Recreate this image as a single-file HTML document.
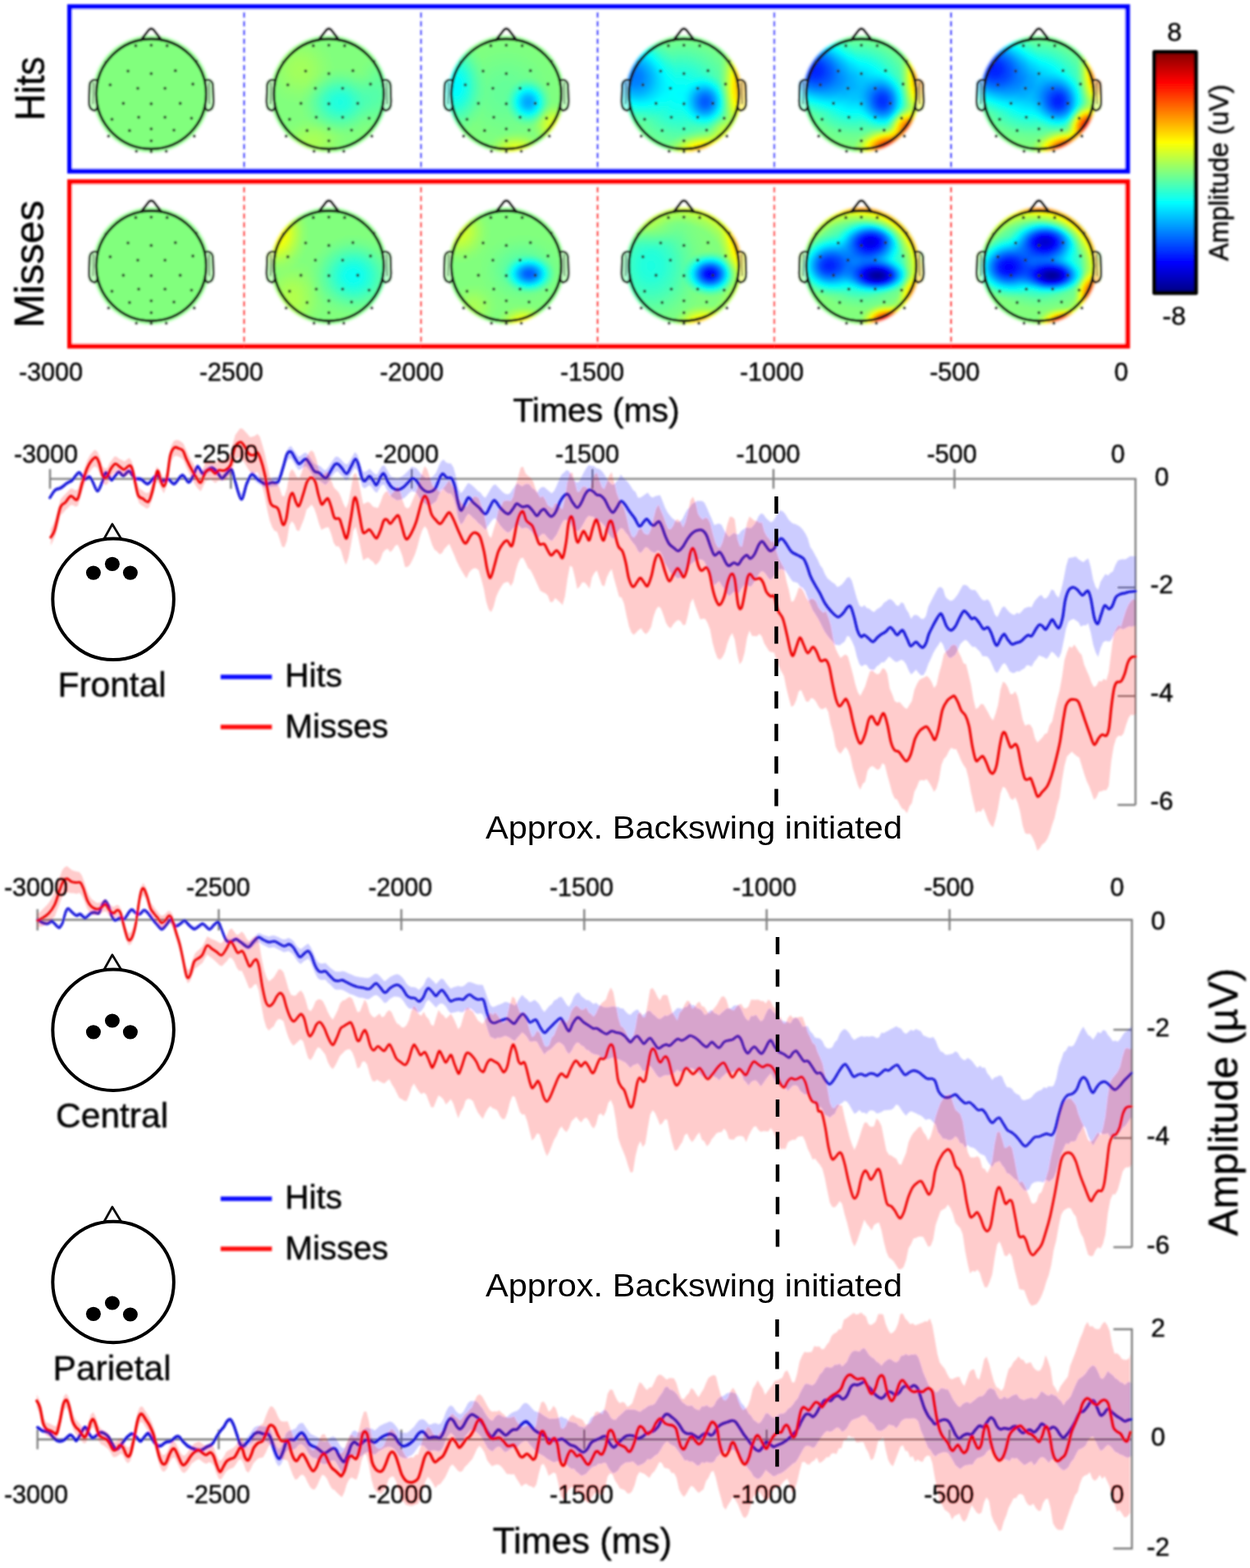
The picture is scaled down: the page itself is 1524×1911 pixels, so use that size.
<!DOCTYPE html>
<html lang="en"><head><meta charset="utf-8"><title>ERP figure</title>
<style>
html,body{margin:0;padding:0;background:#fff;}
body{width:1524px;height:1911px;overflow:hidden;}
svg{display:block;font-family:"Liberation Sans", sans-serif;}
text{fill:#000;}
.bl text{stroke:#111;stroke-width:0.45px;}
</style></head><body>
<svg width="1524" height="1911" viewBox="0 0 1524 1911">
<defs>
<filter id="jet" x="-10%" y="-10%" width="120%" height="120%" color-interpolation-filters="sRGB">
<feComponentTransfer>
<feFuncR type="table" tableValues="0 0 0 0 0.5 1 1 1 0.5"/>
<feFuncG type="table" tableValues="0 0 0.5 1 1 1 0.5 0 0"/>
<feFuncB type="table" tableValues="0.5 1 1 1 0.5 0 0 0 0"/>
</feComponentTransfer>
<feGaussianBlur stdDeviation="1.6"/>
</filter>
<filter id="soft2" x="-5%" y="-5%" width="110%" height="110%"><feGaussianBlur stdDeviation="0.55"/></filter>
<filter id="soft" filterUnits="userSpaceOnUse" x="0" y="0" width="1524" height="1911"><feGaussianBlur stdDeviation="1.0"/></filter>
<radialGradient id="gk"><stop offset="0" stop-color="#000" stop-opacity="1"/><stop offset="0.2" stop-color="#000" stop-opacity="0.9"/><stop offset="0.4" stop-color="#000" stop-opacity="0.66"/><stop offset="0.6" stop-color="#000" stop-opacity="0.36"/><stop offset="0.8" stop-color="#000" stop-opacity="0.12"/><stop offset="1" stop-color="#000" stop-opacity="0"/></radialGradient>
<radialGradient id="gw"><stop offset="0" stop-color="#fff" stop-opacity="1"/><stop offset="0.2" stop-color="#fff" stop-opacity="0.9"/><stop offset="0.4" stop-color="#fff" stop-opacity="0.66"/><stop offset="0.6" stop-color="#fff" stop-opacity="0.36"/><stop offset="0.8" stop-color="#fff" stop-opacity="0.12"/><stop offset="1" stop-color="#fff" stop-opacity="0"/></radialGradient>
<radialGradient id="gr"><stop offset="0" stop-color="#fff" stop-opacity="0"/><stop offset="0.72" stop-color="#fff" stop-opacity="0"/><stop offset="0.86" stop-color="#fff" stop-opacity="0.35"/><stop offset="1" stop-color="#fff" stop-opacity="1"/></radialGradient>
<linearGradient id="cbar" x1="0" y1="1" x2="0" y2="0">
<stop offset="0" stop-color="#000080"/><stop offset="0.125" stop-color="#0000ff"/><stop offset="0.375" stop-color="#00ffff"/><stop offset="0.5" stop-color="#80ff80"/><stop offset="0.625" stop-color="#ffff00"/><stop offset="0.875" stop-color="#ff0000"/><stop offset="1" stop-color="#800000"/>
</linearGradient>
<clipPath id="hc"><circle cx="0" cy="0" r="71"/><rect x="-75.5" y="-17" width="12" height="37" rx="5"/><rect x="63.5" y="-17" width="12" height="37" rx="5"/></clipPath>
<g id="head" fill="none" stroke="#161616" stroke-width="3.3" stroke-linejoin="round" stroke-linecap="round">
<path d="M-12.5,-65.8 L-3,-78 Q0,-81 3,-78 L12.5,-65.8"/>
<path d="M-66.3,-17 Q-74,-18.5 -75.2,-11 L-76,9 Q-76,19.5 -69,20.3 Q-66,19 -65.5,14" stroke-width="2.7" fill="#fff" fill-opacity="0.5"/>
<path d="M66.3,-17 Q74,-18.5 75.2,-11 L76,9 Q76,19.5 69,20.3 Q66,19 65.5,14" stroke-width="2.7" fill="#fff" fill-opacity="0.5"/>
<path d="M-70.5,-14 L-71,12 M70.5,-14 L71,12" stroke-width="1.2" opacity="0.7"/>
<circle cx="0" cy="0" r="67"/>
<g fill="#263026" stroke="none" opacity="0.95">
<circle cx="-18.9" cy="-58.8" r="1.9"/><circle cx="0.0" cy="-59.4" r="1.9"/><circle cx="19.3" cy="-58.8" r="1.9"/><circle cx="-55.2" cy="-38.8" r="1.9"/><circle cx="55.0" cy="-39.9" r="1.9"/><circle cx="-28.3" cy="-27.9" r="1.9"/><circle cx="0.0" cy="-24.8" r="1.9"/><circle cx="29.4" cy="-28.3" r="1.9"/><circle cx="-50.0" cy="-11.1" r="1.9"/><circle cx="50.8" cy="-12.0" r="1.9"/><circle cx="-16.4" cy="-6.9" r="1.9"/><circle cx="16.8" cy="-6.9" r="1.9"/><circle cx="-34.0" cy="11.5" r="1.9"/><circle cx="0.0" cy="12.0" r="1.9"/><circle cx="35.3" cy="11.5" r="1.9"/><circle cx="-47.9" cy="30.9" r="1.9"/><circle cx="49.1" cy="29.6" r="1.9"/><circle cx="-15.3" cy="28.3" r="1.9"/><circle cx="16.8" cy="28.3" r="1.9"/><circle cx="-26.5" cy="44.7" r="1.9"/><circle cx="0.0" cy="42.6" r="1.9"/><circle cx="27.7" cy="44.1" r="1.9"/><circle cx="0.0" cy="57.1" r="1.9"/><circle cx="-52.1" cy="51.4" r="1.9"/><circle cx="52.5" cy="51.4" r="1.9"/><circle cx="-18.1" cy="69.9" r="1.9"/><circle cx="0.0" cy="70.3" r="1.9"/><circle cx="18.3" cy="69.9" r="1.9"/></g></g>
</defs>
<rect width="1524" height="1911" fill="#fff"/>
<g class="bl" filter="url(#soft)">
<rect x="85" y="8.2" width="1289.7" height="200.3" fill="#fff" stroke="#0000ff" stroke-width="6"/>
<rect x="85" y="221.5" width="1289.7" height="200.3" fill="#fff" stroke="#ff0000" stroke-width="6"/>
<line x1="297.7" y1="15" x2="297.7" y2="206" stroke="#1010ff" stroke-width="2.3" stroke-dasharray="6.5 4.2"/>
<line x1="297.7" y1="228" x2="297.7" y2="424" stroke="#ff1010" stroke-width="2.3" stroke-dasharray="6.5 4.2"/>
<line x1="513.2" y1="15" x2="513.2" y2="206" stroke="#1010ff" stroke-width="2.3" stroke-dasharray="6.5 4.2"/>
<line x1="513.2" y1="228" x2="513.2" y2="424" stroke="#ff1010" stroke-width="2.3" stroke-dasharray="6.5 4.2"/>
<line x1="728.6" y1="15" x2="728.6" y2="206" stroke="#1010ff" stroke-width="2.3" stroke-dasharray="6.5 4.2"/>
<line x1="728.6" y1="228" x2="728.6" y2="424" stroke="#ff1010" stroke-width="2.3" stroke-dasharray="6.5 4.2"/>
<line x1="944.0" y1="15" x2="944.0" y2="206" stroke="#1010ff" stroke-width="2.3" stroke-dasharray="6.5 4.2"/>
<line x1="944.0" y1="228" x2="944.0" y2="424" stroke="#ff1010" stroke-width="2.3" stroke-dasharray="6.5 4.2"/>
<line x1="1159.6" y1="15" x2="1159.6" y2="206" stroke="#1010ff" stroke-width="2.3" stroke-dasharray="6.5 4.2"/>
<line x1="1159.6" y1="228" x2="1159.6" y2="424" stroke="#ff1010" stroke-width="2.3" stroke-dasharray="6.5 4.2"/>
<g transform="translate(184.4,114.5)"><g filter="url(#jet)"><g clip-path="url(#hc)"><rect x="-80" y="-80" width="160" height="160" fill="#808080"/></g></g><use href="#head"/></g>
<g transform="translate(400.9,114.5)"><g filter="url(#jet)"><g clip-path="url(#hc)"><rect x="-80" y="-80" width="160" height="160" fill="#808080"/><ellipse cx="14" cy="10" rx="50" ry="42" fill="url(#gk)" opacity="0.2"/><ellipse cx="60" cy="0" rx="30" ry="50" fill="url(#gk)" opacity="0.08"/><ellipse cx="-35" cy="-30" rx="45" ry="45" fill="url(#gw)" opacity="0.07"/><ellipse cx="-20" cy="58" rx="45" ry="30" fill="url(#gw)" opacity="0.08"/></g></g><use href="#head"/></g>
<g transform="translate(617.3,114.5)"><g filter="url(#jet)"><g clip-path="url(#hc)"><rect x="-80" y="-80" width="160" height="160" fill="#808080"/><ellipse cx="27" cy="10" rx="28" ry="30" fill="url(#gk)" opacity="0.42"/><ellipse cx="-62" cy="-10" rx="38" ry="62" fill="url(#gk)" opacity="0.27"/><ellipse cx="0" cy="0" rx="70" ry="70" fill="url(#gk)" opacity="0.06"/><ellipse cx="58" cy="38" rx="28" ry="28" fill="url(#gw)" opacity="0.2"/><ellipse cx="12" cy="70" rx="38" ry="25" fill="url(#gw)" opacity="0.22"/></g></g><use href="#head"/></g>
<g transform="translate(833.8,114.5)"><g filter="url(#jet)"><g clip-path="url(#hc)"><rect x="-80" y="-80" width="160" height="160" fill="#808080"/><ellipse cx="27" cy="10" rx="30" ry="34" fill="url(#gk)" opacity="0.5"/><ellipse cx="-62" cy="-22" rx="52" ry="60" fill="url(#gk)" opacity="0.5"/><ellipse cx="-5" cy="0" rx="85" ry="80" fill="url(#gk)" opacity="0.26"/><ellipse cx="70" cy="-10" rx="28" ry="70" fill="url(#gw)" opacity="0.42"/><ellipse cx="25" cy="72" rx="50" ry="28" fill="url(#gw)" opacity="0.45"/><ellipse cx="52" cy="50" rx="26" ry="26" fill="url(#gw)" opacity="0.2"/></g></g><use href="#head"/></g>
<g transform="translate(1050.2,114.5)"><g filter="url(#jet)"><g clip-path="url(#hc)"><rect x="-80" y="-80" width="160" height="160" fill="#808080"/><ellipse cx="27" cy="10" rx="32" ry="38" fill="url(#gk)" opacity="0.58"/><ellipse cx="-60" cy="-30" rx="58" ry="55" fill="url(#gk)" opacity="0.66"/><ellipse cx="-8" cy="-8" rx="85" ry="72" fill="url(#gk)" opacity="0.4"/><ellipse cx="72" cy="-20" rx="26" ry="60" fill="url(#gw)" opacity="0.5"/><ellipse cx="36" cy="66" rx="46" ry="26" fill="url(#gw)" opacity="0.75"/><ellipse cx="58" cy="42" rx="28" ry="28" fill="url(#gw)" opacity="0.6"/></g></g><use href="#head"/></g>
<g transform="translate(1266.6,114.5)"><g filter="url(#jet)"><g clip-path="url(#hc)"><rect x="-80" y="-80" width="160" height="160" fill="#808080"/><ellipse cx="25" cy="10" rx="34" ry="38" fill="url(#gk)" opacity="0.6"/><ellipse cx="-58" cy="-32" rx="60" ry="55" fill="url(#gk)" opacity="0.66"/><ellipse cx="-8" cy="-8" rx="88" ry="72" fill="url(#gk)" opacity="0.42"/><ellipse cx="74" cy="-25" rx="28" ry="55" fill="url(#gw)" opacity="0.6"/><ellipse cx="36" cy="68" rx="46" ry="26" fill="url(#gw)" opacity="0.75"/><ellipse cx="60" cy="40" rx="28" ry="30" fill="url(#gw)" opacity="0.75"/></g></g><use href="#head"/></g>
<g transform="translate(184.4,324.0)"><g filter="url(#jet)"><g clip-path="url(#hc)"><rect x="-80" y="-80" width="160" height="160" fill="#808080"/></g></g><use href="#head"/></g>
<g transform="translate(400.9,324.0)"><g filter="url(#jet)"><g clip-path="url(#hc)"><rect x="-80" y="-80" width="160" height="160" fill="#808080"/><ellipse cx="30" cy="12" rx="55" ry="50" fill="url(#gk)" opacity="0.24"/><ellipse cx="-64" cy="-40" rx="40" ry="50" fill="url(#gw)" opacity="0.28"/><ellipse cx="-45" cy="40" rx="40" ry="50" fill="url(#gw)" opacity="0.1"/></g></g><use href="#head"/></g>
<g transform="translate(617.3,324.0)"><g filter="url(#jet)"><g clip-path="url(#hc)"><rect x="-80" y="-80" width="160" height="160" fill="#808080"/><ellipse cx="28" cy="10" rx="32" ry="24" fill="url(#gk)" opacity="0.55"/><ellipse cx="20" cy="5" rx="55" ry="45" fill="url(#gk)" opacity="0.1"/><ellipse cx="-58" cy="-42" rx="40" ry="40" fill="url(#gw)" opacity="0.17"/><ellipse cx="22" cy="70" rx="35" ry="22" fill="url(#gw)" opacity="0.28"/><ellipse cx="-40" cy="50" rx="30" ry="30" fill="url(#gw)" opacity="0.08"/></g></g><use href="#head"/></g>
<g transform="translate(833.8,324.0)"><g filter="url(#jet)"><g clip-path="url(#hc)"><rect x="-80" y="-80" width="160" height="160" fill="#808080"/><ellipse cx="32" cy="10" rx="34" ry="28" fill="url(#gk)" opacity="0.78"/><ellipse cx="-40" cy="0" rx="70" ry="80" fill="url(#gk)" opacity="0.2"/><ellipse cx="72" cy="-30" rx="30" ry="50" fill="url(#gw)" opacity="0.3"/><ellipse cx="25" cy="72" rx="40" ry="25" fill="url(#gw)" opacity="0.38"/><ellipse cx="-40" cy="-48" rx="40" ry="30" fill="url(#gw)" opacity="0.1"/><circle cx="-8" cy="8" r="82" fill="url(#gr)" opacity="0.22"/></g></g><use href="#head"/></g>
<g transform="translate(1050.2,324.0)"><g filter="url(#jet)"><g clip-path="url(#hc)"><rect x="-80" y="-80" width="160" height="160" fill="#808080"/><ellipse cx="20" cy="12" rx="42" ry="22" fill="url(#gk)" opacity="0.95"/><ellipse cx="12" cy="-30" rx="42" ry="28" fill="url(#gk)" opacity="0.75"/><ellipse cx="-42" cy="0" rx="40" ry="38" fill="url(#gk)" opacity="0.62"/><ellipse cx="0" cy="-5" rx="72" ry="58" fill="url(#gk)" opacity="0.5"/><ellipse cx="32" cy="68" rx="34" ry="22" fill="url(#gw)" opacity="0.85"/><ellipse cx="66" cy="36" rx="22" ry="28" fill="url(#gw)" opacity="0.35"/><ellipse cx="0" cy="-74" rx="50" ry="14" fill="url(#gw)" opacity="0.25"/><circle cx="-8" cy="8" r="82" fill="url(#gr)" opacity="0.4"/></g></g><use href="#head"/></g>
<g transform="translate(1266.6,324.0)"><g filter="url(#jet)"><g clip-path="url(#hc)"><rect x="-80" y="-80" width="160" height="160" fill="#808080"/><ellipse cx="16" cy="12" rx="42" ry="22" fill="url(#gk)" opacity="0.95"/><ellipse cx="8" cy="-30" rx="44" ry="28" fill="url(#gk)" opacity="0.8"/><ellipse cx="-40" cy="2" rx="44" ry="38" fill="url(#gk)" opacity="0.7"/><ellipse cx="0" cy="-5" rx="74" ry="58" fill="url(#gk)" opacity="0.5"/><ellipse cx="32" cy="70" rx="36" ry="20" fill="url(#gw)" opacity="0.8"/><ellipse cx="64" cy="32" rx="22" ry="28" fill="url(#gw)" opacity="0.5"/><ellipse cx="0" cy="-74" rx="55" ry="14" fill="url(#gw)" opacity="0.3"/><circle cx="-8" cy="8" r="82" fill="url(#gr)" opacity="0.42"/></g></g><use href="#head"/></g>
<text transform="translate(53.5,108) rotate(-90)" font-size="50" text-anchor="middle" textLength="78" lengthAdjust="spacingAndGlyphs">Hits</text>
<text transform="translate(53,322) rotate(-90)" font-size="50" text-anchor="middle">Misses</text>
<text x="62" y="463.5" font-size="30.6" text-anchor="middle" fill="#1a1a1a">-3000</text>
<text x="282" y="463.5" font-size="30.6" text-anchor="middle" fill="#1a1a1a">-2500</text>
<text x="502" y="463.5" font-size="30.6" text-anchor="middle" fill="#1a1a1a">-2000</text>
<text x="722" y="463.5" font-size="30.6" text-anchor="middle" fill="#1a1a1a">-1500</text>
<text x="941" y="463.5" font-size="30.6" text-anchor="middle" fill="#1a1a1a">-1000</text>
<text x="1164" y="463.5" font-size="30.6" text-anchor="middle" fill="#1a1a1a">-500</text>
<text x="1367" y="463.5" font-size="30.6" text-anchor="middle" fill="#1a1a1a">0</text>
<text x="727" y="514" font-size="41" text-anchor="middle">Times (ms)</text>
<rect x="1407.5" y="63.5" width="50.5" height="293.5" fill="url(#cbar)" stroke="#000" stroke-width="5" stroke-linejoin="round"/>
<text x="1432" y="50.3" font-size="32" text-anchor="middle">8</text>
<text x="1431.5" y="396" font-size="32" text-anchor="middle">-8</text>
<text transform="translate(1497.3,210.5) rotate(-90)" font-size="32.5" text-anchor="middle" fill="#1a1a1a">Amplitude (uV)</text>
<g stroke="#7f7f7f" stroke-width="2.4" fill="none"><path d="M61,583.6 H1384.4 V981"/><path d="M61,571.6 V595.6"/><path d="M281.5,571.6 V595.6"/><path d="M502,571.6 V595.6"/><path d="M722.3,571.6 V595.6"/><path d="M943,571.6 V595.6"/><path d="M1163.7,571.6 V595.6"/><path d="M1362.5,716 H1384.4"/><path d="M1362.5,848.3 H1384.4"/><path d="M1362.5,981 H1384.4"/><path d="M45.7,1121 H1380 V1520"/><path d="M45.7,1108 V1134"/><path d="M266.7,1108 V1134"/><path d="M489.3,1108 V1134"/><path d="M712.3,1108 V1134"/><path d="M934.7,1108 V1134"/><path d="M1157.7,1108 V1134"/><path d="M1357.5,1255 H1380"/><path d="M1357.5,1387 H1380"/><path d="M1357.5,1520 H1380"/><path d="M45.7,1754.3 H1380"/><path d="M1357.5,1620 H1380 V1887.3 H1357.5"/><path d="M45.7,1742.3 V1766.3"/><path d="M266.7,1742.3 V1766.3"/><path d="M489.3,1742.3 V1766.3"/><path d="M712.3,1742.3 V1766.3"/><path d="M934.7,1742.3 V1766.3"/><path d="M1157.7,1742.3 V1766.3"/></g>
<path d="M60.8,603.7 L63.8,599.2 L66.8,594.8 L69.8,593.1 L72.8,592.0 L75.8,590.4 L78.8,588.1 L81.8,585.8 L84.8,584.1 L87.8,582.3 L90.8,579.1 L93.8,575.6 L96.8,573.5 L99.8,577.0 L102.8,580.6 L105.8,579.6 L108.8,578.0 L111.8,582.3 L114.8,587.5 L117.8,593.7 L120.8,591.9 L123.8,585.8 L126.8,578.4 L129.8,574.5 L132.8,578.3 L135.8,581.1 L138.8,579.1 L141.8,575.5 L144.8,572.4 L147.8,575.0 L150.8,576.7 L153.8,574.2 L156.8,571.6 L159.8,574.5 L162.8,578.3 L165.8,580.1 L168.8,580.6 L171.8,580.9 L174.8,583.1 L177.8,585.4 L180.8,585.9 L183.8,583.1 L186.8,580.0 L189.8,577.5 L192.8,577.3 L195.8,580.9 L198.8,582.7 L201.8,581.9 L204.8,581.1 L207.8,582.7 L210.8,585.5 L213.8,585.1 L216.8,581.7 L219.8,578.3 L222.8,576.3 L225.8,579.6 L228.8,582.9 L231.8,581.7 L234.8,577.4 L237.8,571.5 L240.8,564.8 L243.8,568.9 L246.8,573.4 L249.8,571.4 L252.8,569.3 L255.8,567.7 L258.8,566.5 L261.8,569.0 L264.8,571.5 L267.8,575.3 L270.8,578.5 L273.8,575.5 L276.8,572.7 L279.8,569.9 L282.8,569.6 L285.8,579.5 L288.8,588.3 L291.8,597.5 L294.8,601.9 L297.8,593.3 L300.8,584.9 L303.8,579.1 L306.8,573.6 L309.8,575.8 L312.8,578.4 L315.8,580.3 L318.8,582.0 L321.8,584.0 L324.8,584.5 L327.8,583.9 L330.8,582.9 L333.8,582.1 L336.8,581.4 L339.8,579.6 L342.8,570.3 L345.8,560.6 L348.8,550.4 L351.8,545.4 L354.8,543.5 L357.8,547.9 L360.8,551.9 L363.8,556.4 L366.8,555.6 L369.8,552.8 L372.8,551.4 L375.8,554.3 L378.8,558.5 L381.8,563.2 L384.8,566.3 L387.8,567.0 L390.8,568.6 L393.8,571.6 L396.8,573.6 L399.8,570.0 L402.8,565.3 L405.8,561.0 L408.8,556.8 L411.8,556.4 L414.8,558.9 L417.8,562.2 L420.8,565.5 L423.8,565.7 L426.8,561.0 L429.8,556.0 L432.8,551.0 L435.8,554.3 L438.8,563.5 L441.8,573.8 L444.8,575.6 L447.8,573.4 L450.8,571.1 L453.8,574.5 L456.8,577.5 L459.8,578.4 L462.8,572.6 L465.8,567.7 L468.8,567.3 L471.8,572.6 L474.8,578.0 L477.8,581.6 L480.8,582.3 L483.8,583.2 L486.8,582.6 L489.8,580.7 L492.8,578.5 L495.8,575.4 L498.8,572.4 L501.8,568.7 L504.8,569.5 L507.8,570.8 L510.8,574.6 L513.8,578.2 L516.8,580.5 L519.8,583.1 L522.8,582.1 L525.8,582.0 L528.8,579.8 L531.8,575.7 L534.8,568.3 L537.8,562.2 L540.8,560.0 L543.8,563.6 L546.8,564.8 L549.8,564.8 L552.8,569.5 L555.8,580.0 L558.8,594.7 L561.8,601.2 L564.8,598.0 L567.8,593.0 L570.8,588.5 L573.8,590.2 L576.8,592.6 L579.8,595.4 L582.8,598.6 L585.8,600.2 L588.8,604.4 L591.8,606.8 L594.8,601.8 L597.8,596.5 L600.8,591.9 L603.8,590.3 L606.8,593.2 L609.8,596.5 L612.8,599.4 L615.8,601.8 L618.8,602.4 L621.8,601.2 L624.8,596.7 L627.8,592.5 L630.8,588.9 L633.8,591.3 L636.8,592.7 L639.8,590.4 L642.8,589.8 L645.8,590.7 L648.8,594.9 L651.8,596.7 L654.8,600.5 L657.8,595.8 L660.8,593.4 L663.8,593.7 L666.8,596.4 L669.8,599.0 L672.8,601.2 L675.8,597.9 L678.8,591.8 L681.8,584.1 L684.8,578.2 L687.8,575.8 L690.8,572.7 L693.8,574.2 L696.8,579.7 L699.8,584.5 L702.8,588.0 L705.8,587.0 L708.8,581.6 L711.8,575.6 L714.8,570.6 L717.8,566.7 L720.8,567.7 L723.8,567.8 L726.8,570.4 L729.8,571.3 L732.8,573.1 L735.8,576.5 L738.8,581.5 L741.8,586.3 L744.8,589.7 L747.8,591.1 L750.8,588.0 L753.8,584.0 L756.8,578.3 L759.8,581.9 L762.8,584.7 L765.8,588.1 L768.8,592.2 L771.8,597.2 L774.8,599.6 L777.8,606.4 L780.8,606.5 L783.8,604.6 L786.8,602.3 L789.8,600.2 L792.8,604.8 L795.8,606.4 L798.8,604.7 L801.8,603.9 L804.8,603.4 L807.8,610.4 L810.8,618.6 L813.8,624.3 L816.8,628.2 L819.8,631.8 L822.8,633.8 L825.8,636.7 L828.8,635.5 L831.8,633.0 L834.8,626.8 L837.8,621.2 L840.8,618.5 L843.8,614.1 L846.8,612.6 L849.8,610.5 L852.8,610.6 L855.8,610.6 L858.8,612.4 L861.8,618.8 L864.8,626.1 L867.8,632.4 L870.8,640.0 L873.8,638.8 L876.8,638.1 L879.8,639.7 L882.8,646.1 L885.8,650.4 L888.8,654.5 L891.8,651.8 L894.8,649.5 L897.8,650.9 L900.8,651.2 L903.8,646.8 L906.8,644.9 L909.8,642.7 L912.8,643.5 L915.8,643.6 L918.8,640.4 L921.8,636.3 L924.8,629.3 L927.8,625.8 L930.8,626.8 L933.8,631.3 L936.8,633.9 L939.8,636.6 L942.8,635.1 L945.8,629.9 L948.8,624.3 L951.8,622.1 L954.8,623.4 L957.8,627.1 L960.8,632.3 L963.8,635.7 L966.8,638.1 L969.8,638.8 L972.8,640.3 L975.8,642.2 L978.8,645.4 L981.8,649.9 L984.8,655.9 L987.8,666.5 L990.8,670.8 L993.8,676.6 L996.8,681.7 L999.8,688.8 L1002.8,692.5 L1005.8,699.8 L1008.8,704.7 L1011.8,707.3 L1014.8,709.7 L1017.8,711.6 L1020.8,715.4 L1023.8,714.3 L1026.8,712.0 L1029.8,708.2 L1032.8,704.0 L1035.8,703.3 L1038.8,708.3 L1041.8,719.3 L1044.8,729.4 L1047.8,737.9 L1050.8,740.1 L1053.8,737.4 L1056.8,741.1 L1059.8,741.8 L1062.8,744.4 L1065.8,746.0 L1068.8,742.7 L1071.8,741.1 L1074.8,738.7 L1077.8,734.6 L1080.8,732.8 L1083.8,730.3 L1086.8,730.8 L1089.8,733.5 L1092.8,737.8 L1095.8,738.4 L1098.8,733.9 L1101.8,735.5 L1104.8,742.5 L1107.8,747.0 L1110.8,754.2 L1113.8,749.9 L1116.8,749.3 L1119.8,750.8 L1122.8,754.1 L1125.8,754.6 L1128.8,750.9 L1131.8,739.3 L1134.8,733.2 L1137.8,727.6 L1140.8,721.7 L1143.8,716.5 L1146.8,715.3 L1149.8,717.7 L1152.8,727.4 L1155.8,730.4 L1158.8,732.3 L1161.8,731.5 L1164.8,728.2 L1167.8,724.2 L1170.8,718.8 L1173.8,713.2 L1176.8,712.8 L1179.8,714.3 L1182.8,718.1 L1185.8,719.2 L1188.8,718.9 L1191.8,722.8 L1194.8,727.6 L1197.8,731.2 L1200.8,732.0 L1203.8,730.2 L1206.8,733.6 L1209.8,740.4 L1212.8,748.7 L1215.8,752.3 L1218.8,746.5 L1221.8,740.2 L1224.8,739.0 L1227.8,743.1 L1230.8,746.2 L1233.8,748.5 L1236.8,749.6 L1239.8,746.8 L1242.8,747.9 L1245.8,745.0 L1248.8,741.6 L1251.8,740.3 L1254.8,739.4 L1257.8,739.9 L1260.8,733.5 L1263.8,729.8 L1266.8,726.4 L1269.8,725.0 L1272.8,729.6 L1275.8,729.1 L1278.8,725.2 L1281.8,718.4 L1284.8,719.5 L1287.8,725.6 L1290.8,728.6 L1293.8,718.7 L1296.8,705.8 L1299.8,690.0 L1302.8,680.1 L1305.8,679.8 L1308.8,679.0 L1311.8,678.3 L1314.8,681.5 L1317.8,683.4 L1320.8,685.3 L1323.8,682.4 L1326.8,680.5 L1329.8,690.9 L1332.8,706.7 L1335.8,715.4 L1338.8,719.1 L1341.8,708.9 L1344.8,703.9 L1347.8,699.4 L1350.8,701.6 L1353.8,698.2 L1356.8,696.4 L1359.8,688.7 L1362.8,683.3 L1365.8,682.0 L1368.8,681.6 L1371.8,681.7 L1374.8,680.1 L1377.8,677.8 L1380.8,678.1 L1383.8,677.7 L1384.5,678.0 L1384.5,763.2 L1383.8,762.2 L1380.8,763.7 L1377.8,763.3 L1374.8,764.1 L1371.8,765.7 L1368.8,767.0 L1365.8,765.2 L1362.8,767.7 L1359.8,770.3 L1356.8,776.8 L1353.8,781.6 L1350.8,781.8 L1347.8,781.1 L1344.8,783.0 L1341.8,790.1 L1338.8,800.7 L1335.8,795.0 L1332.8,785.7 L1329.8,770.4 L1326.8,759.4 L1323.8,762.2 L1320.8,762.0 L1317.8,763.8 L1314.8,758.3 L1311.8,756.2 L1308.8,754.2 L1305.8,755.5 L1302.8,757.4 L1299.8,766.0 L1296.8,781.6 L1293.8,795.4 L1290.8,802.2 L1287.8,799.3 L1284.8,795.8 L1281.8,794.3 L1278.8,799.8 L1275.8,803.2 L1272.8,801.0 L1269.8,800.0 L1266.8,798.8 L1263.8,803.3 L1260.8,806.7 L1257.8,812.4 L1254.8,811.0 L1251.8,810.7 L1248.8,814.7 L1245.8,816.3 L1242.8,818.5 L1239.8,817.9 L1236.8,820.2 L1233.8,820.0 L1230.8,818.1 L1227.8,812.1 L1224.8,808.0 L1221.8,810.2 L1218.8,815.5 L1215.8,820.4 L1212.8,817.6 L1209.8,810.4 L1206.8,803.9 L1203.8,800.2 L1200.8,799.7 L1197.8,799.8 L1194.8,794.2 L1191.8,791.4 L1188.8,788.2 L1185.8,788.6 L1182.8,785.4 L1179.8,781.6 L1176.8,779.7 L1173.8,781.9 L1170.8,785.1 L1167.8,791.5 L1164.8,797.7 L1161.8,800.1 L1158.8,801.9 L1155.8,800.3 L1152.8,794.3 L1149.8,785.7 L1146.8,781.4 L1143.8,786.4 L1140.8,790.7 L1137.8,796.1 L1134.8,803.0 L1131.8,809.2 L1128.8,817.8 L1125.8,823.1 L1122.8,823.0 L1119.8,819.9 L1116.8,815.9 L1113.8,819.5 L1110.8,821.9 L1107.8,816.9 L1104.8,809.7 L1101.8,805.6 L1098.8,804.0 L1095.8,805.7 L1092.8,807.0 L1089.8,805.2 L1086.8,802.2 L1083.8,799.9 L1080.8,803.9 L1077.8,807.3 L1074.8,807.3 L1071.8,810.2 L1068.8,812.2 L1065.8,816.5 L1062.8,816.5 L1059.8,815.2 L1056.8,810.6 L1053.8,810.0 L1050.8,812.2 L1047.8,809.4 L1044.8,800.7 L1041.8,788.5 L1038.8,781.7 L1035.8,776.0 L1032.8,775.1 L1029.8,782.0 L1026.8,783.9 L1023.8,786.5 L1020.8,786.0 L1017.8,785.7 L1014.8,781.3 L1011.8,778.2 L1008.8,774.6 L1005.8,770.3 L1002.8,764.6 L999.8,758.3 L996.8,752.8 L993.8,747.9 L990.8,743.2 L987.8,736.0 L984.8,729.0 L981.8,720.8 L978.8,716.5 L975.8,715.2 L972.8,710.7 L969.8,709.4 L966.8,709.1 L963.8,705.3 L960.8,700.5 L957.8,696.0 L954.8,693.9 L951.8,693.2 L948.8,694.9 L945.8,699.4 L942.8,702.9 L939.8,706.7 L936.8,704.3 L933.8,699.7 L930.8,696.4 L927.8,696.3 L924.8,700.1 L921.8,705.5 L918.8,710.6 L915.8,714.7 L912.8,714.5 L909.8,711.6 L906.8,713.8 L903.8,717.6 L900.8,722.9 L897.8,721.8 L894.8,721.1 L891.8,723.9 L888.8,726.4 L885.8,722.6 L882.8,717.3 L879.8,713.3 L876.8,707.9 L873.8,710.7 L870.8,713.3 L867.8,706.1 L864.8,698.6 L861.8,690.9 L858.8,684.2 L855.8,682.0 L852.8,681.7 L849.8,682.2 L846.8,684.0 L843.8,686.5 L840.8,688.7 L837.8,693.8 L834.8,697.8 L831.8,701.6 L828.8,704.3 L825.8,705.0 L822.8,701.8 L819.8,699.7 L816.8,697.2 L813.8,691.6 L810.8,686.5 L807.8,677.6 L804.8,672.2 L801.8,670.8 L798.8,673.8 L795.8,673.0 L792.8,671.1 L789.8,667.6 L786.8,666.8 L783.8,670.7 L780.8,674.0 L777.8,671.3 L774.8,665.0 L771.8,661.4 L768.8,657.6 L765.8,652.2 L762.8,649.0 L759.8,644.6 L756.8,643.4 L753.8,647.1 L750.8,652.4 L747.8,656.8 L744.8,654.6 L741.8,650.6 L738.8,643.1 L735.8,639.3 L732.8,636.3 L729.8,635.5 L726.8,634.0 L723.8,629.7 L720.8,629.5 L717.8,628.5 L714.8,631.7 L711.8,637.2 L708.8,642.5 L705.8,646.7 L702.8,646.7 L699.8,644.7 L696.8,640.3 L693.8,634.0 L690.8,633.8 L687.8,633.4 L684.8,637.9 L681.8,644.4 L678.8,651.3 L675.8,655.2 L672.8,659.2 L669.8,657.5 L666.8,654.3 L663.8,650.5 L660.8,650.8 L657.8,653.6 L654.8,657.6 L651.8,652.7 L648.8,648.6 L645.8,645.5 L642.8,643.2 L639.8,643.1 L636.8,644.2 L633.8,642.1 L630.8,638.6 L627.8,641.3 L624.8,644.5 L621.8,648.1 L618.8,649.0 L615.8,646.8 L612.8,643.8 L609.8,640.2 L606.8,635.6 L603.8,631.3 L600.8,633.0 L597.8,637.1 L594.8,641.2 L591.8,645.8 L588.8,642.5 L585.8,639.6 L582.8,637.2 L579.8,633.5 L576.8,631.3 L573.8,628.0 L570.8,626.0 L567.8,630.4 L564.8,636.6 L561.8,639.2 L558.8,632.3 L555.8,617.1 L552.8,606.5 L549.8,601.5 L546.8,601.4 L543.8,599.5 L540.8,595.7 L537.8,597.5 L534.8,603.5 L531.8,610.7 L528.8,613.0 L525.8,615.1 L522.8,615.8 L519.8,615.1 L516.8,612.6 L513.8,610.2 L510.8,605.8 L507.8,600.6 L504.8,599.2 L501.8,598.4 L498.8,600.9 L495.8,604.3 L492.8,607.0 L489.8,608.4 L486.8,609.2 L483.8,609.7 L480.8,607.6 L477.8,606.1 L474.8,601.9 L471.8,597.3 L468.8,591.1 L465.8,590.8 L462.8,595.0 L459.8,600.5 L456.8,599.0 L453.8,594.5 L450.8,591.2 L447.8,592.9 L444.8,595.3 L441.8,593.3 L438.8,582.5 L435.8,573.7 L432.8,569.9 L429.8,574.8 L426.8,579.7 L423.8,584.8 L420.8,584.7 L417.8,580.8 L414.8,577.9 L411.8,574.3 L408.8,575.4 L405.8,578.9 L402.8,583.8 L399.8,588.0 L396.8,591.1 L393.8,588.9 L390.8,586.5 L387.8,584.8 L384.8,583.5 L381.8,580.6 L378.8,575.5 L375.8,571.3 L372.8,568.0 L369.8,569.8 L366.8,571.7 L363.8,572.7 L360.8,568.2 L357.8,563.2 L354.8,558.4 L351.8,559.6 L348.8,564.1 L345.8,573.8 L342.8,582.9 L339.8,591.5 L336.8,593.0 L333.8,593.1 L330.8,593.2 L327.8,593.8 L324.8,594.4 L321.8,593.9 L318.8,591.7 L315.8,589.9 L312.8,588.1 L309.8,585.3 L306.8,583.0 L303.8,588.5 L300.8,593.8 L297.8,602.6 L294.8,611.0 L291.8,606.2 L288.8,597.2 L285.8,588.0 L282.8,578.1 L279.8,578.4 L276.8,581.1 L273.8,583.8 L270.8,586.6 L267.8,583.6 L264.8,579.3 L261.8,576.7 L258.8,574.2 L255.8,575.5 L252.8,577.0 L249.8,578.8 L246.8,580.8 L243.8,576.1 L240.8,572.1 L237.8,578.6 L234.8,584.5 L231.8,588.9 L228.8,590.0 L225.8,586.4 L222.8,583.0 L219.8,584.9 L216.8,588.2 L213.8,591.5 L210.8,591.6 L207.8,589.0 L204.8,587.3 L201.8,588.0 L198.8,588.7 L195.8,586.7 L192.8,583.3 L189.8,583.5 L186.8,586.0 L183.8,589.0 L180.8,591.9 L177.8,591.2 L174.8,589.1 L171.8,587.1 L168.8,586.5 L165.8,586.1 L162.8,584.3 L159.8,580.4 L156.8,577.5 L153.8,580.0 L150.8,582.7 L147.8,581.0 L144.8,578.4 L141.8,581.4 L138.8,585.2 L135.8,587.3 L132.8,584.2 L129.8,580.5 L126.8,584.5 L123.8,591.8 L120.8,597.9 L117.8,599.7 L114.8,593.6 L111.8,588.1 L108.8,584.2 L105.8,585.7 L102.8,586.6 L99.8,583.0 L96.8,579.4 L93.8,581.7 L90.8,585.0 L87.8,588.4 L84.8,589.9 L81.8,591.6 L78.8,594.1 L75.8,596.4 L72.8,598.0 L69.8,599.1 L66.8,600.6 L63.8,605.2 L60.8,609.7Z" fill="#0000ff" fill-opacity="0.2"/>
<path d="M60.8,606.6C61.8,605.1 65.1,599.6 66.7,597.8C68.4,596.0 69.4,596.3 70.7,595.8C72.0,595.2 72.8,595.6 74.6,594.4C76.4,593.3 79.2,590.5 81.5,588.9C83.8,587.3 85.9,587.2 88.4,585.0C90.8,582.8 93.8,575.9 96.3,575.7C98.7,575.5 101.0,583.1 103.1,584.0C105.3,584.9 107.4,580.5 109.1,581.0C110.7,581.5 111.4,584.0 113.0,586.9C114.6,589.9 116.9,598.7 118.9,598.7C120.9,598.7 123.2,590.7 124.8,586.9C126.4,583.2 127.4,577.1 128.7,576.1C130.1,575.1 131.4,579.5 132.7,581.0C134.0,582.5 134.6,585.9 136.6,585.0C138.6,584.0 142.2,575.9 144.5,575.1C146.8,574.3 148.3,580.2 150.4,580.0C152.5,579.9 155.0,573.6 157.3,574.1C159.6,574.6 161.7,581.4 164.2,583.0C166.6,584.6 169.4,582.8 172.0,584.0C174.7,585.1 177.3,590.2 179.9,589.9C182.5,589.6 185.8,583.8 187.8,582.0C189.8,580.2 190.1,578.4 191.7,579.1C193.4,579.7 195.3,585.1 197.6,585.9C199.9,586.8 203.1,583.3 205.5,584.0C208.0,584.6 209.6,590.7 212.4,589.9C215.2,589.1 219.3,579.4 222.2,579.1C225.2,578.7 227.8,587.9 230.1,587.9C232.4,587.9 234.2,582.3 236.0,579.1C237.8,575.8 239.1,568.6 240.9,568.2C242.7,567.9 244.9,576.3 246.9,577.1C248.8,577.9 250.8,574.3 252.8,573.1C254.7,572.0 256.7,569.9 258.7,570.2C260.6,570.5 262.6,573.0 264.6,575.1C266.5,577.3 268.5,582.7 270.5,583.0C272.4,583.3 274.4,578.9 276.4,577.1C278.3,575.3 280.6,570.9 282.3,572.2C283.9,573.5 284.3,578.9 286.2,585.0C288.2,591.0 291.6,607.9 294.1,608.6C296.6,609.2 298.9,594.0 301.0,588.9C303.1,583.8 304.8,578.9 306.9,578.1C309.0,577.3 311.0,582.0 313.8,584.0C316.6,585.9 320.7,589.2 323.6,589.9C326.6,590.5 328.9,588.4 331.5,587.9C334.1,587.4 337.1,590.0 339.4,586.9C341.7,583.8 343.5,574.8 345.3,569.2C347.0,563.7 348.3,556.7 349.8,553.6C351.4,550.5 353.1,549.8 354.8,550.7C356.4,551.5 358.0,556.1 359.7,558.5C361.3,561.0 363.0,564.9 364.6,565.4C366.2,565.9 368.1,562.5 369.5,561.5C371.0,560.5 372.0,558.7 373.5,559.5C374.9,560.3 376.7,564.0 378.4,566.4C380.0,568.9 381.5,572.7 383.3,574.3C385.1,575.9 386.9,574.8 389.2,576.3C391.5,577.7 394.8,583.1 397.1,582.8C399.4,582.4 401.2,577.0 403.0,574.3C404.8,571.6 406.4,567.9 407.9,566.4C409.4,564.9 410.4,564.8 411.9,565.4C413.3,566.1 415.0,568.4 416.8,570.4C418.6,572.3 420.7,577.7 422.7,577.2C424.6,576.8 426.8,570.4 428.6,567.4C430.4,564.4 432.0,559.5 433.5,559.5C435.0,559.5 436.1,563.5 437.4,567.4C438.8,571.3 440.1,580.0 441.4,583.1C442.7,586.3 443.8,586.6 445.3,586.1C446.8,585.6 448.6,580.2 450.2,580.2C451.9,580.2 453.7,584.3 455.2,586.1C456.6,587.9 457.6,591.8 459.1,591.0C460.6,590.2 462.5,583.5 464.0,581.2C465.5,578.9 466.5,576.3 468.0,577.2C469.4,578.2 471.2,584.3 472.9,587.1C474.5,589.9 475.8,592.3 477.8,594.0C479.8,595.6 482.4,596.9 484.7,596.9C487.0,596.9 489.4,595.5 491.6,594.0C493.7,592.5 495.7,589.9 497.5,588.1C499.3,586.3 500.8,583.6 502.4,583.1C504.0,582.7 505.5,583.3 507.3,585.1C509.1,586.9 511.3,591.7 513.2,594.0C515.2,596.3 517.0,598.1 519.1,598.9C521.3,599.7 524.1,599.6 526.0,598.9C528.0,598.2 529.3,597.6 530.9,595.0C532.6,592.3 534.4,586.1 535.9,583.1C537.3,580.2 538.3,577.4 539.8,577.2C541.3,577.1 542.9,581.2 544.7,582.2C546.5,583.1 549.0,581.3 550.6,583.1C552.3,585.0 553.3,588.1 554.6,593.0C555.9,597.9 557.2,607.8 558.5,612.7C559.8,617.5 561.0,622.1 562.4,622.1C563.9,622.1 565.9,615.3 567.4,612.7C568.8,610.1 569.7,606.4 571.3,606.4C572.9,606.4 575.1,610.6 577.2,612.7C579.3,614.7 581.6,616.3 584.1,618.6C586.6,620.9 589.7,626.8 592.0,626.5C594.3,626.1 596.1,619.4 597.9,616.6C599.7,613.8 600.8,609.4 602.8,609.7C604.8,610.1 607.6,616.1 609.7,618.6C611.8,621.0 613.8,623.2 615.6,624.5C617.4,625.7 618.7,627.0 620.5,626.1C622.3,625.1 624.8,620.6 626.4,618.6C628.0,616.5 628.3,614.0 630.0,613.8C631.7,613.7 634.6,617.3 636.9,617.8C639.2,618.2 641.6,616.0 643.8,616.8C645.9,617.6 647.9,620.7 649.7,622.7C651.5,624.6 653.0,628.6 654.6,628.6C656.2,628.6 658.1,624.0 659.5,622.7C661.0,621.4 662.0,620.1 663.5,620.7C664.9,621.4 666.9,625.1 668.4,626.6C669.9,628.1 670.8,629.9 672.3,629.6C673.8,629.2 675.4,627.8 677.2,624.6C679.0,621.5 681.2,614.5 683.1,610.9C685.1,607.3 687.4,604.3 689.1,603.0C690.7,601.7 691.5,601.5 693.0,603.0C694.5,604.5 696.1,609.2 697.9,611.9C699.7,614.5 702.0,618.6 703.8,618.7C705.6,618.9 707.1,615.6 708.7,612.8C710.4,610.0 712.0,604.6 713.7,602.0C715.3,599.4 716.9,597.6 718.6,597.1C720.2,596.6 722.0,598.1 723.5,599.1C725.0,600.0 726.0,602.2 727.4,603.0C728.9,603.8 730.7,603.0 732.4,604.0C734.0,605.0 735.6,606.4 737.3,608.9C738.9,611.4 740.6,616.1 742.2,618.7C743.8,621.4 745.5,624.6 747.1,624.6C748.8,624.6 750.4,621.0 752.0,618.7C753.7,616.4 755.3,611.5 757.0,610.9C758.6,610.2 760.1,612.7 761.9,614.8C763.7,616.9 765.8,620.9 767.8,623.7C769.8,626.5 771.7,628.6 773.7,631.5C775.7,634.5 777.8,640.6 779.6,641.4C781.4,642.2 783.1,637.9 784.5,636.5C786.0,635.0 787.0,632.2 788.5,632.5C789.9,632.8 791.9,637.1 793.4,638.4C794.9,639.7 795.7,640.9 797.3,640.4C799.0,639.9 801.6,635.1 803.2,635.5C804.9,635.8 805.9,639.4 807.2,642.4C808.5,645.3 809.6,649.7 811.1,653.2C812.6,656.6 814.2,660.6 816.0,663.0C817.8,665.5 820.1,666.5 821.9,668.0C823.7,669.4 825.0,671.8 826.9,671.5C828.7,671.2 830.8,668.5 832.8,666.0C834.7,663.4 836.7,658.9 838.7,656.1C840.6,653.4 842.6,650.9 844.6,649.3C846.5,647.6 848.5,646.8 850.5,646.3C852.4,645.8 854.6,645.3 856.4,646.3C858.2,647.3 859.7,648.9 861.3,652.2C862.9,655.5 864.6,661.9 866.2,666.0C867.9,670.1 869.3,675.7 871.1,676.8C872.9,678.0 875.4,672.7 877.0,672.9C878.7,673.0 879.7,675.7 881.0,677.8C882.3,679.9 883.6,683.7 884.9,685.7C886.2,687.6 887.2,689.6 888.9,689.6C890.5,689.6 892.9,685.9 894.8,685.7C896.6,685.4 898.3,688.9 900.0,688.0C901.7,687.2 903.5,682.6 905.2,680.7C907.0,678.8 908.9,676.5 910.5,676.5C912.0,676.5 913.1,680.9 914.7,680.7C916.2,680.5 918.1,678.3 919.9,675.5C921.6,672.7 923.6,666.6 925.1,664.0C926.7,661.3 927.9,659.6 929.3,659.8C930.7,660.0 931.9,663.1 933.5,665.0C935.1,666.9 937.0,670.8 938.7,671.3C940.5,671.8 942.2,670.2 944.0,668.2C945.7,666.1 947.6,660.6 949.2,658.7C950.8,656.8 951.8,655.9 953.4,656.6C955.0,657.3 956.7,660.3 958.6,662.9C960.5,665.5 962.6,670.1 964.9,672.3C967.2,674.6 969.8,675.1 972.2,676.5C974.7,677.9 977.6,678.6 979.6,680.7C981.5,682.8 982.3,685.6 983.7,689.1C985.1,692.6 986.4,697.8 987.9,701.6C989.5,705.5 991.2,708.6 993.2,712.1C995.1,715.6 997.3,718.7 999.4,722.6C1001.5,726.4 1003.5,731.5 1005.7,735.1C1008.0,738.8 1010.4,741.8 1013.0,744.6C1015.7,747.4 1019.0,751.4 1021.4,751.9C1023.9,752.4 1025.8,749.6 1027.7,747.7C1029.6,745.8 1031.4,741.8 1032.9,740.4C1034.5,739.0 1035.7,737.4 1037.1,739.3C1038.5,741.2 1039.9,747.0 1041.3,751.9C1042.7,756.8 1044.1,764.6 1045.5,768.6C1046.9,772.7 1048.3,775.1 1049.7,776.0C1051.1,776.8 1052.3,773.5 1053.9,773.9C1055.4,774.2 1057.4,776.7 1059.1,778.1C1060.9,779.5 1062.6,782.4 1064.3,782.2C1066.1,782.1 1067.8,778.6 1069.6,777.0C1071.3,775.4 1073.1,774.0 1074.8,772.8C1076.6,771.6 1078.3,771.1 1080.0,769.7C1081.8,768.3 1083.7,764.6 1085.3,764.5C1086.8,764.3 1088.1,767.1 1089.5,768.6C1090.9,770.2 1092.3,773.7 1093.6,773.9C1095.0,774.0 1096.6,770.6 1097.8,769.7C1099.1,768.8 1099.6,767.1 1101.0,768.6C1102.4,770.2 1104.6,776.0 1106.2,779.1C1107.8,782.2 1108.7,787.0 1110.4,787.5C1112.1,788.0 1114.9,782.4 1116.7,782.2C1118.4,782.1 1119.5,785.3 1120.9,786.4C1122.3,787.6 1123.7,789.7 1125.1,789.2C1126.4,788.6 1128.0,786.0 1129.2,783.3C1130.5,780.6 1131.0,776.3 1132.4,772.8C1133.8,769.3 1135.9,765.7 1137.6,762.4C1139.4,759.0 1141.3,755.4 1142.8,752.9C1144.4,750.5 1145.8,747.7 1147.0,747.7C1148.2,747.7 1148.8,750.4 1150.0,753.0C1151.2,755.7 1152.6,761.0 1154.2,763.5C1155.8,766.0 1157.7,768.1 1159.4,768.1C1161.2,768.1 1162.9,766.0 1164.7,763.5C1166.4,761.0 1168.1,756.2 1169.9,753.0C1171.6,749.9 1173.4,745.4 1175.1,744.7C1176.9,744.0 1178.8,747.3 1180.4,748.9C1181.9,750.4 1183.1,753.4 1184.5,754.1C1185.9,754.8 1187.2,752.2 1188.7,753.0C1190.3,753.9 1192.2,757.1 1194.0,759.3C1195.7,761.6 1197.5,765.8 1199.2,766.7C1200.9,767.5 1202.9,763.7 1204.4,764.6C1206.0,765.4 1207.2,768.8 1208.6,771.9C1210.0,775.0 1211.6,781.0 1212.8,783.4C1214.0,785.8 1214.7,787.4 1215.9,786.5C1217.2,785.7 1218.7,780.4 1220.1,778.2C1221.5,775.9 1222.9,772.8 1224.3,772.9C1225.7,773.1 1226.9,777.2 1228.5,779.2C1230.1,781.2 1232.0,784.4 1233.7,785.1C1235.5,785.8 1237.2,783.9 1239.0,783.4C1240.7,782.9 1242.5,783.0 1244.2,781.9C1246.0,780.9 1247.9,778.5 1249.4,777.1C1251.0,775.8 1252.2,774.3 1253.6,774.0C1255.0,773.6 1256.2,776.3 1257.8,775.0C1259.4,773.8 1261.5,768.9 1263.0,766.7C1264.6,764.4 1265.8,761.9 1267.2,761.4C1268.6,760.9 1270.2,762.5 1271.4,763.5C1272.6,764.5 1273.3,767.6 1274.6,767.3C1275.8,766.9 1277.4,763.4 1278.8,761.4C1280.1,759.4 1281.5,755.1 1282.9,755.1C1284.3,755.1 1285.7,759.7 1287.1,761.4C1288.5,763.1 1289.9,766.6 1291.3,765.2C1292.7,763.8 1294.3,758.6 1295.5,753.0C1296.7,747.5 1297.4,737.7 1298.6,732.1C1299.9,726.5 1301.3,722.3 1302.8,719.6C1304.4,716.8 1306.3,716.0 1308.1,715.8C1309.8,715.6 1311.4,716.9 1313.3,718.5C1315.2,720.1 1317.8,724.9 1319.6,725.4C1321.3,725.9 1322.5,722.4 1323.8,721.6C1325.0,720.8 1325.9,719.2 1326.9,720.6C1327.9,722.0 1328.8,724.6 1330.0,730.0C1331.3,735.4 1332.8,748.0 1334.2,753.0C1335.6,758.1 1337.0,761.1 1338.4,760.4C1339.8,759.7 1341.2,752.6 1342.6,748.9C1344.0,745.1 1345.2,739.1 1346.8,738.0C1348.4,736.9 1350.5,742.1 1352.0,742.2C1353.6,742.2 1354.8,740.8 1356.2,738.4C1357.6,736.0 1358.8,730.3 1360.4,727.9C1362.0,725.6 1363.7,725.0 1365.6,724.2C1367.6,723.3 1370.0,723.2 1371.9,722.7C1373.8,722.2 1375.1,721.6 1377.1,721.2C1379.2,720.9 1383.3,720.7 1384.5,720.6" fill="none" stroke="#0a0ad8" stroke-width="3.1" stroke-linejoin="round" stroke-linecap="round"/>
<path d="M61.8,645.1 L64.8,639.2 L67.8,631.7 L70.8,619.5 L73.8,608.6 L76.8,605.0 L79.8,602.0 L82.8,598.8 L85.8,595.6 L88.8,595.5 L91.8,597.7 L94.8,596.5 L97.8,587.1 L100.8,577.4 L103.8,568.1 L106.8,560.1 L109.8,554.7 L112.8,551.0 L115.8,548.1 L118.8,550.6 L121.8,557.1 L124.8,568.1 L127.8,570.9 L130.8,570.6 L133.8,564.0 L136.8,560.0 L139.8,556.1 L142.8,557.1 L145.8,559.5 L148.8,560.8 L151.8,562.5 L154.8,560.0 L157.8,558.1 L160.8,562.8 L163.8,573.1 L166.8,587.2 L169.8,595.1 L172.8,596.9 L175.8,599.4 L178.8,601.1 L181.8,599.8 L184.8,591.9 L187.8,581.3 L190.8,568.8 L193.8,570.9 L196.8,577.9 L199.8,583.1 L202.8,575.4 L205.8,557.6 L208.8,543.3 L211.8,537.5 L214.8,536.2 L217.8,536.6 L220.8,538.2 L223.8,540.8 L226.8,548.1 L229.8,554.6 L232.8,560.3 L235.8,565.0 L238.8,569.9 L241.8,574.0 L244.8,576.4 L247.8,570.6 L250.8,563.3 L253.8,562.3 L256.8,560.6 L259.8,563.1 L262.8,565.1 L265.8,561.4 L268.8,560.9 L271.8,561.0 L274.8,560.1 L277.8,557.3 L280.8,553.5 L283.8,541.3 L286.8,530.2 L289.8,526.0 L292.8,522.0 L295.8,522.6 L298.8,525.8 L301.8,529.0 L304.8,532.8 L307.8,532.2 L310.8,531.2 L313.8,528.7 L316.8,532.2 L319.8,542.0 L322.8,552.4 L325.8,567.1 L328.8,580.6 L331.8,586.0 L334.8,587.2 L337.8,589.3 L340.8,594.2 L343.8,604.2 L346.8,604.9 L349.8,595.4 L352.8,576.8 L355.8,571.6 L358.8,574.9 L361.8,581.3 L364.8,582.7 L367.8,576.0 L370.8,565.0 L373.8,557.0 L376.8,551.6 L379.8,548.8 L382.8,551.8 L385.8,560.4 L388.8,572.4 L391.8,581.7 L394.8,577.9 L397.8,575.6 L400.8,575.8 L403.8,585.3 L406.8,593.5 L409.8,597.1 L412.8,599.7 L415.8,605.9 L418.8,614.2 L421.8,619.4 L424.8,612.4 L427.8,596.5 L430.8,579.0 L433.8,575.9 L436.8,585.2 L439.8,600.1 L442.8,614.5 L445.8,613.0 L448.8,611.4 L451.8,613.8 L454.8,617.6 L457.8,618.6 L460.8,619.0 L463.8,612.6 L466.8,604.1 L469.8,599.4 L472.8,598.5 L475.8,604.0 L478.8,600.8 L481.8,597.7 L484.8,592.6 L487.8,599.3 L490.8,609.7 L493.8,617.7 L496.8,619.7 L499.8,617.6 L502.8,609.9 L505.8,603.6 L508.8,595.8 L511.8,584.6 L514.8,576.0 L517.8,568.1 L520.8,571.9 L523.8,580.7 L526.8,591.3 L529.8,595.1 L532.8,596.1 L535.8,599.9 L538.8,597.1 L541.8,593.7 L544.8,589.6 L547.8,585.1 L550.8,591.0 L553.8,595.6 L556.8,601.6 L559.8,609.1 L562.8,613.1 L565.8,616.8 L568.8,618.1 L571.8,612.5 L574.8,610.2 L577.8,605.2 L580.8,605.5 L583.8,607.5 L586.8,616.6 L589.8,625.2 L592.8,640.9 L595.8,652.4 L598.8,655.8 L601.8,645.2 L604.8,635.9 L607.8,621.8 L610.8,617.7 L613.8,610.9 L616.8,610.2 L619.8,610.2 L622.8,610.9 L625.8,605.6 L628.8,591.5 L631.8,580.7 L634.8,569.8 L637.8,568.7 L640.8,576.9 L643.8,579.9 L646.8,581.9 L649.8,586.0 L652.8,595.4 L655.8,602.1 L658.8,606.8 L661.8,604.5 L664.8,609.6 L667.8,616.0 L670.8,617.8 L673.8,619.8 L676.8,613.3 L679.8,614.3 L682.8,618.8 L685.8,620.8 L688.8,608.3 L691.8,588.0 L694.8,576.6 L697.8,576.1 L700.8,588.0 L703.8,599.8 L706.8,599.1 L709.8,593.8 L712.8,593.1 L715.8,594.7 L718.8,600.0 L721.8,586.2 L724.8,578.2 L727.8,576.5 L730.8,585.7 L733.8,593.9 L736.8,596.2 L739.8,588.6 L742.8,579.5 L745.8,575.3 L748.8,587.7 L751.8,601.0 L754.8,609.0 L757.8,613.7 L760.8,619.5 L763.8,630.5 L766.8,644.4 L769.8,653.0 L772.8,655.5 L775.8,652.0 L778.8,645.6 L781.8,643.9 L784.8,649.8 L787.8,651.5 L790.8,651.4 L793.8,644.9 L796.8,632.3 L799.8,620.5 L802.8,615.3 L805.8,622.7 L808.8,629.5 L811.8,638.6 L814.8,645.0 L817.8,645.1 L820.8,640.9 L823.8,633.7 L826.8,632.9 L829.8,637.1 L832.8,643.3 L835.8,636.5 L838.8,625.0 L841.8,609.7 L844.8,605.3 L847.8,612.2 L850.8,626.3 L853.8,630.8 L856.8,633.4 L859.8,631.1 L862.8,632.1 L865.8,638.0 L868.8,650.3 L871.8,661.1 L874.8,666.7 L877.8,668.0 L880.8,661.6 L883.8,651.2 L886.8,638.7 L889.8,629.7 L892.8,630.0 L895.8,633.0 L898.8,656.7 L901.8,665.5 L904.8,666.6 L907.8,652.3 L910.8,637.3 L913.8,629.4 L916.8,631.9 L919.8,634.7 L922.8,634.7 L925.8,637.2 L928.8,637.1 L931.8,647.9 L934.8,653.7 L937.8,657.1 L940.8,661.3 L943.8,658.8 L946.8,673.0 L949.8,681.7 L952.8,687.3 L955.8,692.3 L958.8,708.0 L961.8,718.9 L964.8,733.5 L967.8,732.3 L970.8,725.3 L973.8,716.3 L976.8,716.5 L979.8,721.1 L982.8,727.8 L985.8,732.4 L988.8,729.7 L991.8,730.2 L994.8,733.3 L997.8,740.4 L1000.8,744.2 L1003.8,746.9 L1006.8,744.9 L1009.8,752.6 L1012.8,762.4 L1015.8,779.1 L1018.8,790.6 L1021.8,796.9 L1024.8,801.9 L1027.8,799.6 L1030.8,797.4 L1033.8,799.9 L1036.8,810.6 L1039.8,821.4 L1042.8,833.9 L1045.8,843.6 L1048.8,848.2 L1051.8,842.6 L1054.8,836.6 L1057.8,826.6 L1060.8,818.1 L1063.8,817.0 L1066.8,820.3 L1069.8,821.9 L1072.8,820.2 L1075.8,814.6 L1078.8,815.3 L1081.8,821.3 L1084.8,839.2 L1087.8,845.9 L1090.8,854.5 L1093.8,856.2 L1096.8,855.4 L1099.8,859.0 L1102.8,862.5 L1105.8,863.9 L1108.8,859.0 L1111.8,854.2 L1114.8,840.7 L1117.8,833.7 L1120.8,828.7 L1123.8,827.0 L1126.8,825.7 L1129.8,823.8 L1132.8,826.2 L1135.8,830.9 L1138.8,838.5 L1141.8,834.7 L1144.8,821.0 L1147.8,810.6 L1150.8,797.2 L1153.8,793.8 L1156.8,791.5 L1159.8,787.0 L1162.8,785.8 L1165.8,786.9 L1168.8,794.7 L1171.8,800.7 L1174.8,808.4 L1177.8,809.4 L1180.8,821.4 L1183.8,834.2 L1186.8,852.2 L1189.8,864.3 L1192.8,862.3 L1195.8,858.0 L1198.8,858.3 L1201.8,863.2 L1204.8,868.5 L1207.8,874.5 L1210.8,878.0 L1213.8,869.7 L1216.8,859.2 L1219.8,840.5 L1222.8,830.7 L1225.8,832.6 L1228.8,837.7 L1231.8,846.1 L1234.8,846.0 L1237.8,842.6 L1240.8,849.1 L1243.8,862.3 L1246.8,876.7 L1249.8,884.5 L1252.8,882.9 L1255.8,882.9 L1258.8,887.6 L1261.8,899.7 L1264.8,904.9 L1267.8,902.0 L1270.8,899.0 L1273.8,894.5 L1276.8,893.6 L1279.8,883.4 L1282.8,879.2 L1285.8,865.7 L1288.8,852.4 L1291.8,841.7 L1294.8,825.2 L1297.8,804.6 L1300.8,795.1 L1303.8,787.8 L1306.8,789.8 L1309.8,785.5 L1312.8,790.1 L1315.8,795.0 L1318.8,798.2 L1321.8,810.0 L1324.8,817.0 L1327.8,823.7 L1330.8,832.2 L1333.8,837.6 L1336.8,835.7 L1339.8,829.7 L1342.8,830.8 L1345.8,827.2 L1348.8,829.2 L1351.8,819.1 L1354.8,794.9 L1357.8,772.5 L1360.8,766.8 L1363.8,762.0 L1366.8,764.1 L1369.8,753.8 L1372.8,744.3 L1375.8,737.3 L1378.8,732.9 L1381.8,730.0 L1384.5,731.7 L1384.5,869.9 L1381.8,872.1 L1378.8,870.8 L1375.8,875.2 L1372.8,884.0 L1369.8,893.9 L1366.8,897.3 L1363.8,896.4 L1360.8,899.8 L1357.8,909.7 L1354.8,928.1 L1351.8,957.7 L1348.8,963.2 L1345.8,963.1 L1342.8,964.6 L1339.8,964.8 L1336.8,972.1 L1333.8,974.8 L1330.8,966.3 L1327.8,958.0 L1324.8,951.8 L1321.8,943.0 L1318.8,932.9 L1315.8,923.3 L1312.8,921.5 L1309.8,919.0 L1306.8,916.0 L1303.8,919.0 L1300.8,921.9 L1297.8,933.6 L1294.8,950.7 L1291.8,972.3 L1288.8,982.6 L1285.8,996.7 L1282.8,1005.3 L1279.8,1015.6 L1276.8,1022.4 L1273.8,1027.0 L1270.8,1029.0 L1267.8,1033.8 L1264.8,1037.1 L1261.8,1027.2 L1258.8,1020.6 L1255.8,1015.9 L1252.8,1016.6 L1249.8,1015.5 L1246.8,1005.9 L1243.8,989.4 L1240.8,978.3 L1237.8,971.5 L1234.8,975.0 L1231.8,972.9 L1228.8,966.1 L1225.8,960.4 L1222.8,958.8 L1219.8,967.0 L1216.8,985.1 L1213.8,998.6 L1210.8,1008.4 L1207.8,1005.4 L1204.8,1000.3 L1201.8,991.7 L1198.8,984.7 L1195.8,989.6 L1192.8,988.3 L1189.8,990.9 L1186.8,978.3 L1183.8,964.9 L1180.8,948.3 L1177.8,936.8 L1174.8,932.4 L1171.8,927.0 L1168.8,919.5 L1165.8,913.1 L1162.8,912.9 L1159.8,911.2 L1156.8,915.6 L1153.8,921.7 L1150.8,924.7 L1147.8,932.2 L1144.8,950.3 L1141.8,960.7 L1138.8,965.2 L1135.8,958.7 L1132.8,953.8 L1129.8,949.4 L1126.8,951.2 L1123.8,950.8 L1120.8,951.4 L1117.8,959.3 L1114.8,965.0 L1111.8,978.7 L1108.8,982.8 L1105.8,991.2 L1102.8,986.9 L1099.8,985.6 L1096.8,980.5 L1093.8,974.4 L1090.8,973.3 L1087.8,966.4 L1084.8,955.2 L1081.8,944.5 L1078.8,932.3 L1075.8,930.1 L1072.8,936.8 L1069.8,938.3 L1066.8,935.9 L1063.8,933.6 L1060.8,935.0 L1057.8,939.1 L1054.8,952.7 L1051.8,955.3 L1048.8,962.6 L1045.8,956.5 L1042.8,946.1 L1039.8,936.3 L1036.8,922.0 L1033.8,913.9 L1030.8,910.2 L1027.8,914.3 L1024.8,918.8 L1021.8,916.1 L1018.8,910.0 L1015.8,893.1 L1012.8,882.7 L1009.8,867.4 L1006.8,861.9 L1003.8,863.9 L1000.8,864.2 L997.8,860.7 L994.8,855.0 L991.8,851.5 L988.8,850.7 L985.8,855.2 L982.8,855.1 L979.8,848.0 L976.8,841.0 L973.8,842.5 L970.8,853.3 L967.8,859.7 L964.8,861.6 L961.8,850.9 L958.8,838.9 L955.8,823.9 L952.8,818.5 L949.8,812.6 L946.8,805.2 L943.8,795.3 L940.8,794.8 L937.8,793.7 L934.8,789.1 L931.8,784.3 L928.8,775.6 L925.8,772.5 L922.8,775.6 L919.8,775.2 L916.8,774.9 L913.8,768.4 L910.8,777.3 L907.8,795.4 L904.8,805.8 L901.8,809.7 L898.8,797.7 L895.8,779.6 L892.8,771.4 L889.8,776.0 L886.8,784.0 L883.8,795.1 L880.8,801.0 L877.8,804.1 L874.8,802.2 L871.8,794.3 L868.8,783.6 L865.8,767.5 L862.8,759.4 L859.8,754.2 L856.8,754.0 L853.8,755.1 L850.8,747.1 L847.8,739.0 L844.8,729.5 L841.8,734.7 L838.8,749.2 L835.8,761.3 L832.8,762.0 L829.8,757.0 L826.8,755.4 L823.8,757.5 L820.8,760.9 L817.8,765.8 L814.8,763.7 L811.8,758.7 L808.8,749.5 L805.8,741.4 L802.8,739.0 L799.8,742.9 L796.8,751.6 L793.8,764.2 L790.8,769.5 L787.8,772.7 L784.8,770.8 L781.8,765.7 L778.8,767.6 L775.8,770.7 L772.8,773.8 L769.8,771.0 L766.8,763.3 L763.8,750.1 L760.8,735.4 L757.8,728.2 L754.8,727.2 L751.8,716.3 L748.8,705.7 L745.8,693.5 L742.8,697.4 L739.8,703.8 L736.8,714.7 L733.8,712.9 L730.8,704.6 L727.8,695.3 L724.8,698.1 L721.8,703.6 L718.8,717.6 L715.8,713.3 L712.8,709.7 L709.8,709.7 L706.8,714.8 L703.8,717.8 L700.8,703.2 L697.8,690.9 L694.8,689.6 L691.8,705.9 L688.8,727.0 L685.8,737.4 L682.8,734.0 L679.8,731.4 L676.8,728.7 L673.8,733.7 L670.8,733.7 L667.8,725.8 L664.8,722.9 L661.8,721.7 L658.8,719.9 L655.8,713.8 L652.8,707.1 L649.8,700.5 L646.8,694.7 L643.8,692.3 L640.8,685.6 L637.8,679.7 L634.8,680.2 L631.8,685.9 L628.8,695.7 L625.8,709.0 L622.8,714.6 L619.8,709.2 L616.8,709.5 L613.8,711.0 L610.8,715.4 L607.8,720.7 L604.8,727.8 L601.8,739.5 L598.8,746.0 L595.8,742.8 L592.8,733.2 L589.8,717.2 L586.8,706.0 L583.8,695.3 L580.8,692.8 L577.8,692.4 L574.8,694.6 L571.8,698.0 L568.8,704.9 L565.8,700.6 L562.8,695.4 L559.8,690.0 L556.8,684.0 L553.8,676.4 L550.8,669.8 L547.8,662.8 L544.8,665.7 L541.8,668.9 L538.8,674.3 L535.8,675.5 L532.8,671.9 L529.8,670.0 L526.8,663.9 L523.8,654.6 L520.8,645.0 L517.8,641.2 L514.8,645.9 L511.8,654.9 L508.8,666.7 L505.8,676.0 L502.8,682.5 L499.8,688.2 L496.8,690.9 L493.8,691.0 L490.8,678.5 L487.8,670.0 L484.8,663.7 L481.8,665.2 L478.8,670.1 L475.8,673.1 L472.8,668.8 L469.8,670.0 L466.8,673.6 L463.8,681.9 L460.8,686.2 L457.8,688.8 L454.8,684.6 L451.8,682.6 L448.8,679.4 L445.8,681.0 L442.8,683.1 L439.8,669.4 L436.8,654.6 L433.8,642.1 L430.8,646.2 L427.8,664.6 L424.8,679.8 L421.8,688.5 L418.8,681.3 L415.8,670.7 L412.8,665.8 L409.8,666.1 L406.8,661.4 L403.8,650.8 L400.8,642.7 L397.8,642.8 L394.8,644.3 L391.8,645.7 L388.8,638.1 L385.8,627.3 L382.8,618.9 L379.8,614.9 L376.8,618.2 L373.8,620.9 L370.8,632.0 L367.8,639.6 L364.8,647.1 L361.8,646.4 L358.8,638.8 L355.8,635.3 L352.8,640.0 L349.8,659.1 L346.8,666.9 L343.8,666.3 L340.8,656.6 L337.8,647.9 L334.8,647.0 L331.8,642.5 L328.8,634.3 L325.8,621.2 L322.8,605.0 L319.8,592.9 L316.8,582.8 L313.8,574.9 L310.8,576.8 L307.8,576.3 L304.8,575.1 L301.8,570.4 L298.8,565.3 L295.8,560.0 L292.8,556.8 L289.8,558.7 L286.8,559.8 L283.8,570.4 L280.8,579.7 L277.8,583.1 L274.8,585.2 L271.8,585.6 L268.8,585.6 L265.8,586.1 L262.8,588.8 L259.8,586.8 L256.8,583.7 L253.8,585.4 L250.8,586.4 L247.8,592.5 L244.8,598.7 L241.8,596.2 L238.8,592.3 L235.8,587.1 L232.8,581.4 L229.8,574.9 L226.8,568.8 L223.8,561.3 L220.8,558.0 L217.8,556.4 L214.8,555.5 L211.8,556.6 L208.8,562.2 L205.8,576.4 L202.8,594.1 L199.8,601.6 L196.8,595.9 L193.8,589.0 L190.8,587.1 L187.8,600.0 L184.8,610.4 L181.8,618.4 L178.8,620.0 L175.8,617.7 L172.8,616.0 L169.8,613.6 L166.8,605.7 L163.8,592.0 L160.8,582.0 L157.8,577.1 L154.8,579.4 L151.8,581.5 L148.8,580.2 L145.8,578.3 L142.8,576.6 L139.8,576.2 L136.8,579.5 L133.8,584.0 L130.8,590.6 L127.8,591.1 L124.8,587.5 L121.8,577.8 L118.8,570.4 L115.8,568.4 L112.8,570.5 L109.8,574.5 L106.8,579.7 L103.8,588.1 L100.8,596.8 L97.8,606.8 L94.8,616.8 L91.8,617.4 L88.8,615.5 L85.8,615.7 L82.8,618.9 L79.8,621.8 L76.8,625.2 L73.8,627.9 L70.8,639.9 L67.8,651.6 L64.8,659.2 L61.8,665.1Z" fill="#ff0000" fill-opacity="0.2"/>
<path d="M61.8,654.8C62.6,653.4 64.8,652.1 66.7,646.0C68.7,639.9 71.5,624.0 73.6,618.4C75.8,612.8 77.4,614.8 79.5,612.5C81.7,610.2 84.0,605.3 86.4,604.6C88.9,604.0 92.0,611.2 94.3,608.6C96.6,606.0 98.2,595.1 100.2,588.9C102.2,582.7 104.3,575.6 106.1,571.2C107.9,566.8 109.2,564.6 111.0,562.3C112.8,560.0 115.3,557.1 116.9,557.4C118.6,557.7 119.4,560.4 120.9,564.3C122.3,568.2 124.1,578.2 125.8,581.0C127.4,583.8 129.2,582.5 130.7,581.0C132.2,579.5 133.0,574.8 134.6,572.2C136.3,569.5 138.6,565.8 140.6,565.3C142.5,564.8 144.7,568.1 146.5,569.2C148.3,570.4 149.4,572.5 151.4,572.2C153.3,571.8 156.5,566.8 158.3,567.2C160.1,567.7 160.6,569.2 162.2,575.1C163.8,581.0 166.1,597.3 168.1,602.7C170.1,608.1 171.9,606.1 174.0,607.6C176.1,609.1 178.9,613.0 180.9,611.5C182.9,610.1 184.0,605.0 185.8,598.7C187.6,592.5 190.1,576.4 191.7,574.1C193.4,571.8 194.4,581.8 195.7,585.0C197.0,588.1 198.3,593.2 199.6,592.8C200.9,592.5 202.2,589.2 203.5,583.0C204.9,576.8 206.0,561.7 207.5,555.4C209.0,549.2 210.6,547.1 212.4,545.6C214.2,544.1 216.5,545.9 218.3,546.6C220.1,547.2 221.8,547.4 223.2,549.5C224.7,551.7 225.4,555.4 227.2,559.4C229.0,563.3 231.9,569.2 234.1,573.1C236.2,577.1 238.2,580.5 240.0,583.0C241.8,585.5 243.1,589.2 244.9,587.9C246.7,586.6 248.8,577.7 250.8,575.1C252.8,572.5 254.7,571.8 256.7,572.2C258.7,572.5 261.0,576.9 262.6,577.1C264.2,577.3 264.6,573.8 266.5,573.1C268.5,572.5 271.9,574.3 274.4,573.1C276.9,572.0 279.3,570.9 281.3,566.3C283.3,561.7 284.3,550.2 286.2,545.6C288.2,541.0 291.1,539.0 293.1,538.7C295.1,538.4 296.2,541.2 298.0,543.6C299.8,546.1 302.0,551.7 303.9,553.5C305.9,555.3 308.2,554.8 309.8,554.4C311.5,554.1 312.5,550.7 313.8,551.5C315.1,552.3 316.2,555.1 317.7,559.4C319.2,563.6 321.2,570.5 322.6,577.1C324.1,583.6 325.3,592.5 326.6,598.7C327.9,605.0 328.7,611.2 330.5,614.5C332.3,617.8 335.8,617.1 337.4,618.4C339.0,619.8 338.7,619.0 340.0,622.5C341.3,626.0 343.4,637.6 344.9,639.3C346.4,640.9 347.5,637.4 348.9,632.4C350.2,627.3 351.5,614.0 352.8,608.7C354.1,603.5 355.4,600.4 356.7,600.9C358.0,601.4 359.4,609.1 360.7,611.7C362.0,614.3 363.1,618.1 364.6,616.6C366.1,615.1 367.9,607.8 369.5,602.8C371.2,597.9 372.8,590.5 374.4,587.1C376.1,583.6 377.7,582.2 379.4,582.2C381.0,582.2 382.8,583.6 384.3,587.1C385.8,590.5 386.9,598.2 388.2,602.8C389.5,607.4 390.9,613.3 392.2,614.6C393.5,616.0 394.8,611.9 396.1,610.7C397.4,609.6 398.7,606.4 400.0,607.8C401.4,609.1 402.7,614.6 404.0,618.6C405.3,622.5 406.3,629.1 407.9,631.4C409.6,633.7 412.2,630.2 413.8,632.4C415.5,634.5 416.3,640.2 417.8,644.2C419.2,648.1 421.0,658.0 422.7,656.0C424.3,654.0 426.1,640.2 427.6,632.4C429.1,624.5 430.4,612.7 431.5,608.7C432.7,604.8 433.3,605.5 434.5,608.7C435.6,612.0 437.1,621.9 438.4,628.4C439.7,635.0 441.0,644.8 442.4,648.1C443.7,651.4 445.0,648.6 446.3,648.1C447.6,647.6 448.9,644.8 450.2,645.2C451.5,645.5 452.7,648.3 454.2,650.1C455.6,651.9 457.5,656.6 459.1,656.0C460.7,655.3 462.5,649.8 464.0,646.1C465.5,642.5 466.6,636.5 468.0,634.3C469.3,632.2 470.6,632.7 471.9,633.3C473.2,634.0 474.4,638.4 475.8,638.3C477.3,638.1 479.1,634.0 480.7,632.4C482.4,630.7 484.2,627.1 485.7,628.4C487.1,629.7 488.3,636.0 489.6,640.2C490.9,644.5 492.4,651.2 493.5,654.0C494.7,656.8 495.2,657.6 496.5,657.0C497.8,656.3 499.6,653.5 501.4,650.1C503.2,646.6 505.4,642.2 507.3,636.3C509.3,630.4 511.6,619.9 513.2,614.6C514.9,609.4 515.9,605.8 517.2,604.8C518.5,603.8 519.6,605.1 521.1,608.7C522.6,612.3 524.4,622.4 526.0,626.5C527.7,630.6 529.1,631.4 530.9,633.3C532.7,635.3 534.9,638.8 536.9,638.3C538.8,637.8 541.0,632.7 542.8,630.4C544.6,628.1 546.0,624.2 547.7,624.5C549.3,624.8 550.8,628.8 552.6,632.4C554.4,636.0 556.5,641.7 558.5,646.1C560.5,650.6 562.8,656.3 564.4,658.9C566.0,661.6 566.7,663.0 568.3,661.9C570.0,660.7 572.4,654.2 574.3,652.0C576.1,649.9 577.4,648.8 579.2,649.1C581.0,649.4 583.3,650.2 585.1,654.0C586.9,657.8 588.5,665.2 590.0,671.7C591.5,678.3 592.6,688.0 593.9,693.4C595.2,698.8 596.4,704.9 597.9,704.2C599.4,703.6 601.2,694.9 602.8,689.4C604.4,684.0 605.9,676.3 607.7,671.7C609.5,667.1 611.8,664.0 613.6,661.9C615.4,659.8 616.7,658.4 618.5,658.9C620.3,659.4 622.5,668.3 624.4,664.8C626.4,661.4 628.4,644.8 630.0,638.4C631.6,632.1 632.6,629.1 633.9,626.6C635.2,624.2 636.6,622.3 637.9,623.7C639.2,625.0 640.0,631.7 641.8,634.5C643.6,637.3 646.9,637.8 648.7,640.4C650.5,643.0 651.2,646.5 652.6,650.2C654.1,654.0 655.8,660.9 657.6,663.0C659.4,665.2 661.7,661.6 663.5,663.0C665.3,664.5 666.9,669.6 668.4,671.9C669.9,674.2 670.7,677.0 672.3,676.8C674.0,676.6 676.6,671.2 678.2,670.9C679.9,670.6 680.9,673.4 682.2,674.8C683.5,676.3 684.8,681.9 686.1,679.8C687.4,677.6 688.9,668.9 690.0,662.0C691.2,655.2 692.0,643.8 693.0,638.4C694.0,633.0 695.0,630.2 695.9,629.6C696.9,628.9 697.9,630.4 698.9,634.5C699.9,638.6 700.9,649.7 701.9,654.2C702.8,658.6 703.7,661.4 704.8,661.1C706.0,660.7 707.6,654.5 708.7,652.2C709.9,649.9 710.5,647.0 711.7,647.3C712.8,647.6 714.5,652.4 715.6,654.2C716.8,656.0 717.4,659.8 718.6,658.1C719.7,656.5 721.2,648.4 722.5,644.3C723.8,640.2 725.3,634.5 726.5,633.5C727.6,632.5 728.3,635.0 729.4,638.4C730.6,641.9 732.2,650.9 733.3,654.2C734.5,657.5 735.2,659.8 736.3,658.1C737.4,656.5 739.1,648.1 740.2,644.3C741.4,640.6 742.2,636.8 743.2,635.5C744.2,634.2 745.0,633.7 746.1,636.5C747.3,639.2 748.8,647.3 750.1,652.2C751.4,657.1 752.5,662.7 754.0,666.0C755.5,669.3 757.5,668.6 758.9,671.9C760.4,675.2 761.6,680.1 762.9,685.7C764.2,691.2 765.3,700.4 766.8,705.4C768.3,710.3 770.1,714.5 771.7,715.2C773.4,715.9 775.2,711.1 776.7,709.3C778.1,707.5 779.1,704.2 780.6,704.4C782.1,704.5 784.0,708.6 785.5,710.3C787.0,711.9 788.0,715.7 789.4,714.2C790.9,712.7 792.9,706.5 794.4,701.4C795.8,696.3 797.0,688.0 798.3,683.7C799.6,679.4 800.9,676.2 802.2,675.8C803.6,675.5 804.7,678.1 806.2,681.7C807.7,685.3 809.5,693.1 811.1,697.5C812.7,701.9 814.4,707.8 816.0,708.3C817.7,708.8 819.3,703.1 820.9,700.4C822.6,697.8 824.4,693.1 825.9,692.6C827.3,692.1 828.5,695.7 829.8,697.5C831.1,699.3 832.4,704.0 833.7,703.4C835.1,702.7 836.4,698.5 837.7,693.5C839.0,688.6 840.5,678.1 841.6,673.9C842.8,669.6 843.6,668.0 844.6,668.0C845.6,668.0 846.4,670.2 847.5,673.9C848.7,677.5 850.1,686.0 851.5,689.6C852.8,693.2 853.8,695.2 855.4,695.5C857.0,695.8 859.7,690.9 861.3,691.6C862.9,692.2 863.9,694.9 865.2,699.4C866.5,704.0 867.7,713.4 869.2,719.1C870.6,724.9 872.6,730.9 874.1,733.9C875.6,736.9 876.6,738.0 878.0,736.9C879.5,735.7 881.3,731.9 883.0,727.0C884.6,722.1 886.4,711.9 887.9,707.3C889.4,702.7 890.5,699.8 891.8,699.4C893.1,699.1 894.4,699.1 895.7,705.4C897.1,711.7 898.6,731.4 900.0,737.2C901.4,743.1 902.8,743.2 904.2,740.4C905.6,737.6 907.2,726.6 908.4,720.5C909.6,714.4 910.5,707.2 911.5,703.7C912.6,700.3 913.3,699.2 914.7,699.6C916.1,699.9 918.0,705.0 919.9,705.8C921.8,706.7 924.4,704.1 926.2,704.8C927.9,705.5 929.0,707.2 930.4,710.0C931.8,712.8 933.0,718.7 934.5,721.5C936.1,724.3 938.2,725.9 939.8,726.8C941.3,727.6 942.6,724.0 944.0,726.8C945.4,729.6 946.4,739.0 948.2,743.5C949.9,748.1 952.5,748.8 954.4,754.0C956.4,759.2 958.1,768.3 959.7,774.9C961.2,781.5 962.6,789.7 963.9,793.8C965.1,797.8 965.8,800.0 967.0,799.0C968.2,797.9 969.8,791.1 971.2,787.5C972.6,783.8 974.0,777.4 975.4,777.0C976.8,776.7 978.0,782.2 979.6,785.4C981.1,788.5 982.9,795.3 984.8,795.9C986.7,796.4 989.3,788.9 991.1,788.5C992.8,788.2 993.7,791.0 995.3,793.8C996.8,796.6 998.6,803.5 1000.5,805.3C1002.4,807.0 1005.0,803.0 1006.8,804.2C1008.5,805.5 1009.6,807.7 1011.0,812.6C1012.4,817.5 1013.7,826.9 1015.1,833.5C1016.5,840.2 1017.9,847.8 1019.3,852.4C1020.7,856.9 1021.9,860.4 1023.5,860.8C1025.1,861.1 1027.4,855.9 1028.8,854.5C1030.1,853.1 1030.7,851.0 1031.9,852.4C1033.1,853.8 1034.7,858.0 1036.1,862.8C1037.5,867.7 1038.7,875.4 1040.3,881.7C1041.8,888.0 1043.9,896.5 1045.5,900.5C1047.1,904.5 1048.1,906.8 1049.7,905.8C1051.3,904.7 1053.3,899.0 1054.9,894.2C1056.5,889.5 1057.7,881.0 1059.1,877.5C1060.5,874.0 1061.9,872.8 1063.3,873.3C1064.7,873.8 1066.3,879.1 1067.5,880.6C1068.7,882.2 1069.4,884.1 1070.6,882.7C1071.8,881.3 1073.6,874.4 1074.8,872.3C1076.0,870.2 1076.7,868.3 1077.9,870.2C1079.2,872.1 1080.7,878.0 1082.1,883.8C1083.5,889.5 1084.9,899.7 1086.3,904.7C1087.7,909.8 1088.9,912.2 1090.5,914.1C1092.1,916.1 1094.0,914.7 1095.7,916.2C1097.5,917.8 1099.4,921.6 1101.0,923.6C1102.5,925.5 1103.6,928.4 1105.2,927.7C1106.7,927.0 1108.7,923.9 1110.4,919.4C1112.1,914.8 1113.9,905.2 1115.6,900.5C1117.4,895.8 1119.1,893.4 1120.9,891.1C1122.6,888.8 1124.5,887.8 1126.1,886.9C1127.7,886.1 1128.7,884.7 1130.3,885.9C1131.9,887.1 1133.9,891.6 1135.5,894.2C1137.1,896.9 1138.3,902.3 1139.7,901.6C1141.1,900.9 1142.3,896.2 1143.9,890.1C1145.5,884.0 1147.2,871.0 1149.1,864.9C1151.0,858.9 1153.3,856.1 1155.2,853.5C1157.1,850.9 1159.1,850.2 1160.5,849.4C1161.9,848.5 1162.4,847.3 1163.6,848.3C1164.8,849.4 1166.4,852.7 1167.8,855.6C1169.2,858.6 1170.4,863.3 1172.0,866.1C1173.6,868.9 1175.6,869.2 1177.2,872.4C1178.8,875.5 1180.0,878.7 1181.4,884.9C1182.8,891.2 1184.2,903.1 1185.6,910.1C1187.0,917.0 1188.4,924.4 1189.8,926.8C1191.2,929.3 1192.6,925.6 1194.0,924.7C1195.4,923.8 1196.8,920.9 1198.2,921.6C1199.5,922.3 1200.9,925.9 1202.3,928.9C1203.7,931.9 1205.1,937.1 1206.5,939.4C1207.9,941.6 1209.3,943.6 1210.7,942.5C1212.1,941.5 1213.5,938.8 1214.9,933.1C1216.3,927.3 1217.9,914.4 1219.1,908.0C1220.3,901.5 1221.2,896.8 1222.2,894.4C1223.3,891.9 1224.1,891.6 1225.4,893.3C1226.6,895.1 1228.3,901.9 1229.6,904.8C1230.8,907.8 1231.3,910.8 1232.7,911.1C1234.1,911.5 1236.5,906.7 1237.9,906.9C1239.3,907.1 1239.8,907.8 1241.1,912.2C1242.3,916.5 1243.9,927.0 1245.3,933.1C1246.7,939.2 1248.0,946.0 1249.4,948.8C1250.8,951.6 1252.4,949.8 1253.6,949.8C1254.8,949.8 1255.5,947.0 1256.8,948.8C1258.0,950.5 1259.6,956.6 1261.0,960.3C1262.4,964.0 1263.6,969.9 1265.1,970.8C1266.7,971.6 1268.5,967.6 1270.4,965.5C1272.3,963.4 1274.7,961.5 1276.7,958.2C1278.6,954.9 1280.1,950.9 1281.9,945.7C1283.6,940.4 1285.4,933.8 1287.1,926.8C1288.9,919.8 1290.8,912.2 1292.4,903.8C1293.9,895.4 1295.3,883.9 1296.5,876.6C1297.8,869.2 1298.5,863.7 1299.7,859.8C1300.9,856.0 1302.3,854.8 1303.9,853.5C1305.4,852.3 1307.4,852.3 1309.1,852.5C1310.9,852.7 1312.8,852.5 1314.3,854.6C1315.9,856.7 1317.0,860.7 1318.5,865.1C1320.1,869.4 1322.0,875.7 1323.8,880.8C1325.5,885.8 1327.3,890.9 1329.0,895.4C1330.7,899.9 1332.5,906.9 1334.2,907.6C1336.0,908.2 1337.9,901.6 1339.5,899.6C1341.0,897.6 1342.1,895.9 1343.6,895.4C1345.2,894.9 1347.5,897.7 1348.9,896.5C1350.3,895.2 1351.0,894.2 1352.0,888.1C1353.1,882.0 1354.1,868.0 1355.2,859.8C1356.2,851.6 1357.3,843.6 1358.3,838.9C1359.4,834.2 1360.0,833.0 1361.4,831.6C1362.8,830.2 1365.1,832.1 1366.7,830.5C1368.2,828.9 1369.5,826.0 1370.9,822.1C1372.3,818.3 1373.7,811.0 1375.1,807.5C1376.4,804.0 1377.7,802.4 1379.2,801.2C1380.8,800.0 1383.6,800.3 1384.5,800.2" fill="none" stroke="#ee0505" stroke-width="3.1" stroke-linejoin="round" stroke-linecap="round"/>
<path d="M45.7,1117.9 L48.7,1119.8 L51.7,1121.5 L54.7,1122.0 L57.7,1122.7 L60.7,1121.3 L63.7,1120.1 L66.7,1123.1 L69.7,1125.8 L72.7,1127.1 L75.7,1122.5 L78.7,1113.1 L81.7,1106.1 L84.7,1105.6 L87.7,1108.7 L90.7,1111.2 L93.7,1112.7 L96.7,1111.5 L99.7,1112.4 L102.7,1115.0 L105.7,1114.4 L108.7,1111.6 L111.7,1109.8 L114.7,1109.2 L117.7,1109.5 L120.7,1109.6 L123.7,1102.1 L126.7,1097.0 L129.7,1096.8 L132.7,1102.4 L135.7,1112.1 L138.7,1117.0 L141.7,1118.2 L144.7,1116.6 L147.7,1116.2 L150.7,1116.5 L153.7,1114.1 L156.7,1109.4 L159.7,1106.6 L162.7,1107.1 L165.7,1109.9 L168.7,1110.6 L171.7,1110.0 L174.7,1107.0 L177.7,1107.7 L180.7,1110.1 L183.7,1114.4 L186.7,1118.3 L189.7,1121.9 L192.7,1125.2 L195.7,1128.2 L198.7,1128.2 L201.7,1125.2 L204.7,1121.9 L207.7,1118.4 L210.7,1121.4 L213.7,1125.2 L216.7,1124.4 L219.7,1122.8 L222.7,1120.7 L225.7,1119.8 L228.7,1122.6 L231.7,1125.6 L234.7,1127.9 L237.7,1128.6 L240.7,1126.9 L243.7,1125.0 L246.7,1123.3 L249.7,1124.7 L252.7,1127.4 L255.7,1129.3 L258.7,1126.2 L261.7,1123.5 L264.7,1121.6 L267.7,1124.4 L270.7,1131.0 L273.7,1138.0 L276.7,1143.5 L279.7,1144.2 L282.7,1144.1 L285.7,1142.6 L288.7,1142.1 L291.7,1143.9 L294.7,1145.7 L297.7,1147.2 L300.7,1149.0 L303.7,1148.7 L306.7,1145.5 L309.7,1142.4 L312.7,1139.0 L315.7,1137.1 L318.7,1138.4 L321.7,1139.7 L324.7,1140.5 L327.7,1141.6 L330.7,1140.6 L333.7,1140.0 L336.7,1140.9 L339.7,1142.2 L342.7,1143.9 L345.7,1145.0 L348.7,1144.6 L351.7,1142.9 L354.7,1144.5 L357.7,1146.7 L360.7,1151.5 L363.7,1155.1 L366.7,1156.8 L369.7,1154.5 L372.7,1152.0 L375.7,1150.1 L378.7,1154.1 L381.7,1160.2 L384.7,1167.8 L387.7,1172.8 L390.7,1174.2 L393.7,1174.3 L396.7,1173.4 L399.7,1176.4 L402.7,1179.6 L405.7,1181.7 L408.7,1184.0 L411.7,1184.2 L414.7,1184.2 L417.7,1183.5 L420.7,1184.2 L423.7,1185.7 L426.7,1187.0 L429.7,1188.2 L432.7,1189.7 L435.7,1190.3 L438.7,1190.9 L441.7,1191.3 L444.7,1191.8 L447.7,1191.9 L450.7,1191.6 L453.7,1189.2 L456.7,1187.1 L459.7,1186.7 L462.7,1189.2 L465.7,1192.4 L468.7,1195.9 L471.7,1194.1 L474.7,1191.3 L477.7,1189.5 L480.7,1188.2 L483.7,1187.3 L486.7,1188.0 L489.7,1190.5 L492.7,1194.1 L495.7,1199.1 L498.7,1201.7 L501.7,1203.0 L504.7,1203.0 L507.7,1203.9 L510.7,1206.4 L513.7,1203.5 L516.7,1200.3 L519.7,1193.3 L522.7,1190.6 L525.7,1193.6 L528.7,1195.9 L531.7,1199.5 L534.7,1196.0 L537.7,1192.7 L540.7,1193.4 L543.7,1197.9 L546.7,1201.7 L549.7,1205.0 L552.7,1203.3 L555.7,1202.5 L558.7,1201.6 L561.7,1202.5 L564.7,1202.1 L567.7,1199.8 L570.7,1197.1 L573.7,1196.9 L576.7,1198.1 L579.7,1199.3 L582.7,1200.2 L585.7,1200.3 L588.7,1200.5 L591.7,1208.3 L594.7,1217.5 L597.7,1224.8 L600.7,1227.4 L603.7,1226.5 L606.7,1224.9 L609.7,1224.1 L612.7,1222.8 L615.7,1220.9 L618.7,1221.6 L621.7,1222.8 L624.7,1224.1 L627.7,1225.8 L630.7,1221.5 L633.7,1216.3 L636.7,1212.6 L639.7,1215.8 L642.7,1217.9 L645.7,1221.6 L648.7,1220.5 L651.7,1218.6 L654.7,1220.9 L657.7,1224.3 L660.7,1229.7 L663.7,1233.5 L666.7,1229.7 L669.7,1225.9 L672.7,1224.0 L675.7,1219.2 L678.7,1217.9 L681.7,1215.2 L684.7,1214.9 L687.7,1219.2 L690.7,1224.2 L693.7,1227.1 L696.7,1222.0 L699.7,1214.4 L702.7,1210.8 L705.7,1209.4 L708.7,1214.0 L711.7,1216.3 L714.7,1218.7 L717.7,1218.9 L720.7,1221.2 L723.7,1223.7 L726.7,1222.1 L729.7,1224.9 L732.7,1225.7 L735.7,1227.6 L738.7,1227.7 L741.7,1227.7 L744.7,1227.0 L747.7,1226.4 L750.7,1227.2 L753.7,1227.2 L756.7,1228.9 L759.7,1228.9 L762.7,1232.7 L765.7,1235.8 L768.7,1236.7 L771.7,1233.5 L774.7,1231.2 L777.7,1230.3 L780.7,1235.1 L783.7,1237.5 L786.7,1235.2 L789.7,1232.1 L792.7,1232.2 L795.7,1235.7 L798.7,1238.1 L801.7,1241.1 L804.7,1242.0 L807.7,1240.0 L810.7,1237.5 L813.7,1238.2 L816.7,1236.3 L819.7,1234.5 L822.7,1231.7 L825.7,1228.5 L828.7,1228.7 L831.7,1229.8 L834.7,1227.5 L837.7,1227.0 L840.7,1222.5 L843.7,1225.4 L846.7,1225.1 L849.7,1228.7 L852.7,1229.4 L855.7,1231.7 L858.7,1236.8 L861.7,1236.3 L864.7,1232.4 L867.7,1230.8 L870.7,1234.6 L873.7,1235.7 L876.7,1237.5 L879.7,1234.6 L882.7,1232.1 L885.7,1229.2 L888.7,1228.9 L891.7,1228.8 L894.7,1225.6 L897.7,1225.6 L900.7,1224.9 L903.7,1229.9 L906.7,1236.9 L909.7,1242.0 L912.7,1244.2 L915.7,1238.3 L918.7,1238.6 L921.7,1236.8 L924.7,1241.3 L927.7,1245.1 L930.7,1242.5 L933.7,1235.4 L936.7,1229.8 L939.7,1229.0 L942.7,1233.3 L945.7,1235.3 L948.7,1240.4 L951.7,1242.6 L954.7,1244.5 L957.7,1244.9 L960.7,1245.8 L963.7,1247.2 L966.7,1242.3 L969.7,1240.3 L972.7,1241.4 L975.7,1246.1 L978.7,1251.6 L981.7,1250.9 L984.7,1250.4 L987.7,1256.8 L990.7,1259.7 L993.7,1264.6 L996.7,1264.9 L999.7,1265.7 L1002.7,1268.8 L1005.7,1275.2 L1008.7,1277.7 L1011.7,1277.8 L1014.7,1276.5 L1017.7,1270.2 L1020.7,1267.4 L1023.7,1259.9 L1026.7,1256.1 L1029.7,1253.9 L1032.7,1256.1 L1035.7,1259.5 L1038.7,1264.7 L1041.7,1267.4 L1044.7,1265.2 L1047.7,1263.8 L1050.7,1262.7 L1053.7,1263.8 L1056.7,1263.1 L1059.7,1263.5 L1062.7,1262.8 L1065.7,1263.2 L1068.7,1265.3 L1071.7,1264.2 L1074.7,1258.4 L1077.7,1258.9 L1080.7,1257.3 L1083.7,1255.8 L1086.7,1254.0 L1089.7,1252.5 L1092.7,1250.8 L1095.7,1252.4 L1098.7,1253.8 L1101.7,1258.2 L1104.7,1260.1 L1107.7,1257.4 L1110.7,1255.1 L1113.7,1256.6 L1116.7,1254.1 L1119.7,1255.6 L1122.7,1256.7 L1125.7,1261.9 L1128.7,1262.9 L1131.7,1264.5 L1134.7,1265.0 L1137.7,1263.8 L1140.7,1268.0 L1143.7,1276.1 L1146.7,1281.3 L1149.7,1282.4 L1152.7,1285.4 L1155.7,1285.6 L1158.7,1284.7 L1161.7,1283.9 L1164.7,1281.2 L1167.7,1283.0 L1170.7,1288.2 L1173.7,1291.2 L1176.7,1292.3 L1179.7,1289.3 L1182.7,1290.9 L1185.7,1293.8 L1188.7,1298.0 L1191.7,1301.4 L1194.7,1298.8 L1197.7,1301.5 L1200.7,1300.9 L1203.7,1308.1 L1206.7,1311.4 L1209.7,1316.3 L1212.7,1312.9 L1215.7,1312.3 L1218.7,1310.4 L1221.7,1311.9 L1224.7,1319.6 L1227.7,1325.0 L1230.7,1325.3 L1233.7,1326.8 L1236.7,1331.3 L1239.7,1333.5 L1242.7,1334.5 L1245.7,1339.9 L1248.7,1341.1 L1251.7,1339.9 L1254.7,1339.3 L1257.7,1337.3 L1260.7,1333.4 L1263.7,1331.1 L1266.7,1329.2 L1269.7,1328.4 L1272.7,1325.0 L1275.7,1326.2 L1278.7,1323.7 L1281.7,1324.6 L1284.7,1323.0 L1287.7,1314.7 L1290.7,1299.5 L1293.7,1291.7 L1296.7,1282.8 L1299.7,1280.3 L1302.7,1274.8 L1305.7,1275.5 L1308.7,1274.5 L1311.7,1269.0 L1314.7,1262.2 L1317.7,1256.1 L1320.7,1251.2 L1323.7,1256.6 L1326.7,1261.5 L1329.7,1263.2 L1332.7,1267.0 L1335.7,1262.5 L1338.7,1257.6 L1341.7,1259.4 L1344.7,1255.4 L1347.7,1255.9 L1350.7,1261.2 L1353.7,1264.5 L1356.7,1269.0 L1359.7,1268.3 L1362.7,1269.4 L1365.7,1266.4 L1368.7,1261.8 L1371.7,1257.6 L1374.7,1256.0 L1377.7,1252.8 L1379.7,1251.1 L1379.7,1361.8 L1377.7,1363.5 L1374.7,1368.2 L1371.7,1372.3 L1368.7,1374.2 L1365.7,1379.2 L1362.7,1382.2 L1359.7,1387.8 L1356.7,1385.0 L1353.7,1385.7 L1350.7,1380.9 L1347.7,1382.0 L1344.7,1382.3 L1341.7,1380.5 L1338.7,1385.4 L1335.7,1390.5 L1332.7,1395.9 L1329.7,1390.7 L1326.7,1384.5 L1323.7,1374.9 L1320.7,1372.0 L1317.7,1378.2 L1314.7,1382.5 L1311.7,1390.0 L1308.7,1391.3 L1305.7,1390.9 L1302.7,1394.6 L1299.7,1393.3 L1296.7,1399.5 L1293.7,1406.4 L1290.7,1416.0 L1287.7,1428.1 L1284.7,1435.6 L1281.7,1438.0 L1278.7,1440.3 L1275.7,1437.5 L1272.7,1440.9 L1269.7,1440.5 L1266.7,1440.0 L1263.7,1440.3 L1260.7,1441.0 L1257.7,1443.2 L1254.7,1449.4 L1251.7,1451.1 L1248.7,1450.6 L1245.7,1447.3 L1242.7,1443.0 L1239.7,1438.3 L1236.7,1436.5 L1233.7,1433.5 L1230.7,1430.4 L1227.7,1429.7 L1224.7,1423.6 L1221.7,1420.1 L1218.7,1415.0 L1215.7,1415.9 L1212.7,1417.2 L1209.7,1422.3 L1206.7,1419.3 L1203.7,1415.1 L1200.7,1408.5 L1197.7,1407.3 L1194.7,1405.9 L1191.7,1403.1 L1188.7,1400.1 L1185.7,1398.4 L1182.7,1398.1 L1179.7,1395.2 L1176.7,1398.8 L1173.7,1393.5 L1170.7,1393.3 L1167.7,1387.1 L1164.7,1384.8 L1161.7,1388.0 L1158.7,1389.5 L1155.7,1389.3 L1152.7,1387.8 L1149.7,1387.7 L1146.7,1383.2 L1143.7,1379.7 L1140.7,1370.0 L1137.7,1367.8 L1134.7,1364.3 L1131.7,1363.8 L1128.7,1364.9 L1125.7,1362.1 L1122.7,1359.5 L1119.7,1358.6 L1116.7,1356.8 L1113.7,1355.5 L1110.7,1354.3 L1107.7,1356.1 L1104.7,1359.8 L1101.7,1356.4 L1098.7,1352.3 L1095.7,1347.6 L1092.7,1345.9 L1089.7,1350.2 L1086.7,1352.4 L1083.7,1352.8 L1080.7,1353.0 L1077.7,1353.3 L1074.7,1355.3 L1071.7,1356.6 L1068.7,1356.9 L1065.7,1354.0 L1062.7,1353.2 L1059.7,1353.7 L1056.7,1357.8 L1053.7,1356.1 L1050.7,1355.9 L1047.7,1352.8 L1044.7,1355.8 L1041.7,1357.6 L1038.7,1352.5 L1035.7,1347.1 L1032.7,1342.8 L1029.7,1341.4 L1026.7,1344.3 L1023.7,1346.3 L1020.7,1350.6 L1017.7,1357.5 L1014.7,1359.2 L1011.7,1361.9 L1008.7,1359.7 L1005.7,1358.5 L1002.7,1351.5 L999.7,1348.7 L996.7,1350.9 L993.7,1346.6 L990.7,1342.0 L987.7,1337.7 L984.7,1333.1 L981.7,1333.9 L978.7,1332.1 L975.7,1329.4 L972.7,1324.0 L969.7,1322.4 L966.7,1323.0 L963.7,1326.1 L960.7,1329.5 L957.7,1325.8 L954.7,1323.9 L951.7,1323.8 L948.7,1321.1 L945.7,1318.1 L942.7,1313.5 L939.7,1308.0 L936.7,1311.6 L933.7,1315.3 L930.7,1319.8 L927.7,1323.9 L924.7,1319.9 L921.7,1316.4 L918.7,1317.1 L915.7,1318.6 L912.7,1323.0 L909.7,1318.9 L906.7,1316.1 L903.7,1306.5 L900.7,1304.2 L897.7,1303.8 L894.7,1306.3 L891.7,1306.9 L888.7,1308.0 L885.7,1307.3 L882.7,1310.6 L879.7,1313.1 L876.7,1316.4 L873.7,1313.6 L870.7,1312.2 L867.7,1308.6 L864.7,1312.5 L861.7,1313.6 L858.7,1312.6 L855.7,1311.3 L852.7,1308.2 L849.7,1306.1 L846.7,1303.5 L843.7,1302.0 L840.7,1302.1 L837.7,1303.0 L834.7,1304.8 L831.7,1306.3 L828.7,1305.9 L825.7,1303.5 L822.7,1306.9 L819.7,1308.9 L816.7,1309.9 L813.7,1310.6 L810.7,1310.2 L807.7,1311.8 L804.7,1313.6 L801.7,1311.4 L798.7,1307.2 L795.7,1302.4 L792.7,1298.9 L789.7,1300.5 L786.7,1305.1 L783.7,1305.2 L780.7,1299.8 L777.7,1296.0 L774.7,1297.3 L771.7,1298.2 L768.7,1301.6 L765.7,1298.3 L762.7,1295.0 L759.7,1293.6 L756.7,1292.1 L753.7,1291.0 L750.7,1290.3 L747.7,1288.5 L744.7,1289.6 L741.7,1291.1 L738.7,1290.5 L735.7,1289.7 L732.7,1288.4 L729.7,1285.7 L726.7,1285.2 L723.7,1284.5 L720.7,1283.0 L717.7,1280.1 L714.7,1279.2 L711.7,1275.2 L708.7,1274.0 L705.7,1270.8 L702.7,1270.8 L699.7,1275.0 L696.7,1280.8 L693.7,1284.5 L690.7,1281.1 L687.7,1274.5 L684.7,1271.7 L681.7,1270.0 L678.7,1271.2 L675.7,1274.2 L672.7,1277.4 L669.7,1279.8 L666.7,1281.4 L663.7,1285.1 L660.7,1280.1 L657.7,1275.2 L654.7,1269.4 L651.7,1268.7 L648.7,1269.4 L645.7,1269.3 L642.7,1264.1 L639.7,1260.5 L636.7,1258.0 L633.7,1261.4 L630.7,1264.7 L627.7,1268.4 L624.7,1267.2 L621.7,1264.8 L618.7,1263.2 L615.7,1262.3 L612.7,1263.7 L609.7,1264.8 L606.7,1264.5 L603.7,1266.3 L600.7,1264.7 L597.7,1263.6 L594.7,1255.2 L591.7,1244.8 L588.7,1236.5 L585.7,1234.8 L582.7,1235.7 L579.7,1234.4 L576.7,1231.6 L573.7,1228.9 L570.7,1229.8 L567.7,1230.8 L564.7,1233.4 L561.7,1233.7 L558.7,1232.6 L555.7,1233.5 L552.7,1234.0 L549.7,1234.9 L546.7,1232.0 L543.7,1227.1 L540.7,1223.8 L537.7,1222.8 L534.7,1224.6 L531.7,1228.1 L528.7,1225.1 L525.7,1221.8 L522.7,1218.5 L519.7,1220.9 L516.7,1228.0 L513.7,1231.8 L510.7,1234.2 L507.7,1232.4 L504.7,1229.8 L501.7,1229.6 L498.7,1229.0 L495.7,1225.9 L492.7,1221.3 L489.7,1217.2 L486.7,1215.2 L483.7,1214.7 L480.7,1214.6 L477.7,1216.1 L474.7,1217.9 L471.7,1221.4 L468.7,1222.5 L465.7,1218.8 L462.7,1215.4 L459.7,1212.9 L456.7,1213.0 L453.7,1215.0 L450.7,1217.2 L447.7,1217.9 L444.7,1217.0 L441.7,1216.0 L438.7,1216.0 L435.7,1215.0 L432.7,1213.5 L429.7,1212.2 L426.7,1211.5 L423.7,1209.8 L420.7,1208.0 L417.7,1206.4 L414.7,1206.0 L411.7,1206.2 L408.7,1206.0 L405.7,1203.2 L402.7,1200.1 L399.7,1197.7 L396.7,1193.9 L393.7,1194.2 L390.7,1194.3 L387.7,1192.6 L384.7,1187.3 L381.7,1180.0 L378.7,1172.4 L375.7,1168.3 L372.7,1170.3 L369.7,1172.1 L366.7,1175.0 L363.7,1172.8 L360.7,1168.6 L357.7,1163.5 L354.7,1160.9 L351.7,1159.1 L348.7,1160.1 L345.7,1160.4 L342.7,1158.8 L339.7,1157.2 L336.7,1155.7 L333.7,1154.3 L330.7,1154.9 L327.7,1155.2 L324.7,1153.6 L321.7,1151.9 L318.7,1150.2 L315.7,1148.3 L312.7,1149.5 L309.7,1152.3 L306.7,1154.9 L303.7,1157.4 L300.7,1157.2 L297.7,1154.9 L294.7,1152.7 L291.7,1150.4 L288.7,1148.2 L285.7,1148.5 L282.7,1150.1 L279.7,1150.0 L276.7,1149.5 L273.7,1144.0 L270.7,1137.0 L267.7,1130.1 L264.7,1127.7 L261.7,1129.6 L258.7,1132.2 L255.7,1135.3 L252.7,1133.4 L249.7,1130.6 L246.7,1129.3 L243.7,1131.0 L240.7,1132.8 L237.7,1134.8 L234.7,1133.8 L231.7,1131.4 L228.7,1128.7 L225.7,1125.8 L222.7,1126.7 L219.7,1128.8 L216.7,1130.3 L213.7,1131.3 L210.7,1127.3 L207.7,1124.5 L204.7,1127.9 L201.7,1131.2 L198.7,1134.3 L195.7,1134.2 L192.7,1131.2 L189.7,1127.9 L186.7,1124.3 L183.7,1120.3 L180.7,1116.2 L177.7,1113.6 L174.7,1113.1 L171.7,1116.0 L168.7,1116.7 L165.7,1115.8 L162.7,1113.2 L159.7,1112.5 L156.7,1115.4 L153.7,1120.3 L150.7,1122.6 L147.7,1122.3 L144.7,1122.5 L141.7,1124.1 L138.7,1123.1 L135.7,1118.1 L132.7,1108.3 L129.7,1102.8 L126.7,1103.1 L123.7,1107.9 L120.7,1115.5 L117.7,1115.3 L114.7,1115.3 L111.7,1115.7 L108.7,1117.6 L105.7,1120.2 L102.7,1121.0 L99.7,1118.4 L96.7,1117.5 L93.7,1118.7 L90.7,1117.1 L87.7,1114.6 L84.7,1111.7 L81.7,1111.9 L78.7,1119.2 L75.7,1128.6 L72.7,1133.2 L69.7,1131.7 L66.7,1129.0 L63.7,1126.1 L60.7,1127.2 L57.7,1128.7 L54.7,1128.0 L51.7,1127.4 L48.7,1125.8 L45.7,1123.8Z" fill="#0000ff" fill-opacity="0.2"/>
<path d="M45.7,1120.9C46.7,1121.5 49.7,1123.6 51.7,1124.4C53.6,1125.2 55.6,1126.0 57.6,1125.8C59.5,1125.5 61.7,1122.5 63.5,1122.8C65.3,1123.2 66.9,1126.4 68.4,1127.8C69.9,1129.1 71.0,1131.2 72.3,1130.7C73.6,1130.2 74.9,1128.1 76.3,1124.8C77.6,1121.5 79.0,1114.0 80.2,1111.0C81.3,1108.1 81.8,1106.9 83.1,1107.1C84.5,1107.3 86.4,1110.5 88.1,1112.0C89.7,1113.5 91.4,1115.6 93.0,1115.9C94.6,1116.3 96.1,1113.5 97.9,1114.0C99.7,1114.5 101.7,1119.1 103.8,1118.9C106.0,1118.7 108.7,1114.1 110.7,1113.0C112.7,1111.8 114.0,1112.0 115.6,1112.0C117.3,1112.0 119.1,1114.5 120.6,1113.0C122.0,1111.5 123.2,1105.7 124.5,1103.1C125.8,1100.6 127.1,1097.5 128.4,1097.6C129.7,1097.8 131.0,1100.9 132.4,1104.1C133.7,1107.3 135.0,1114.0 136.3,1116.9C137.6,1119.9 138.6,1121.5 140.2,1121.9C141.9,1122.2 144.2,1119.2 146.1,1118.9C148.1,1118.6 150.2,1121.0 152.0,1119.9C153.9,1118.7 155.5,1113.9 157.0,1112.0C158.4,1110.1 159.4,1108.3 160.9,1108.5C162.4,1108.6 164.2,1112.1 165.8,1113.0C167.5,1113.9 169.1,1114.6 170.7,1114.0C172.4,1113.3 174.0,1109.2 175.7,1109.1C177.3,1108.9 179.0,1111.2 180.6,1113.0C182.2,1114.8 183.7,1117.6 185.5,1119.9C187.3,1122.2 189.4,1124.6 191.4,1126.8C193.4,1128.9 195.4,1132.7 197.3,1132.7C199.3,1132.7 201.4,1128.7 203.2,1126.8C205.0,1124.8 206.3,1120.5 208.1,1120.9C210.0,1121.2 212.1,1127.9 214.1,1128.7C216.0,1129.6 218.2,1126.9 220.0,1125.8C221.8,1124.6 223.1,1121.5 224.9,1121.9C226.7,1122.2 228.8,1126.0 230.8,1127.8C232.8,1129.5 234.7,1132.1 236.7,1132.3C238.7,1132.4 240.8,1129.8 242.6,1128.7C244.4,1127.7 245.4,1125.1 247.5,1125.8C249.7,1126.4 253.1,1132.5 255.4,1132.7C257.7,1132.8 259.5,1128.2 261.3,1126.8C263.1,1125.3 264.7,1122.8 266.2,1123.8C267.7,1124.8 268.5,1128.9 270.2,1132.7C271.8,1136.5 274.1,1144.0 276.1,1146.5C278.0,1148.9 280.0,1147.8 282.0,1147.4C283.9,1147.1 285.9,1144.3 287.9,1144.5C289.8,1144.7 291.3,1146.8 293.8,1148.4C296.2,1150.1 300.2,1154.3 302.6,1154.3C305.1,1154.3 306.5,1150.4 308.5,1148.4C310.6,1146.4 312.9,1142.8 314.9,1142.3C317.0,1141.8 318.7,1144.3 320.8,1145.3C323.0,1146.3 325.4,1147.9 327.7,1148.2C330.0,1148.6 332.5,1146.9 334.6,1147.2C336.7,1147.6 338.5,1149.2 340.5,1150.2C342.5,1151.2 344.4,1153.1 346.4,1153.1C348.4,1153.2 350.5,1150.6 352.3,1150.8C354.1,1151.0 355.6,1152.3 357.2,1154.1C358.9,1156.0 360.7,1159.9 362.2,1162.0C363.6,1164.1 364.6,1166.5 366.1,1166.5C367.6,1166.5 369.4,1163.3 371.0,1162.0C372.7,1160.8 374.5,1158.6 375.9,1159.1C377.4,1159.5 378.6,1162.2 379.9,1165.0C381.2,1167.7 382.5,1172.8 383.8,1175.8C385.1,1178.7 386.4,1181.2 387.8,1182.7C389.1,1184.2 390.2,1184.5 391.7,1184.6C393.2,1184.8 395.0,1183.0 396.6,1183.7C398.3,1184.3 399.7,1186.8 401.5,1188.6C403.3,1190.4 405.6,1193.3 407.4,1194.5C409.2,1195.6 410.7,1195.5 412.4,1195.5C414.0,1195.5 415.5,1194.2 417.3,1194.5C419.1,1194.8 421.2,1196.5 423.2,1197.4C425.2,1198.4 427.0,1199.5 429.1,1200.4C431.2,1201.3 433.7,1202.2 436.0,1202.8C438.3,1203.3 440.6,1203.5 442.9,1203.9C445.2,1204.4 447.8,1205.7 449.8,1205.3C451.7,1204.9 453.2,1202.5 454.7,1201.4C456.2,1200.2 457.1,1198.1 458.6,1198.4C460.1,1198.8 461.7,1201.4 463.5,1203.3C465.3,1205.2 467.5,1209.7 469.4,1209.8C471.4,1210.0 473.4,1205.8 475.4,1204.3C477.3,1202.8 479.5,1201.4 481.3,1200.8C483.1,1200.2 484.5,1200.0 486.2,1200.8C487.8,1201.5 489.5,1203.2 491.1,1205.3C492.7,1207.4 494.4,1211.4 496.0,1213.2C497.7,1215.0 499.3,1215.6 500.9,1216.1C502.6,1216.7 504.2,1215.8 505.9,1216.5C507.5,1217.3 509.1,1220.5 510.8,1220.5C512.4,1220.4 514.2,1218.3 515.7,1216.1C517.2,1213.9 518.5,1209.3 519.6,1207.3C520.8,1205.3 521.3,1204.0 522.6,1204.3C523.9,1204.7 526.0,1207.7 527.5,1209.3C529.0,1210.8 530.1,1213.8 531.5,1213.8C532.8,1213.8 534.1,1210.4 535.4,1209.3C536.7,1208.1 537.9,1206.2 539.3,1206.9C540.8,1207.5 542.6,1211.0 544.3,1213.2C545.9,1215.4 547.4,1219.3 549.2,1220.1C551.0,1220.9 553.3,1218.5 555.1,1218.1C556.9,1217.7 558.4,1217.5 560.0,1217.5C561.6,1217.5 563.4,1218.7 564.9,1218.1C566.4,1217.6 567.5,1215.2 568.9,1214.2C570.2,1213.2 571.3,1211.9 572.8,1212.2C574.3,1212.5 576.1,1214.8 577.7,1215.7C579.4,1216.7 581.0,1217.8 582.6,1218.1C584.3,1218.4 586.3,1217.4 587.6,1217.7C588.8,1218.0 588.9,1217.1 590.0,1219.9C591.1,1222.7 592.6,1230.5 593.9,1234.6C595.2,1238.7 596.4,1242.5 597.9,1244.5C599.4,1246.5 601.0,1246.9 602.8,1246.9C604.6,1246.9 606.7,1245.2 608.7,1244.5C610.7,1243.8 613.0,1243.0 614.6,1242.5C616.2,1242.0 617.1,1241.0 618.5,1241.5C620.0,1242.0 622.0,1244.5 623.5,1245.5C624.9,1246.5 625.9,1248.3 627.4,1247.4C628.9,1246.6 630.7,1242.5 632.3,1240.6C634.0,1238.6 635.6,1235.6 637.2,1235.6C638.9,1235.6 640.7,1238.8 642.2,1240.6C643.6,1242.3 644.6,1245.6 646.1,1246.1C647.6,1246.6 649.7,1243.9 651.0,1243.5C652.3,1243.1 652.7,1242.0 654.0,1243.5C655.3,1245.0 657.3,1249.8 658.9,1252.4C660.5,1254.9 662.2,1258.3 663.8,1258.7C665.5,1259.0 666.9,1256.0 668.7,1254.3C670.5,1252.6 672.8,1250.2 674.6,1248.4C676.5,1246.6 678.1,1244.8 679.6,1243.5C681.0,1242.3 682.2,1240.5 683.5,1240.9C684.8,1241.4 686.1,1244.2 687.4,1246.5C688.8,1248.7 690.2,1252.7 691.4,1254.3C692.5,1256.0 693.2,1257.4 694.3,1256.3C695.5,1255.2 696.8,1250.1 698.3,1247.4C699.7,1244.8 701.9,1241.7 703.2,1240.6C704.5,1239.4 704.8,1239.7 706.1,1240.6C707.5,1241.4 709.3,1244.0 711.1,1245.5C712.9,1246.9 715.0,1248.1 717.0,1249.4C718.9,1250.7 721.1,1252.7 722.9,1253.3C724.7,1254.0 726.0,1252.7 727.8,1253.3C729.6,1254.0 731.7,1256.1 733.7,1257.3C735.7,1258.4 737.6,1260.3 739.6,1260.2C741.6,1260.1 743.5,1257.0 745.5,1256.7C747.5,1256.4 749.4,1257.8 751.4,1258.3C753.4,1258.8 755.5,1258.8 757.3,1259.6C759.1,1260.5 760.8,1261.8 762.2,1263.2C763.7,1264.6 765.0,1267.0 766.2,1268.1C767.3,1269.3 768.0,1270.6 769.1,1270.1C770.3,1269.6 771.8,1266.4 773.1,1265.2C774.4,1263.9 775.7,1262.3 777.0,1262.6C778.3,1262.9 779.6,1265.6 780.9,1267.1C782.3,1268.7 783.6,1271.9 784.9,1272.0C786.2,1272.2 787.5,1269.3 788.8,1268.1C790.1,1267.0 791.4,1264.8 792.8,1265.2C794.1,1265.5 795.4,1268.3 796.7,1270.1C798.0,1271.9 799.5,1274.7 800.6,1276.0C801.8,1277.2 802.3,1277.8 803.6,1277.6C804.9,1277.3 807.0,1275.2 808.5,1274.4C810.0,1273.7 811.1,1273.0 812.4,1273.0C813.8,1273.0 814.9,1274.9 816.4,1274.4C817.9,1273.9 819.7,1271.5 821.3,1270.1C822.9,1268.7 824.6,1266.5 826.2,1266.1C827.9,1265.8 829.5,1268.2 831.1,1268.1C832.8,1268.0 834.4,1266.7 836.1,1265.7C837.7,1264.8 839.3,1262.5 841.0,1262.2C842.6,1261.9 844.1,1262.8 845.9,1263.8C847.7,1264.8 850.0,1266.6 851.8,1268.1C853.6,1269.7 855.1,1271.7 856.7,1273.0C858.4,1274.3 860.2,1276.1 861.7,1276.0C863.1,1275.8 864.4,1273.0 865.6,1272.0C866.7,1271.1 866.8,1269.2 868.5,1270.1C870.3,1270.9 873.9,1277.0 876.3,1277.0C878.6,1277.1 880.6,1271.6 882.6,1270.1C884.5,1268.6 886.1,1268.6 887.8,1268.0C889.5,1267.5 891.1,1267.9 893.0,1267.0C894.9,1266.1 897.6,1262.8 899.3,1262.8C901.1,1262.8 902.1,1264.4 903.5,1267.0C904.9,1269.6 906.3,1275.7 907.7,1278.5C909.1,1281.3 910.5,1283.7 911.9,1283.7C913.3,1283.7 914.7,1279.8 916.1,1278.5C917.5,1277.2 918.8,1275.4 920.2,1275.8C921.6,1276.1 923.0,1279.2 924.4,1280.6C925.8,1282.0 927.2,1284.5 928.6,1284.2C930.0,1283.8 931.4,1280.8 932.8,1278.5C934.2,1276.2 935.8,1271.9 937.0,1270.1C938.2,1268.4 938.9,1267.2 940.1,1268.0C941.4,1268.9 942.7,1273.1 944.3,1275.4C945.9,1277.6 947.6,1280.1 949.6,1281.6C951.5,1283.2 953.7,1283.6 955.8,1284.8C957.9,1286.0 960.4,1289.1 962.1,1289.0C963.9,1288.8 964.9,1285.1 966.3,1283.7C967.7,1282.3 969.1,1280.3 970.5,1280.6C971.9,1280.9 973.1,1283.7 974.7,1285.8C976.2,1287.9 978.2,1291.9 979.9,1293.2C981.7,1294.4 983.4,1291.9 985.1,1293.2C986.9,1294.4 988.6,1298.0 990.4,1300.5C992.1,1302.9 993.9,1306.6 995.6,1307.8C997.4,1309.0 999.1,1306.4 1000.8,1307.8C1002.6,1309.2 1004.3,1313.9 1006.1,1316.2C1007.8,1318.5 1009.6,1321.4 1011.3,1321.4C1013.1,1321.4 1014.6,1318.8 1016.5,1316.2C1018.5,1313.6 1020.9,1308.7 1022.8,1305.7C1024.7,1302.8 1026.7,1299.8 1028.1,1298.4C1029.5,1297.0 1030.0,1296.5 1031.2,1297.3C1032.4,1298.2 1033.8,1301.2 1035.4,1303.6C1037.0,1306.1 1038.9,1311.0 1040.6,1312.0C1042.4,1313.0 1044.3,1310.4 1045.9,1309.9C1047.4,1309.4 1048.5,1308.7 1050.0,1308.9C1051.6,1309.0 1053.5,1311.0 1055.3,1311.0C1057.0,1310.9 1058.8,1308.8 1060.5,1308.4C1062.3,1308.1 1064.2,1308.4 1065.7,1308.9C1067.3,1309.3 1068.4,1311.3 1069.9,1311.0C1071.5,1310.6 1073.6,1308.0 1075.2,1306.8C1076.7,1305.5 1078.0,1304.0 1079.4,1303.6C1080.7,1303.3 1082.0,1305.2 1083.5,1304.7C1085.1,1304.2 1087.0,1301.6 1088.8,1300.5C1090.5,1299.4 1092.4,1297.5 1094.0,1298.0C1095.6,1298.5 1096.6,1301.6 1098.2,1303.6C1099.8,1305.6 1101.7,1309.4 1103.4,1309.9C1105.2,1310.4 1106.9,1307.6 1108.7,1306.8C1110.4,1305.9 1112.0,1304.7 1113.9,1304.7C1115.8,1304.7 1118.3,1305.7 1120.2,1306.8C1122.1,1307.8 1123.7,1309.6 1125.4,1311.0C1127.2,1312.3 1128.9,1314.1 1130.6,1314.7C1132.4,1315.4 1134.3,1314.3 1135.9,1314.7C1137.4,1315.1 1138.6,1314.7 1140.0,1317.2C1141.4,1319.7 1142.6,1326.7 1144.2,1329.8C1145.8,1332.9 1147.7,1334.8 1149.4,1336.1C1151.2,1337.4 1152.9,1337.8 1154.7,1337.8C1156.4,1337.8 1158.1,1336.7 1159.9,1336.1C1161.6,1335.5 1163.4,1333.5 1165.1,1334.0C1166.9,1334.5 1168.4,1337.5 1170.4,1339.2C1172.3,1341.0 1174.7,1343.8 1176.6,1344.5C1178.6,1345.2 1180.1,1342.9 1181.9,1343.4C1183.6,1343.9 1185.4,1346.0 1187.1,1347.6C1188.8,1349.2 1190.6,1352.0 1192.3,1352.8C1194.1,1353.6 1196.0,1351.7 1197.6,1352.4C1199.1,1353.1 1200.4,1355.0 1201.8,1357.0C1203.2,1359.0 1204.5,1362.4 1205.9,1364.3C1207.3,1366.3 1208.7,1368.5 1210.1,1368.5C1211.5,1368.5 1212.9,1365.4 1214.3,1364.3C1215.7,1363.3 1217.1,1361.5 1218.5,1362.2C1219.9,1362.9 1221.1,1366.1 1222.7,1368.5C1224.3,1371.0 1226.2,1375.0 1227.9,1376.9C1229.7,1378.8 1231.4,1378.8 1233.2,1380.0C1234.9,1381.3 1236.7,1382.5 1238.4,1384.2C1240.1,1386.0 1242.1,1388.6 1243.6,1390.5C1245.2,1392.4 1246.6,1394.7 1247.8,1395.7C1249.0,1396.8 1249.6,1397.5 1251.0,1396.8C1252.4,1396.1 1254.4,1393.4 1256.2,1391.6C1257.9,1389.7 1259.7,1387.0 1261.4,1385.9C1263.2,1384.9 1264.9,1385.7 1266.7,1385.3C1268.4,1384.8 1270.3,1383.8 1271.9,1383.2C1273.5,1382.6 1274.3,1381.7 1276.1,1381.7C1277.8,1381.7 1280.6,1384.2 1282.4,1383.2C1284.1,1382.2 1285.2,1379.9 1286.5,1375.9C1287.9,1371.8 1289.2,1364.7 1290.7,1359.1C1292.3,1353.5 1294.2,1346.4 1296.0,1342.4C1297.7,1338.3 1299.3,1336.6 1301.2,1335.0C1303.1,1333.5 1305.6,1334.2 1307.5,1332.9C1309.4,1331.7 1311.1,1330.3 1312.7,1327.7C1314.3,1325.1 1315.5,1319.7 1316.9,1317.2C1318.3,1314.8 1319.7,1313.0 1321.1,1313.0C1322.5,1313.0 1323.9,1314.8 1325.3,1317.2C1326.7,1319.7 1328.2,1325.3 1329.5,1327.7C1330.7,1330.1 1331.4,1332.2 1332.6,1331.9C1333.8,1331.5 1335.4,1327.5 1336.8,1325.6C1338.2,1323.7 1339.4,1321.6 1341.0,1320.4C1342.5,1319.2 1344.6,1318.3 1346.2,1318.3C1347.8,1318.3 1348.8,1319.2 1350.4,1320.4C1352.0,1321.6 1354.1,1324.3 1355.6,1325.6C1357.2,1326.9 1358.2,1328.5 1359.8,1328.1C1361.4,1327.8 1363.3,1325.3 1365.1,1323.5C1366.8,1321.7 1368.5,1319.2 1370.3,1317.2C1372.0,1315.3 1373.9,1313.6 1375.5,1312.0C1377.1,1310.4 1379.0,1308.5 1379.7,1307.8" fill="none" stroke="#0a0ad8" stroke-width="2.9" stroke-linejoin="round" stroke-linecap="round"/>
<path d="M45.7,1113.3 L48.7,1111.5 L51.7,1108.5 L54.7,1105.5 L57.7,1102.4 L60.7,1098.4 L63.7,1093.4 L66.7,1087.4 L69.7,1077.8 L72.7,1069.2 L75.7,1060.8 L78.7,1056.9 L81.7,1055.5 L84.7,1058.0 L87.7,1060.6 L90.7,1061.6 L93.7,1062.3 L96.7,1062.8 L99.7,1066.8 L102.7,1074.6 L105.7,1084.4 L108.7,1091.3 L111.7,1095.7 L114.7,1097.9 L117.7,1100.2 L120.7,1100.2 L123.7,1098.9 L126.7,1096.5 L129.7,1096.7 L132.7,1101.1 L135.7,1103.7 L138.7,1105.6 L141.7,1102.9 L144.7,1103.2 L147.7,1108.0 L150.7,1119.9 L153.7,1130.8 L156.7,1137.2 L159.7,1136.3 L162.7,1129.7 L165.7,1117.6 L168.7,1096.7 L171.7,1080.9 L174.7,1076.1 L177.7,1081.0 L180.7,1089.9 L183.7,1100.1 L186.7,1104.1 L189.7,1108.3 L192.7,1111.7 L195.7,1115.5 L198.7,1116.1 L201.7,1113.8 L204.7,1110.3 L207.7,1110.4 L210.7,1115.0 L213.7,1125.9 L216.7,1135.5 L219.7,1145.6 L222.7,1159.7 L225.7,1174.2 L228.7,1182.6 L231.7,1179.9 L234.7,1170.0 L237.7,1161.9 L240.7,1159.1 L243.7,1156.6 L246.7,1153.4 L249.7,1147.5 L252.7,1141.2 L255.7,1143.1 L258.7,1144.7 L261.7,1145.7 L264.7,1147.3 L267.7,1149.2 L270.7,1149.2 L273.7,1144.7 L276.7,1139.6 L279.7,1132.9 L282.7,1131.6 L285.7,1135.8 L288.7,1139.4 L291.7,1138.3 L294.7,1135.3 L297.7,1138.2 L300.7,1143.9 L303.7,1147.2 L306.7,1144.4 L309.7,1141.9 L312.7,1140.6 L315.7,1148.2 L318.7,1166.3 L321.7,1181.6 L324.7,1190.4 L327.7,1196.1 L330.7,1194.0 L333.7,1191.2 L336.7,1186.4 L339.7,1181.3 L342.7,1181.4 L345.7,1185.0 L348.7,1194.6 L351.7,1205.3 L354.7,1212.2 L357.7,1213.4 L360.7,1213.3 L363.7,1209.4 L366.7,1206.9 L369.7,1210.8 L372.7,1218.9 L375.7,1230.0 L378.7,1232.6 L381.7,1227.9 L384.7,1220.4 L387.7,1218.1 L390.7,1217.9 L393.7,1220.2 L396.7,1226.2 L399.7,1233.4 L402.7,1239.0 L405.7,1242.7 L408.7,1237.3 L411.7,1231.3 L414.7,1222.8 L417.7,1219.5 L420.7,1218.8 L423.7,1216.3 L426.7,1214.9 L429.7,1217.5 L432.7,1225.4 L435.7,1233.5 L438.7,1232.9 L441.7,1225.5 L444.7,1218.1 L447.7,1223.6 L450.7,1234.3 L453.7,1238.6 L456.7,1240.2 L459.7,1237.7 L462.7,1235.3 L465.7,1239.7 L468.7,1238.6 L471.7,1233.3 L474.7,1231.0 L477.7,1233.9 L480.7,1241.2 L483.7,1247.2 L486.7,1248.7 L489.7,1252.1 L492.7,1252.3 L495.7,1249.3 L498.7,1243.1 L501.7,1232.0 L504.7,1226.1 L507.7,1229.7 L510.7,1236.3 L513.7,1237.9 L516.7,1232.9 L519.7,1239.1 L522.7,1242.1 L525.7,1249.1 L528.7,1250.2 L531.7,1240.1 L534.7,1230.7 L537.7,1235.3 L540.7,1237.4 L543.7,1241.4 L546.7,1238.8 L549.7,1235.4 L552.7,1240.4 L555.7,1247.3 L558.7,1254.5 L561.7,1250.5 L564.7,1240.0 L567.7,1229.9 L570.7,1228.1 L573.7,1230.8 L576.7,1232.7 L579.7,1238.5 L582.7,1243.8 L585.7,1246.0 L588.7,1247.9 L591.7,1242.3 L594.7,1239.0 L597.7,1234.1 L600.7,1237.2 L603.7,1234.1 L606.7,1237.6 L609.7,1242.0 L612.7,1246.8 L615.7,1245.6 L618.7,1237.5 L621.7,1224.0 L624.7,1214.5 L627.7,1216.8 L630.7,1225.7 L633.7,1234.0 L636.7,1234.9 L639.7,1233.6 L642.7,1245.2 L645.7,1256.1 L648.7,1264.2 L651.7,1262.0 L654.7,1256.4 L657.7,1258.4 L660.7,1266.1 L663.7,1274.4 L666.7,1275.9 L669.7,1273.7 L672.7,1264.8 L675.7,1261.8 L678.7,1254.0 L681.7,1247.1 L684.7,1241.5 L687.7,1243.6 L690.7,1246.9 L693.7,1242.0 L696.7,1232.4 L699.7,1228.0 L702.7,1225.7 L705.7,1228.1 L708.7,1231.1 L711.7,1230.6 L714.7,1228.1 L717.7,1233.9 L720.7,1236.0 L723.7,1239.2 L726.7,1235.2 L729.7,1228.5 L732.7,1223.6 L735.7,1220.8 L738.7,1218.2 L741.7,1209.6 L744.7,1203.4 L747.7,1209.1 L750.7,1225.0 L753.7,1240.8 L756.7,1250.5 L759.7,1252.5 L762.7,1257.2 L765.7,1264.4 L768.7,1266.6 L771.7,1264.4 L774.7,1253.6 L777.7,1235.9 L780.7,1233.8 L783.7,1240.1 L786.7,1239.5 L789.7,1223.2 L792.7,1205.7 L795.7,1203.9 L798.7,1208.8 L801.7,1215.3 L804.7,1219.2 L807.7,1213.1 L810.7,1212.4 L813.7,1213.1 L816.7,1223.5 L819.7,1234.1 L822.7,1238.7 L825.7,1244.1 L828.7,1234.3 L831.7,1231.6 L834.7,1224.2 L837.7,1219.5 L840.7,1220.6 L843.7,1229.5 L846.7,1227.8 L849.7,1223.0 L852.7,1220.5 L855.7,1226.2 L858.7,1227.1 L861.7,1232.1 L864.7,1235.4 L867.7,1232.2 L870.7,1228.7 L873.7,1225.3 L876.7,1219.8 L879.7,1214.8 L882.7,1214.3 L885.7,1218.5 L888.7,1229.0 L891.7,1230.5 L894.7,1231.8 L897.7,1227.4 L900.7,1224.5 L903.7,1223.6 L906.7,1228.6 L909.7,1229.1 L912.7,1226.6 L915.7,1218.2 L918.7,1218.5 L921.7,1218.6 L924.7,1218.3 L927.7,1219.9 L930.7,1220.1 L933.7,1222.9 L936.7,1218.1 L939.7,1220.4 L942.7,1226.8 L945.7,1228.7 L948.7,1238.8 L951.7,1240.0 L954.7,1247.1 L957.7,1247.4 L960.7,1240.5 L963.7,1236.9 L966.7,1240.7 L969.7,1240.1 L972.7,1240.0 L975.7,1239.3 L978.7,1239.5 L981.7,1248.2 L984.7,1258.5 L987.7,1264.3 L990.7,1271.3 L993.7,1273.6 L996.7,1282.5 L999.7,1288.9 L1002.7,1296.3 L1005.7,1310.2 L1008.7,1326.9 L1011.7,1344.0 L1014.7,1350.5 L1017.7,1350.4 L1020.7,1346.2 L1023.7,1346.7 L1026.7,1347.6 L1029.7,1361.4 L1032.7,1373.6 L1035.7,1385.6 L1038.7,1394.7 L1041.7,1401.6 L1044.7,1395.0 L1047.7,1386.2 L1050.7,1376.6 L1053.7,1368.5 L1056.7,1367.7 L1059.7,1372.3 L1062.7,1373.4 L1065.7,1372.5 L1068.7,1362.9 L1071.7,1366.2 L1074.7,1372.2 L1077.7,1387.4 L1080.7,1402.2 L1083.7,1407.2 L1086.7,1408.3 L1089.7,1410.5 L1092.7,1411.9 L1095.7,1418.6 L1098.7,1419.8 L1101.7,1412.3 L1104.7,1405.3 L1107.7,1392.1 L1110.7,1385.2 L1113.7,1380.6 L1116.7,1377.5 L1119.7,1374.0 L1122.7,1373.1 L1125.7,1379.7 L1128.7,1383.6 L1131.7,1390.0 L1134.7,1385.1 L1137.7,1374.8 L1140.7,1361.5 L1143.7,1352.4 L1146.7,1344.4 L1149.7,1339.8 L1152.7,1335.7 L1155.7,1334.6 L1158.7,1334.0 L1161.7,1344.2 L1164.7,1352.4 L1167.7,1355.1 L1170.7,1357.9 L1173.7,1367.1 L1176.7,1386.2 L1179.7,1403.8 L1182.7,1410.2 L1185.7,1410.7 L1188.7,1410.4 L1191.7,1409.0 L1194.7,1412.1 L1197.7,1423.6 L1200.7,1424.8 L1203.7,1429.8 L1206.7,1423.9 L1209.7,1415.4 L1212.7,1394.5 L1215.7,1380.3 L1218.7,1379.3 L1221.7,1388.6 L1224.7,1399.2 L1227.7,1398.6 L1230.7,1395.8 L1233.7,1399.3 L1236.7,1413.4 L1239.7,1429.8 L1242.7,1441.9 L1245.7,1439.6 L1248.7,1443.9 L1251.7,1450.7 L1254.7,1458.2 L1257.7,1466.2 L1260.7,1467.1 L1263.7,1464.4 L1266.7,1455.3 L1269.7,1453.1 L1272.7,1444.7 L1275.7,1435.1 L1278.7,1425.1 L1281.7,1408.5 L1284.7,1395.6 L1287.7,1381.1 L1290.7,1361.4 L1293.7,1348.3 L1296.7,1344.1 L1299.7,1340.5 L1302.7,1338.8 L1305.7,1339.3 L1308.7,1343.1 L1311.7,1347.3 L1314.7,1358.0 L1317.7,1365.5 L1320.7,1371.8 L1323.7,1381.3 L1326.7,1389.6 L1329.7,1391.2 L1332.7,1390.1 L1335.7,1384.7 L1338.7,1380.2 L1341.7,1383.5 L1344.7,1376.0 L1347.7,1361.5 L1350.7,1336.7 L1353.7,1318.8 L1356.7,1314.1 L1359.7,1310.3 L1362.7,1306.4 L1365.7,1300.4 L1368.7,1287.9 L1371.7,1278.6 L1374.7,1277.2 L1377.7,1278.9 L1379.7,1277.7 L1379.7,1418.2 L1377.7,1422.7 L1374.7,1422.5 L1371.7,1423.3 L1368.7,1428.1 L1365.7,1439.5 L1362.7,1450.3 L1359.7,1455.7 L1356.7,1455.6 L1353.7,1462.4 L1350.7,1478.4 L1347.7,1504.4 L1344.7,1516.1 L1341.7,1521.8 L1338.7,1520.1 L1335.7,1523.7 L1332.7,1530.5 L1329.7,1531.1 L1326.7,1529.2 L1323.7,1519.2 L1320.7,1508.4 L1317.7,1503.2 L1314.7,1495.1 L1311.7,1482.6 L1308.7,1479.1 L1305.7,1473.0 L1302.7,1472.0 L1299.7,1473.6 L1296.7,1475.4 L1293.7,1480.7 L1290.7,1494.7 L1287.7,1512.0 L1284.7,1523.5 L1281.7,1541.8 L1278.7,1553.8 L1275.7,1561.9 L1272.7,1572.1 L1269.7,1579.7 L1266.7,1585.4 L1263.7,1589.6 L1260.7,1590.6 L1257.7,1591.5 L1254.7,1587.7 L1251.7,1580.6 L1248.7,1572.3 L1245.7,1571.7 L1242.7,1571.1 L1239.7,1558.2 L1236.7,1546.5 L1233.7,1531.6 L1230.7,1527.0 L1227.7,1531.0 L1224.7,1530.3 L1221.7,1520.5 L1218.7,1513.1 L1215.7,1516.8 L1212.7,1533.2 L1209.7,1553.3 L1206.7,1562.0 L1203.7,1568.7 L1200.7,1569.1 L1197.7,1561.4 L1194.7,1551.3 L1191.7,1547.3 L1188.7,1549.9 L1185.7,1548.8 L1182.7,1552.2 L1179.7,1539.7 L1176.7,1524.5 L1173.7,1504.1 L1170.7,1496.8 L1167.7,1493.8 L1164.7,1490.1 L1161.7,1479.3 L1158.7,1472.2 L1155.7,1467.9 L1152.7,1472.6 L1149.7,1473.9 L1146.7,1476.1 L1143.7,1484.6 L1140.7,1492.9 L1137.7,1510.8 L1134.7,1518.5 L1131.7,1519.4 L1128.7,1513.4 L1125.7,1507.4 L1122.7,1506.9 L1119.7,1507.2 L1116.7,1508.8 L1113.7,1509.5 L1110.7,1516.5 L1107.7,1521.2 L1104.7,1535.8 L1101.7,1544.3 L1098.7,1546.7 L1095.7,1546.9 L1092.7,1542.3 L1089.7,1537.5 L1086.7,1534.4 L1083.7,1532.5 L1080.7,1525.6 L1077.7,1514.1 L1074.7,1499.5 L1071.7,1490.1 L1068.7,1491.1 L1065.7,1493.0 L1062.7,1499.4 L1059.7,1495.0 L1056.7,1491.5 L1053.7,1486.5 L1050.7,1495.6 L1047.7,1504.3 L1044.7,1513.2 L1041.7,1519.3 L1038.7,1513.1 L1035.7,1502.0 L1032.7,1489.9 L1029.7,1479.7 L1026.7,1467.3 L1023.7,1463.7 L1020.7,1468.4 L1017.7,1471.5 L1014.7,1471.1 L1011.7,1465.5 L1008.7,1451.3 L1005.7,1435.9 L1002.7,1424.4 L999.7,1419.7 L996.7,1416.0 L993.7,1411.9 L990.7,1413.3 L987.7,1405.9 L984.7,1400.1 L981.7,1390.8 L978.7,1384.7 L975.7,1384.9 L972.7,1385.6 L969.7,1389.2 L966.7,1389.0 L963.7,1390.2 L960.7,1392.1 L957.7,1400.5 L954.7,1399.7 L951.7,1400.7 L948.7,1395.8 L945.7,1386.1 L942.7,1378.9 L939.7,1374.7 L936.7,1379.0 L933.7,1378.7 L930.7,1378.4 L927.7,1379.5 L924.7,1377.2 L921.7,1372.4 L918.7,1373.6 L915.7,1378.4 L912.7,1384.3 L909.7,1392.1 L906.7,1385.5 L903.7,1384.6 L900.7,1384.5 L897.7,1385.5 L894.7,1388.9 L891.7,1388.8 L888.7,1388.0 L885.7,1378.7 L882.7,1375.6 L879.7,1379.7 L876.7,1380.0 L873.7,1381.1 L870.7,1385.1 L867.7,1388.4 L864.7,1394.3 L861.7,1397.1 L858.7,1391.0 L855.7,1388.9 L852.7,1379.9 L849.7,1383.5 L846.7,1388.6 L843.7,1392.0 L840.7,1387.8 L837.7,1381.3 L834.7,1383.4 L831.7,1391.9 L828.7,1396.2 L825.7,1401.6 L822.7,1402.2 L819.7,1392.4 L816.7,1380.2 L813.7,1364.7 L810.7,1364.0 L807.7,1368.8 L804.7,1371.2 L801.7,1363.4 L798.7,1356.5 L795.7,1353.0 L792.7,1358.4 L789.7,1375.3 L786.7,1394.1 L783.7,1398.1 L780.7,1390.8 L777.7,1397.0 L774.7,1409.6 L771.7,1428.3 L768.7,1428.9 L765.7,1420.4 L762.7,1410.6 L759.7,1403.0 L756.7,1395.7 L753.7,1386.7 L750.7,1364.4 L747.7,1347.7 L744.7,1340.6 L741.7,1344.1 L738.7,1354.8 L735.7,1360.4 L732.7,1357.1 L729.7,1358.7 L726.7,1370.5 L723.7,1375.5 L720.7,1371.7 L717.7,1365.5 L714.7,1361.9 L711.7,1363.5 L708.7,1368.1 L705.7,1365.2 L702.7,1360.9 L699.7,1363.7 L696.7,1366.8 L693.7,1375.0 L690.7,1379.7 L687.7,1377.3 L684.7,1372.8 L681.7,1376.6 L678.7,1384.0 L675.7,1388.8 L672.7,1396.3 L669.7,1404.0 L666.7,1409.3 L663.7,1401.4 L660.7,1391.8 L657.7,1382.3 L654.7,1381.3 L651.7,1387.1 L648.7,1390.1 L645.7,1378.5 L642.7,1366.2 L639.7,1358.1 L636.7,1358.5 L633.7,1355.1 L630.7,1345.5 L627.7,1336.7 L624.7,1335.8 L621.7,1343.4 L618.7,1355.8 L615.7,1363.6 L612.7,1364.0 L609.7,1360.4 L606.7,1353.8 L603.7,1351.7 L600.7,1350.8 L597.7,1348.1 L594.7,1351.6 L591.7,1356.6 L588.7,1363.8 L585.7,1360.0 L582.7,1356.0 L579.7,1349.7 L576.7,1342.0 L573.7,1339.8 L570.7,1339.0 L567.7,1341.3 L564.7,1350.4 L561.7,1354.9 L558.7,1362.9 L555.7,1354.3 L552.7,1345.1 L549.7,1339.5 L546.7,1343.1 L543.7,1346.3 L540.7,1340.0 L537.7,1336.9 L534.7,1335.0 L531.7,1341.7 L528.7,1349.5 L525.7,1349.6 L522.7,1342.2 L519.7,1334.1 L516.7,1331.5 L513.7,1333.6 L510.7,1330.3 L507.7,1325.7 L504.7,1320.6 L501.7,1325.2 L498.7,1335.0 L495.7,1342.1 L492.7,1341.5 L489.7,1339.6 L486.7,1338.1 L483.7,1332.1 L480.7,1326.1 L477.7,1321.4 L474.7,1315.2 L471.7,1317.4 L468.7,1320.5 L465.7,1319.5 L462.7,1317.7 L459.7,1315.7 L456.7,1318.2 L453.7,1316.9 L450.7,1309.1 L447.7,1297.5 L444.7,1293.5 L441.7,1294.1 L438.7,1300.9 L435.7,1301.9 L432.7,1290.8 L429.7,1282.8 L426.7,1278.7 L423.7,1278.9 L420.7,1280.4 L417.7,1283.7 L414.7,1286.6 L411.7,1292.8 L408.7,1298.7 L405.7,1303.0 L402.7,1299.9 L399.7,1294.4 L396.7,1285.5 L393.7,1281.6 L390.7,1277.7 L387.7,1276.2 L384.7,1280.7 L381.7,1287.5 L378.7,1292.0 L375.7,1289.6 L372.7,1279.7 L369.7,1269.3 L366.7,1266.4 L363.7,1269.1 L360.7,1272.0 L357.7,1274.6 L354.7,1270.7 L351.7,1264.6 L348.7,1255.5 L345.7,1244.8 L342.7,1242.5 L339.7,1241.7 L336.7,1244.7 L333.7,1251.1 L330.7,1253.1 L327.7,1256.0 L324.7,1252.1 L321.7,1241.9 L318.7,1226.1 L315.7,1208.2 L312.7,1199.3 L309.7,1200.2 L306.7,1204.3 L303.7,1204.6 L300.7,1196.7 L297.7,1189.4 L294.7,1183.0 L291.7,1183.2 L288.7,1179.6 L285.7,1172.2 L282.7,1167.8 L279.7,1167.1 L276.7,1171.3 L273.7,1174.3 L270.7,1177.4 L267.7,1176.5 L264.7,1173.6 L261.7,1170.7 L258.7,1168.1 L255.7,1165.9 L252.7,1163.3 L249.7,1168.3 L246.7,1173.8 L243.7,1176.0 L240.7,1178.4 L237.7,1180.4 L234.7,1187.7 L231.7,1196.0 L228.7,1198.2 L225.7,1190.4 L222.7,1175.2 L219.7,1161.6 L216.7,1150.9 L213.7,1141.5 L210.7,1130.7 L207.7,1125.5 L204.7,1125.6 L201.7,1129.3 L198.7,1131.5 L195.7,1130.5 L192.7,1127.1 L189.7,1123.6 L186.7,1119.3 L183.7,1115.0 L180.7,1105.1 L177.7,1096.0 L174.7,1091.0 L171.7,1095.9 L168.7,1111.9 L165.7,1132.3 L162.7,1144.8 L159.7,1150.7 L156.7,1152.0 L153.7,1145.5 L150.7,1134.9 L147.7,1122.6 L144.7,1117.7 L141.7,1117.2 L138.7,1119.7 L135.7,1118.1 L132.7,1115.6 L129.7,1111.1 L126.7,1110.8 L123.7,1113.1 L120.7,1114.4 L117.7,1115.3 L114.7,1114.9 L111.7,1114.0 L108.7,1111.2 L105.7,1106.0 L102.7,1097.8 L99.7,1091.6 L96.7,1087.9 L93.7,1089.4 L90.7,1088.7 L87.7,1088.6 L84.7,1088.2 L81.7,1087.2 L78.7,1089.1 L75.7,1093.2 L72.7,1101.4 L69.7,1109.3 L66.7,1117.3 L63.7,1120.5 L60.7,1123.6 L57.7,1126.3 L54.7,1127.3 L51.7,1129.0 L48.7,1129.2 L45.7,1130.4Z" fill="#ff0000" fill-opacity="0.2"/>
<path d="M45.7,1121.9C46.7,1121.4 49.4,1120.4 51.7,1118.9C54.0,1117.4 57.1,1115.6 59.5,1113.0C62.0,1110.4 64.4,1107.1 66.4,1103.1C68.4,1099.2 69.7,1094.0 71.3,1089.4C73.0,1084.8 74.6,1078.7 76.3,1075.6C77.9,1072.5 79.4,1070.8 81.2,1070.7C83.0,1070.5 85.1,1073.8 87.1,1074.6C89.1,1075.4 91.2,1075.4 93.0,1075.6C94.8,1075.8 96.4,1074.3 97.9,1075.6C99.4,1076.9 100.4,1079.7 101.9,1083.5C103.3,1087.2 105.1,1094.6 106.8,1098.2C108.4,1101.8 109.7,1103.5 111.7,1105.1C113.7,1106.8 116.6,1107.9 118.6,1108.1C120.6,1108.2 121.9,1107.1 123.5,1106.1C125.1,1105.1 126.8,1101.7 128.4,1102.2C130.1,1102.7 131.7,1107.3 133.3,1109.1C135.0,1110.9 136.6,1113.0 138.3,1113.0C139.9,1113.0 141.7,1109.1 143.2,1109.1C144.7,1109.1 145.8,1109.7 147.1,1113.0C148.4,1116.3 149.8,1123.8 151.1,1128.7C152.4,1133.7 153.9,1139.6 155.0,1142.5C156.1,1145.4 156.8,1146.4 158.0,1146.1C159.1,1145.7 160.6,1144.1 161.9,1140.6C163.2,1137.0 164.5,1132.0 165.8,1124.8C167.1,1117.6 168.6,1104.0 169.8,1097.2C170.9,1090.5 171.7,1086.7 172.7,1084.4C173.7,1082.2 174.5,1082.0 175.7,1083.5C176.8,1084.9 178.3,1089.4 179.6,1093.3C180.9,1097.2 182.2,1103.8 183.5,1107.1C184.9,1110.4 186.0,1111.0 187.5,1113.0C189.0,1115.0 190.8,1116.9 192.4,1118.9C194.0,1120.9 195.7,1124.5 197.3,1124.8C199.0,1125.1 200.8,1122.3 202.2,1120.9C203.7,1119.4 204.9,1115.9 206.2,1115.9C207.5,1115.9 208.8,1117.7 210.1,1120.9C211.4,1124.0 212.6,1129.7 214.1,1134.6C215.5,1139.6 217.5,1144.8 219.0,1150.4C220.5,1156.0 221.6,1161.9 222.9,1168.1C224.2,1174.3 225.7,1183.9 226.9,1187.8C228.0,1191.7 228.8,1192.1 229.8,1191.7C230.8,1191.4 231.6,1189.1 232.8,1185.8C233.9,1182.5 235.2,1175.0 236.7,1172.0C238.2,1169.1 240.0,1169.4 241.6,1168.1C243.3,1166.8 244.7,1166.8 246.5,1164.2C248.3,1161.5 250.5,1153.7 252.4,1152.4C254.4,1151.0 256.4,1155.0 258.3,1156.3C260.3,1157.6 262.3,1158.9 264.3,1160.2C266.2,1161.5 268.2,1164.8 270.2,1164.2C272.1,1163.5 274.3,1159.1 276.1,1156.3C277.9,1153.5 279.5,1148.1 281.0,1147.4C282.5,1146.8 283.4,1150.1 284.9,1152.4C286.4,1154.7 288.0,1160.1 289.8,1161.2C291.6,1162.4 293.9,1157.8 295.7,1159.3C297.6,1160.7 299.2,1167.0 300.7,1170.1C302.1,1173.2 303.1,1177.8 304.6,1178.0C306.1,1178.1 308.1,1172.4 309.5,1171.1C310.9,1169.7 311.9,1168.6 313.0,1169.9C314.0,1171.2 314.8,1173.3 315.9,1178.7C317.1,1184.2 318.5,1195.5 319.8,1202.4C321.2,1209.3 322.5,1216.1 323.8,1220.1C325.1,1224.0 326.2,1225.5 327.7,1226.0C329.2,1226.5 331.0,1225.0 332.6,1223.0C334.3,1221.1 336.1,1216.3 337.6,1214.2C339.0,1212.0 340.2,1210.2 341.5,1210.2C342.8,1210.2 344.1,1211.2 345.4,1214.2C346.7,1217.1 347.9,1223.5 349.4,1228.0C350.8,1232.4 352.8,1238.0 354.3,1240.7C355.8,1243.5 356.8,1244.8 358.2,1244.7C359.7,1244.5 361.7,1241.2 363.1,1239.8C364.6,1238.3 365.8,1235.5 367.1,1235.8C368.4,1236.2 369.7,1238.1 371.0,1241.7C372.3,1245.3 373.8,1253.9 375.0,1257.5C376.1,1261.0 376.8,1263.0 377.9,1263.0C379.1,1263.0 380.5,1259.9 381.9,1257.5C383.2,1255.1 384.5,1250.6 385.8,1248.6C387.1,1246.7 388.2,1245.2 389.7,1245.7C391.2,1246.2 393.0,1248.6 394.6,1251.6C396.3,1254.5 398.1,1260.1 399.6,1263.4C401.0,1266.7 402.4,1269.6 403.5,1271.3C404.7,1272.9 405.3,1274.2 406.5,1273.2C407.6,1272.2 408.9,1268.6 410.4,1265.4C411.9,1262.1 413.8,1256.0 415.3,1253.5C416.8,1251.1 417.8,1251.6 419.3,1250.6C420.7,1249.6 422.8,1248.4 424.2,1247.6C425.6,1246.9 426.6,1245.1 427.7,1246.1C428.9,1247.0 429.8,1250.2 431.1,1253.5C432.3,1256.9 433.9,1263.9 435.0,1266.3C436.1,1268.8 436.8,1269.5 438.0,1268.3C439.1,1267.2 440.7,1261.6 441.9,1259.4C443.0,1257.3 443.9,1255.2 444.8,1255.5C445.8,1255.8 446.6,1258.1 447.8,1261.4C448.9,1264.7 450.4,1272.1 451.7,1275.2C453.0,1278.3 454.2,1280.1 455.7,1280.1C457.1,1280.1 459.1,1275.5 460.6,1275.2C462.1,1274.9 463.2,1277.2 464.5,1278.1C465.8,1279.1 467.2,1281.2 468.5,1280.7C469.8,1280.2 471.3,1276.4 472.4,1275.2C473.5,1274.0 474.2,1272.2 475.4,1273.2C476.5,1274.2 478.0,1278.3 479.3,1281.1C480.6,1283.9 481.6,1287.7 483.2,1290.0C484.9,1292.3 487.3,1293.6 489.1,1294.9C490.9,1296.2 492.6,1298.3 494.1,1297.8C495.5,1297.3 496.7,1295.0 498.0,1291.9C499.3,1288.8 500.8,1282.3 501.9,1279.1C503.1,1276.0 503.7,1273.2 504.9,1273.2C506.0,1273.2 507.5,1277.0 508.8,1279.1C510.1,1281.3 511.3,1285.5 512.8,1286.0C514.2,1286.5 516.2,1281.6 517.7,1282.1C519.2,1282.6 520.3,1286.2 521.6,1289.0C522.9,1291.8 524.6,1296.9 525.6,1298.8C526.5,1300.8 526.5,1301.9 527.5,1300.8C528.5,1299.6 530.1,1295.2 531.5,1291.9C532.8,1288.6 534.1,1281.9 535.4,1281.1C536.7,1280.3 538.0,1284.7 539.3,1287.0C540.6,1289.3 542.0,1294.6 543.3,1294.9C544.6,1295.2 546.1,1290.5 547.2,1289.0C548.4,1287.5 549.0,1284.7 550.2,1286.0C551.3,1287.3 552.8,1293.4 554.1,1296.9C555.4,1300.3 557.0,1304.9 558.0,1306.7C559.0,1308.5 559.0,1309.3 560.0,1307.7C561.0,1306.0 562.6,1300.6 563.9,1296.9C565.2,1293.1 566.7,1287.3 567.9,1285.0C569.0,1282.7 569.5,1282.7 570.8,1283.1C572.1,1283.4 574.1,1285.2 575.7,1287.0C577.4,1288.8 579.2,1291.3 580.7,1293.9C582.1,1296.5 583.5,1300.8 584.6,1302.8C585.8,1304.7 586.7,1305.2 587.6,1305.7C588.5,1306.2 588.9,1307.2 590.0,1305.5C591.1,1303.8 592.6,1298.0 593.9,1295.7C595.2,1293.3 596.4,1291.7 597.9,1291.3C599.4,1291.0 601.2,1292.8 602.8,1293.7C604.4,1294.6 606.2,1295.0 607.7,1296.7C609.2,1298.3 610.5,1301.9 611.7,1303.5C612.8,1305.2 613.5,1307.2 614.6,1306.5C615.8,1305.8 617.4,1303.1 618.5,1299.6C619.7,1296.2 620.5,1289.9 621.5,1285.8C622.5,1281.7 623.6,1277.0 624.4,1275.0C625.3,1273.0 625.6,1272.5 626.4,1273.6C627.2,1274.8 628.4,1278.5 629.4,1281.9C630.4,1285.2 631.3,1291.2 632.3,1293.7C633.3,1296.2 634.1,1296.5 635.3,1296.7C636.4,1296.8 638.1,1293.5 639.2,1294.7C640.4,1295.8 641.0,1299.4 642.2,1303.5C643.3,1307.6 645.0,1315.5 646.1,1319.3C647.3,1323.1 647.9,1325.9 649.1,1326.2C650.2,1326.5 651.8,1322.7 653.0,1321.3C654.1,1319.8 655.0,1317.0 655.9,1317.3C656.9,1317.7 657.7,1319.9 658.9,1323.2C660.0,1326.5 661.5,1333.8 662.8,1337.0C664.1,1340.2 665.5,1342.5 666.8,1342.5C668.1,1342.5 669.2,1339.9 670.7,1337.0C672.2,1334.1 674.0,1329.1 675.6,1325.2C677.3,1321.3 679.1,1316.2 680.6,1313.4C682.0,1310.6 683.2,1308.8 684.5,1308.5C685.8,1308.1 687.3,1310.8 688.4,1311.4C689.6,1312.1 690.2,1313.7 691.4,1312.4C692.5,1311.1 694.0,1306.3 695.3,1303.5C696.6,1300.8 698.1,1297.5 699.3,1295.7C700.4,1293.9 701.2,1292.7 702.2,1292.7C703.2,1292.7 704.2,1294.5 705.2,1295.7C706.1,1296.8 707.1,1299.4 708.1,1299.6C709.1,1299.8 710.1,1297.5 711.1,1296.7C712.0,1295.8 712.9,1294.0 714.0,1294.7C715.2,1295.3 716.6,1298.5 718.0,1300.6C719.3,1302.7 720.7,1306.7 721.9,1307.5C723.0,1308.3 723.7,1307.5 724.8,1305.5C726.0,1303.5 727.6,1298.2 728.8,1295.7C729.9,1293.1 730.6,1291.0 731.7,1290.2C732.9,1289.3 734.5,1291.1 735.7,1290.7C736.8,1290.4 737.6,1289.9 738.6,1287.8C739.6,1285.7 740.6,1280.4 741.6,1278.0C742.6,1275.5 743.5,1273.4 744.5,1273.0C745.5,1272.7 746.5,1272.9 747.5,1276.0C748.5,1279.1 749.4,1285.2 750.4,1291.7C751.4,1298.3 752.2,1309.9 753.4,1315.4C754.5,1320.8 756.0,1321.9 757.3,1324.2C758.6,1326.5 759.9,1326.3 761.3,1329.1C762.6,1331.9 764.0,1337.7 765.2,1340.9C766.3,1344.2 767.2,1347.7 768.1,1348.8C769.1,1350.0 770.1,1350.1 771.1,1347.8C772.1,1345.5 773.1,1339.8 774.1,1335.0C775.0,1330.3 776.0,1322.9 777.0,1319.3C778.0,1315.7 778.8,1313.5 780.0,1313.4C781.1,1313.2 782.7,1318.0 783.9,1318.3C785.0,1318.6 785.9,1318.5 786.9,1315.4C787.8,1312.2 788.8,1304.9 789.8,1299.6C790.8,1294.4 791.8,1287.5 792.8,1283.9C793.7,1280.2 794.7,1278.4 795.7,1278.0C796.7,1277.5 797.5,1278.6 798.7,1280.9C799.8,1283.2 801.5,1289.4 802.6,1291.7C803.7,1294.0 804.4,1295.2 805.6,1294.7C806.7,1294.2 808.3,1289.9 809.5,1288.8C810.6,1287.6 811.5,1287.0 812.4,1287.8C813.4,1288.6 814.2,1290.1 815.4,1293.7C816.5,1297.3 818.0,1304.9 819.3,1309.4C820.6,1314.0 822.1,1319.1 823.3,1321.3C824.4,1323.4 825.1,1323.2 826.2,1322.2C827.4,1321.3 828.8,1318.3 830.2,1315.4C831.5,1312.4 832.9,1306.8 834.1,1304.5C835.2,1302.2 835.9,1301.4 837.0,1301.6C838.2,1301.7 839.7,1304.3 841.0,1305.5C842.3,1306.8 843.6,1309.1 844.9,1309.1C846.2,1309.1 847.5,1306.8 848.9,1305.5C850.2,1304.3 851.5,1301.4 852.8,1301.6C854.1,1301.7 855.4,1304.5 856.7,1306.5C858.0,1308.5 859.5,1312.0 860.7,1313.4C861.8,1314.8 862.3,1315.6 863.6,1315.0C864.9,1314.3 866.4,1312.0 868.5,1309.4C870.7,1306.9 873.9,1301.8 876.3,1299.4C878.6,1297.1 880.6,1294.4 882.6,1295.3C884.5,1296.1 886.1,1301.7 887.8,1304.7C889.5,1307.6 891.3,1312.9 893.0,1313.0C894.8,1313.2 896.9,1307.5 898.3,1305.7C899.7,1304.0 900.2,1302.4 901.4,1302.6C902.6,1302.8 904.2,1305.5 905.6,1306.8C907.0,1308.0 908.2,1311.1 909.8,1309.9C911.3,1308.7 913.4,1302.1 915.0,1299.4C916.6,1296.8 917.6,1294.1 919.2,1293.8C920.8,1293.4 922.7,1296.2 924.4,1297.3C926.2,1298.5 927.9,1300.4 929.7,1300.5C931.4,1300.6 933.2,1298.2 934.9,1298.0C936.6,1297.8 938.4,1298.0 940.1,1299.4C941.9,1300.9 943.6,1303.5 945.4,1306.8C947.1,1310.1 948.9,1316.3 950.6,1319.3C952.3,1322.4 954.3,1325.4 955.8,1325.2C957.4,1325.0 958.6,1320.1 960.0,1318.3C961.4,1316.4 962.6,1314.5 964.2,1314.1C965.8,1313.6 967.9,1315.6 969.4,1315.6C971.0,1315.6 972.2,1314.6 973.6,1314.1C975.0,1313.6 976.4,1311.8 977.8,1312.6C979.2,1313.5 980.6,1315.8 982.0,1319.3C983.4,1322.9 984.8,1330.1 986.2,1334.0C987.6,1337.8 988.8,1340.6 990.4,1342.4C991.9,1344.1 994.4,1342.5 995.6,1344.5C996.8,1346.4 996.7,1352.0 997.7,1353.9C998.8,1355.8 1000.5,1352.7 1001.9,1356.0C1003.3,1359.3 1004.7,1366.6 1006.1,1373.8C1007.5,1380.9 1008.9,1392.4 1010.3,1398.9C1011.7,1405.3 1013.1,1410.6 1014.5,1412.5C1015.8,1414.4 1017.2,1411.6 1018.6,1410.4C1020.0,1409.2 1021.6,1405.9 1022.8,1405.2C1024.0,1404.5 1024.7,1403.8 1026.0,1406.2C1027.2,1408.7 1028.8,1414.4 1030.2,1419.8C1031.5,1425.2 1032.9,1432.9 1034.3,1438.7C1035.7,1444.4 1037.3,1450.7 1038.5,1454.4C1039.7,1458.0 1040.4,1460.6 1041.7,1460.6C1042.9,1460.6 1044.5,1458.4 1045.9,1454.4C1047.3,1450.3 1048.6,1441.1 1050.0,1436.6C1051.4,1432.0 1053.0,1428.4 1054.2,1427.1C1055.5,1425.9 1056.1,1427.5 1057.4,1429.2C1058.6,1431.0 1060.2,1437.1 1061.6,1437.6C1063.0,1438.1 1064.3,1434.5 1065.7,1432.4C1067.1,1430.3 1068.7,1425.8 1069.9,1425.1C1071.2,1424.4 1071.8,1424.2 1073.1,1428.2C1074.3,1432.2 1075.9,1442.7 1077.3,1449.1C1078.7,1455.6 1079.9,1463.4 1081.4,1466.9C1083.0,1470.4 1085.1,1468.7 1086.7,1470.1C1088.2,1471.5 1089.5,1473.2 1090.9,1475.3C1092.3,1477.4 1093.8,1481.1 1095.1,1482.6C1096.3,1484.1 1097.0,1485.3 1098.2,1484.3C1099.4,1483.3 1100.8,1480.6 1102.4,1476.3C1103.9,1472.1 1105.9,1463.4 1107.6,1458.5C1109.4,1453.7 1111.1,1449.8 1112.8,1447.0C1114.6,1444.2 1116.3,1443.0 1118.1,1441.8C1119.8,1440.6 1121.6,1438.5 1123.3,1439.7C1125.1,1440.9 1127.0,1446.4 1128.5,1449.1C1130.1,1451.8 1131.3,1456.2 1132.7,1455.8C1134.1,1455.5 1135.7,1451.6 1136.9,1447.0C1138.1,1442.4 1138.8,1433.4 1140.0,1428.2C1141.2,1423.0 1142.6,1419.3 1144.2,1415.6C1145.8,1412.0 1147.9,1408.5 1149.4,1406.2C1151.0,1403.9 1152.4,1402.9 1153.6,1402.0C1154.8,1401.2 1155.5,1400.1 1156.7,1401.0C1158.0,1401.8 1159.5,1403.9 1160.9,1407.3C1162.3,1410.6 1163.6,1417.6 1165.1,1420.9C1166.7,1424.2 1168.8,1423.8 1170.4,1427.1C1171.9,1430.5 1173.1,1434.3 1174.5,1440.8C1175.9,1447.2 1177.3,1458.9 1178.7,1465.9C1180.1,1472.9 1181.5,1480.0 1182.9,1482.6C1184.3,1485.2 1185.7,1482.4 1187.1,1481.6C1188.5,1480.7 1189.9,1476.9 1191.3,1477.4C1192.7,1477.9 1194.1,1481.6 1195.5,1484.7C1196.9,1487.9 1198.3,1493.6 1199.7,1496.2C1201.1,1498.8 1202.5,1500.9 1203.9,1500.4C1205.2,1499.9 1206.6,1498.5 1208.0,1493.1C1209.4,1487.7 1211.0,1474.9 1212.2,1468.0C1213.4,1461.0 1214.3,1454.7 1215.4,1451.2C1216.4,1447.7 1217.5,1446.5 1218.5,1447.0C1219.6,1447.6 1220.4,1451.0 1221.6,1454.4C1222.9,1457.7 1224.3,1465.5 1225.8,1466.9C1227.4,1468.3 1229.7,1462.9 1231.1,1462.7C1232.5,1462.6 1233.0,1461.9 1234.2,1465.9C1235.4,1469.9 1237.0,1480.0 1238.4,1486.8C1239.8,1493.6 1241.0,1503.4 1242.6,1506.7C1244.2,1510.0 1246.4,1505.8 1247.8,1506.7C1249.2,1507.6 1249.7,1509.0 1251.0,1511.9C1252.2,1514.9 1253.7,1521.5 1255.1,1524.5C1256.5,1527.5 1257.9,1529.6 1259.3,1529.7C1260.7,1529.9 1261.8,1527.6 1263.5,1525.5C1265.3,1523.4 1267.9,1521.2 1269.8,1517.2C1271.7,1513.2 1273.3,1507.2 1275.0,1501.5C1276.8,1495.7 1278.5,1490.0 1280.3,1482.6C1282.0,1475.3 1283.9,1465.5 1285.5,1457.5C1287.1,1449.5 1288.3,1441.8 1289.7,1434.5C1291.1,1427.1 1292.5,1418.2 1293.9,1413.5C1295.3,1408.8 1296.5,1407.7 1298.1,1406.2C1299.6,1404.7 1301.7,1404.6 1303.3,1404.7C1304.9,1404.9 1306.1,1405.4 1307.5,1407.3C1308.9,1409.1 1310.1,1411.4 1311.7,1415.6C1313.2,1419.8 1315.2,1427.3 1316.9,1432.4C1318.6,1437.4 1320.4,1441.5 1322.1,1446.0C1323.9,1450.5 1326.0,1456.6 1327.4,1459.6C1328.8,1462.6 1329.3,1464.3 1330.5,1463.8C1331.7,1463.3 1333.3,1458.5 1334.7,1456.5C1336.1,1454.4 1337.5,1452.1 1338.9,1451.2C1340.3,1450.3 1341.8,1452.6 1343.1,1451.2C1344.3,1449.8 1345.2,1448.1 1346.2,1442.8C1347.3,1437.6 1348.3,1427.8 1349.4,1419.8C1350.4,1411.8 1351.3,1400.6 1352.5,1394.7C1353.7,1388.8 1355.3,1386.3 1356.7,1384.2C1358.1,1382.1 1359.5,1383.9 1360.9,1382.1C1362.3,1380.4 1363.7,1377.9 1365.1,1373.8C1366.4,1369.6 1367.8,1361.0 1369.2,1357.0C1370.6,1353.0 1371.7,1351.1 1373.4,1349.7C1375.2,1348.3 1378.7,1348.8 1379.7,1348.6" fill="none" stroke="#ee0505" stroke-width="2.9" stroke-linejoin="round" stroke-linecap="round"/>
<clipPath id="c3"><rect x="0" y="1590" width="1524" height="330"/></clipPath><path d="M45.7,1736.7 L48.7,1738.7 L51.7,1740.6 L54.7,1741.4 L57.7,1742.2 L60.7,1744.1 L63.7,1747.4 L66.7,1750.3 L69.7,1752.4 L72.7,1753.2 L75.7,1752.7 L78.7,1751.4 L81.7,1748.8 L84.7,1746.6 L87.7,1747.3 L90.7,1750.3 L93.7,1751.9 L96.7,1747.4 L99.7,1741.9 L102.7,1737.4 L105.7,1738.7 L108.7,1744.6 L111.7,1748.4 L114.7,1748.2 L117.7,1746.4 L120.7,1744.0 L123.7,1743.0 L126.7,1744.0 L129.7,1746.0 L132.7,1748.8 L135.7,1754.3 L138.7,1759.6 L141.7,1763.1 L144.7,1761.5 L147.7,1757.7 L150.7,1753.6 L153.7,1750.1 L156.7,1747.3 L159.7,1744.8 L162.7,1745.4 L165.7,1747.8 L168.7,1751.4 L171.7,1753.5 L174.7,1749.7 L177.7,1746.4 L180.7,1743.9 L183.7,1748.4 L186.7,1752.8 L189.7,1756.5 L192.7,1758.9 L195.7,1758.8 L198.7,1757.4 L201.7,1754.9 L204.7,1754.1 L207.7,1753.4 L210.7,1751.3 L213.7,1748.8 L216.7,1747.8 L219.7,1749.6 L222.7,1753.2 L225.7,1756.4 L228.7,1759.3 L231.7,1760.8 L234.7,1762.2 L237.7,1763.2 L240.7,1764.3 L243.7,1764.2 L246.7,1763.7 L249.7,1761.8 L252.7,1760.1 L255.7,1758.7 L258.7,1756.7 L261.7,1752.0 L264.7,1747.3 L267.7,1742.4 L270.7,1738.5 L273.7,1734.6 L276.7,1729.3 L279.7,1727.5 L282.7,1730.0 L285.7,1736.3 L288.7,1745.2 L291.7,1753.8 L294.7,1757.1 L297.7,1756.6 L300.7,1752.8 L303.7,1748.7 L306.7,1744.2 L309.7,1740.1 L312.7,1738.3 L315.7,1737.6 L318.7,1738.3 L321.7,1738.6 L324.7,1738.4 L327.7,1739.8 L330.7,1744.8 L333.7,1754.3 L336.7,1761.5 L339.7,1766.4 L342.7,1763.3 L345.7,1756.5 L348.7,1746.9 L351.7,1744.2 L354.7,1743.1 L357.7,1742.2 L360.7,1740.7 L363.7,1736.1 L366.7,1734.2 L369.7,1734.6 L372.7,1739.3 L375.7,1743.7 L378.7,1747.4 L381.7,1749.0 L384.7,1750.5 L387.7,1752.0 L390.7,1754.4 L393.7,1756.3 L396.7,1756.8 L399.7,1754.4 L402.7,1752.1 L405.7,1750.5 L408.7,1751.8 L411.7,1756.2 L414.7,1761.9 L417.7,1765.1 L420.7,1764.6 L423.7,1758.6 L426.7,1749.7 L429.7,1744.7 L432.7,1743.3 L435.7,1745.6 L438.7,1745.8 L441.7,1743.5 L444.7,1740.7 L447.7,1740.0 L450.7,1741.0 L453.7,1741.3 L456.7,1743.4 L459.7,1741.0 L462.7,1738.1 L465.7,1736.4 L468.7,1735.0 L471.7,1733.9 L474.7,1732.6 L477.7,1733.1 L480.7,1735.6 L483.7,1739.3 L486.7,1743.7 L489.7,1746.1 L492.7,1746.1 L495.7,1746.5 L498.7,1744.4 L501.7,1741.8 L504.7,1739.1 L507.7,1734.7 L510.7,1731.1 L513.7,1729.7 L516.7,1729.9 L519.7,1732.6 L522.7,1736.2 L525.7,1736.0 L528.7,1734.5 L531.7,1734.6 L534.7,1736.1 L537.7,1734.5 L540.7,1729.0 L543.7,1720.6 L546.7,1714.9 L549.7,1712.8 L552.7,1714.8 L555.7,1719.6 L558.7,1722.5 L561.7,1723.6 L564.7,1721.0 L567.7,1715.6 L570.7,1709.8 L573.7,1707.6 L576.7,1707.4 L579.7,1707.6 L582.7,1709.5 L585.7,1713.7 L588.7,1717.2 L591.7,1722.7 L594.7,1727.2 L597.7,1730.4 L600.7,1731.4 L603.7,1727.0 L606.7,1724.3 L609.7,1724.5 L612.7,1726.5 L615.7,1727.5 L618.7,1726.5 L621.7,1723.5 L624.7,1721.4 L627.7,1720.2 L630.7,1719.2 L633.7,1716.4 L636.7,1712.2 L639.7,1709.7 L642.7,1710.2 L645.7,1713.1 L648.7,1716.5 L651.7,1719.7 L654.7,1720.7 L657.7,1721.5 L660.7,1723.8 L663.7,1725.7 L666.7,1727.4 L669.7,1729.3 L672.7,1729.0 L675.7,1729.0 L678.7,1728.7 L681.7,1727.8 L684.7,1726.2 L687.7,1728.3 L690.7,1729.0 L693.7,1732.5 L696.7,1733.0 L699.7,1733.9 L702.7,1734.8 L705.7,1738.2 L708.7,1738.9 L711.7,1739.7 L714.7,1738.5 L717.7,1733.5 L720.7,1727.7 L723.7,1726.3 L726.7,1724.9 L729.7,1723.3 L732.7,1721.2 L735.7,1718.8 L738.7,1718.4 L741.7,1722.3 L744.7,1728.1 L747.7,1730.3 L750.7,1730.5 L753.7,1726.7 L756.7,1724.3 L759.7,1721.6 L762.7,1718.6 L765.7,1717.8 L768.7,1717.9 L771.7,1717.9 L774.7,1718.3 L777.7,1719.8 L780.7,1720.7 L783.7,1718.1 L786.7,1716.5 L789.7,1714.0 L792.7,1712.7 L795.7,1712.5 L798.7,1710.6 L801.7,1705.6 L804.7,1701.1 L807.7,1696.9 L810.7,1691.0 L813.7,1690.0 L816.7,1693.6 L819.7,1694.2 L822.7,1696.4 L825.7,1699.8 L828.7,1704.7 L831.7,1708.8 L834.7,1711.1 L837.7,1713.2 L840.7,1713.4 L843.7,1713.1 L846.7,1716.4 L849.7,1718.1 L852.7,1718.7 L855.7,1714.0 L858.7,1714.2 L861.7,1712.6 L864.7,1715.1 L867.7,1715.5 L870.7,1713.1 L873.7,1707.0 L876.7,1703.7 L879.7,1701.7 L882.7,1701.1 L885.7,1698.3 L888.7,1697.6 L891.7,1696.8 L894.7,1697.6 L897.7,1698.8 L900.7,1703.6 L903.7,1709.8 L906.7,1712.8 L909.7,1716.9 L912.7,1722.8 L915.7,1725.5 L918.7,1730.4 L921.7,1732.4 L924.7,1735.0 L927.7,1732.9 L930.7,1728.1 L933.7,1722.4 L936.7,1722.8 L939.7,1726.0 L942.7,1728.0 L945.7,1726.9 L948.7,1724.8 L951.7,1722.8 L954.7,1723.1 L957.7,1721.3 L960.7,1717.2 L963.7,1715.2 L966.7,1712.1 L969.7,1707.6 L972.7,1704.2 L975.7,1697.2 L978.7,1691.5 L981.7,1686.7 L984.7,1686.4 L987.7,1687.7 L990.7,1688.5 L993.7,1686.0 L996.7,1680.8 L999.7,1674.9 L1002.7,1672.2 L1005.7,1667.2 L1008.7,1666.1 L1011.7,1667.1 L1014.7,1666.4 L1017.7,1663.2 L1020.7,1663.5 L1023.7,1661.9 L1026.7,1665.6 L1029.7,1662.7 L1032.7,1659.4 L1035.7,1652.4 L1038.7,1647.8 L1041.7,1646.3 L1044.7,1646.4 L1047.7,1647.4 L1050.7,1644.3 L1053.7,1643.0 L1056.7,1647.0 L1059.7,1651.8 L1062.7,1654.3 L1065.7,1656.0 L1068.7,1659.7 L1071.7,1661.2 L1074.7,1664.8 L1077.7,1660.7 L1080.7,1658.3 L1083.7,1656.2 L1086.7,1656.9 L1089.7,1659.6 L1092.7,1660.4 L1095.7,1658.6 L1098.7,1652.6 L1101.7,1651.9 L1104.7,1650.3 L1107.7,1652.2 L1110.7,1651.0 L1113.7,1651.0 L1116.7,1650.6 L1119.7,1654.4 L1122.7,1663.4 L1125.7,1673.2 L1128.7,1680.1 L1131.7,1686.9 L1134.7,1692.1 L1137.7,1693.1 L1140.7,1697.3 L1143.7,1696.1 L1146.7,1692.2 L1149.7,1692.0 L1152.7,1693.2 L1155.7,1693.5 L1158.7,1698.9 L1161.7,1705.2 L1164.7,1709.4 L1167.7,1713.5 L1170.7,1715.1 L1173.7,1711.3 L1176.7,1709.6 L1179.7,1708.8 L1182.7,1710.7 L1185.7,1708.3 L1188.7,1706.0 L1191.7,1703.3 L1194.7,1701.7 L1197.7,1701.7 L1200.7,1699.1 L1203.7,1694.5 L1206.7,1692.0 L1209.7,1692.6 L1212.7,1694.2 L1215.7,1700.7 L1218.7,1705.2 L1221.7,1704.8 L1224.7,1702.1 L1227.7,1704.8 L1230.7,1703.5 L1233.7,1701.3 L1236.7,1700.1 L1239.7,1699.3 L1242.7,1704.1 L1245.7,1705.4 L1248.7,1706.4 L1251.7,1705.0 L1254.7,1704.2 L1257.7,1703.3 L1260.7,1704.9 L1263.7,1704.5 L1266.7,1700.7 L1269.7,1695.8 L1272.7,1697.6 L1275.7,1700.1 L1278.7,1701.2 L1281.7,1698.9 L1284.7,1700.6 L1287.7,1701.6 L1290.7,1705.2 L1293.7,1707.8 L1296.7,1712.9 L1299.7,1707.8 L1302.7,1705.3 L1305.7,1701.4 L1308.7,1694.3 L1311.7,1687.2 L1314.7,1681.2 L1317.7,1679.2 L1320.7,1677.0 L1323.7,1674.1 L1326.7,1669.3 L1329.7,1666.0 L1332.7,1664.0 L1335.7,1666.3 L1338.7,1672.3 L1341.7,1679.5 L1344.7,1680.7 L1347.7,1676.4 L1350.7,1671.1 L1353.7,1673.9 L1356.7,1676.1 L1359.7,1679.8 L1362.7,1681.6 L1365.7,1684.6 L1368.7,1685.4 L1371.7,1688.1 L1374.7,1684.8 L1377.7,1684.0 L1379.2,1686.5 L1379.2,1774.1 L1377.7,1775.7 L1374.7,1776.5 L1371.7,1775.3 L1368.7,1773.4 L1365.7,1772.7 L1362.7,1770.5 L1359.7,1769.4 L1356.7,1765.8 L1353.7,1762.3 L1350.7,1760.8 L1347.7,1763.2 L1344.7,1766.7 L1341.7,1767.9 L1338.7,1762.7 L1335.7,1755.9 L1332.7,1750.5 L1329.7,1751.9 L1326.7,1755.0 L1323.7,1761.5 L1320.7,1763.9 L1317.7,1765.6 L1314.7,1767.1 L1311.7,1772.5 L1308.7,1778.5 L1305.7,1781.8 L1302.7,1787.7 L1299.7,1790.4 L1296.7,1792.1 L1293.7,1790.0 L1290.7,1787.1 L1287.7,1782.6 L1284.7,1778.9 L1281.7,1778.8 L1278.7,1782.8 L1275.7,1779.3 L1272.7,1776.3 L1269.7,1775.8 L1266.7,1778.1 L1263.7,1782.8 L1260.7,1785.7 L1257.7,1781.1 L1254.7,1782.1 L1251.7,1784.2 L1248.7,1785.4 L1245.7,1782.8 L1242.7,1779.9 L1239.7,1776.8 L1236.7,1777.7 L1233.7,1776.6 L1230.7,1780.7 L1227.7,1779.1 L1224.7,1778.5 L1221.7,1777.6 L1218.7,1779.7 L1215.7,1774.8 L1212.7,1769.9 L1209.7,1765.3 L1206.7,1766.7 L1203.7,1768.4 L1200.7,1773.1 L1197.7,1775.1 L1194.7,1776.2 L1191.7,1776.9 L1188.7,1780.0 L1185.7,1785.1 L1182.7,1784.7 L1179.7,1785.4 L1176.7,1785.8 L1173.7,1787.8 L1170.7,1790.2 L1167.7,1788.1 L1164.7,1785.2 L1161.7,1779.7 L1158.7,1774.8 L1155.7,1770.5 L1152.7,1769.7 L1149.7,1769.7 L1146.7,1770.9 L1143.7,1772.0 L1140.7,1775.1 L1137.7,1772.3 L1134.7,1767.3 L1131.7,1764.6 L1128.7,1757.5 L1125.7,1750.0 L1122.7,1743.1 L1119.7,1732.5 L1116.7,1729.2 L1113.7,1728.6 L1110.7,1728.7 L1107.7,1729.1 L1104.7,1728.7 L1101.7,1729.8 L1098.7,1732.1 L1095.7,1736.9 L1092.7,1740.8 L1089.7,1737.4 L1086.7,1737.0 L1083.7,1736.1 L1080.7,1739.4 L1077.7,1742.0 L1074.7,1743.8 L1071.7,1743.7 L1068.7,1742.4 L1065.7,1736.8 L1062.7,1733.7 L1059.7,1732.4 L1056.7,1727.1 L1053.7,1724.8 L1050.7,1725.1 L1047.7,1727.6 L1044.7,1728.5 L1041.7,1729.4 L1038.7,1730.7 L1035.7,1734.5 L1032.7,1740.0 L1029.7,1743.3 L1026.7,1744.9 L1023.7,1741.0 L1020.7,1739.6 L1017.7,1741.4 L1014.7,1744.1 L1011.7,1744.9 L1008.7,1743.8 L1005.7,1745.7 L1002.7,1749.5 L999.7,1753.6 L996.7,1758.3 L993.7,1763.2 L990.7,1764.4 L987.7,1762.5 L984.7,1762.1 L981.7,1762.4 L978.7,1766.9 L975.7,1772.6 L972.7,1778.1 L969.7,1782.2 L966.7,1783.7 L963.7,1786.6 L960.7,1788.9 L957.7,1791.8 L954.7,1794.1 L951.7,1795.7 L948.7,1796.6 L945.7,1798.6 L942.7,1799.3 L939.7,1796.6 L936.7,1794.3 L933.7,1791.3 L930.7,1796.2 L927.7,1800.2 L924.7,1802.5 L921.7,1801.5 L918.7,1799.3 L915.7,1793.7 L912.7,1790.5 L909.7,1786.3 L906.7,1782.1 L903.7,1777.8 L900.7,1772.7 L897.7,1769.7 L894.7,1767.1 L891.7,1767.3 L888.7,1768.9 L885.7,1767.8 L882.7,1769.9 L879.7,1769.5 L876.7,1773.3 L873.7,1775.7 L870.7,1781.3 L867.7,1782.4 L864.7,1782.4 L861.7,1781.4 L858.7,1783.0 L855.7,1781.9 L852.7,1785.7 L849.7,1785.9 L846.7,1783.1 L843.7,1781.1 L840.7,1781.4 L837.7,1779.5 L834.7,1780.0 L831.7,1775.1 L828.7,1770.7 L825.7,1766.7 L822.7,1762.8 L819.7,1761.4 L816.7,1759.8 L813.7,1756.5 L810.7,1758.4 L807.7,1762.8 L804.7,1768.0 L801.7,1772.2 L798.7,1773.8 L795.7,1776.5 L792.7,1779.0 L789.7,1778.1 L786.7,1781.7 L783.7,1784.1 L780.7,1785.2 L777.7,1786.5 L774.7,1783.7 L771.7,1781.1 L768.7,1781.7 L765.7,1782.3 L762.7,1782.2 L759.7,1784.4 L756.7,1786.7 L753.7,1791.8 L750.7,1794.3 L747.7,1795.6 L744.7,1793.0 L741.7,1788.8 L738.7,1782.7 L735.7,1782.7 L732.7,1784.3 L729.7,1783.7 L726.7,1786.6 L723.7,1787.3 L720.7,1789.1 L717.7,1792.5 L714.7,1796.1 L711.7,1797.6 L708.7,1798.4 L705.7,1795.7 L702.7,1793.6 L699.7,1789.8 L696.7,1790.3 L693.7,1788.0 L690.7,1784.8 L687.7,1782.8 L684.7,1780.0 L681.7,1780.8 L678.7,1780.7 L675.7,1782.2 L672.7,1781.0 L669.7,1779.3 L666.7,1777.7 L663.7,1775.0 L660.7,1773.3 L657.7,1771.8 L654.7,1769.9 L651.7,1767.1 L648.7,1763.6 L645.7,1760.3 L642.7,1756.3 L639.7,1756.1 L636.7,1757.7 L633.7,1760.3 L630.7,1763.7 L627.7,1764.1 L624.7,1764.7 L621.7,1766.2 L618.7,1768.6 L615.7,1769.7 L612.7,1766.8 L609.7,1763.2 L606.7,1763.0 L603.7,1765.2 L600.7,1768.7 L597.7,1767.4 L594.7,1765.1 L591.7,1759.6 L588.7,1754.0 L585.7,1749.7 L582.7,1746.8 L579.7,1744.4 L576.7,1742.7 L573.7,1742.8 L570.7,1746.5 L567.7,1749.7 L564.7,1754.8 L561.7,1758.5 L558.7,1757.5 L555.7,1753.3 L552.7,1749.1 L549.7,1745.9 L546.7,1749.5 L543.7,1754.3 L540.7,1762.8 L537.7,1767.6 L534.7,1769.1 L531.7,1768.1 L528.7,1767.5 L525.7,1768.0 L522.7,1768.6 L519.7,1765.1 L516.7,1761.7 L513.7,1761.4 L510.7,1762.3 L507.7,1766.6 L504.7,1770.8 L501.7,1773.7 L498.7,1775.0 L495.7,1777.2 L492.7,1776.9 L489.7,1776.1 L486.7,1774.5 L483.7,1769.5 L480.7,1765.7 L477.7,1763.9 L474.7,1762.9 L471.7,1763.4 L468.7,1764.5 L465.7,1766.4 L462.7,1768.1 L459.7,1770.4 L456.7,1773.1 L453.7,1771.3 L450.7,1770.2 L447.7,1769.4 L444.7,1770.9 L441.7,1774.1 L438.7,1775.6 L435.7,1775.7 L432.7,1772.9 L429.7,1774.7 L426.7,1779.9 L423.7,1788.6 L420.7,1795.5 L417.7,1795.3 L414.7,1791.5 L411.7,1785.5 L408.7,1780.6 L405.7,1779.8 L402.7,1780.7 L399.7,1783.4 L396.7,1784.2 L393.7,1784.2 L390.7,1782.5 L387.7,1779.1 L384.7,1777.0 L381.7,1776.7 L378.7,1774.5 L375.7,1770.6 L372.7,1764.7 L369.7,1761.4 L366.7,1759.7 L363.7,1761.2 L360.7,1765.1 L357.7,1766.9 L354.7,1765.8 L351.7,1766.7 L348.7,1769.7 L345.7,1778.1 L342.7,1784.6 L339.7,1787.3 L336.7,1782.5 L333.7,1774.8 L330.7,1764.4 L327.7,1759.0 L324.7,1756.8 L321.7,1756.5 L318.7,1755.8 L315.7,1754.3 L312.7,1754.7 L309.7,1756.0 L306.7,1758.8 L303.7,1761.4 L300.7,1763.8 L297.7,1766.3 L294.7,1765.6 L291.7,1760.8 L288.7,1751.2 L285.7,1742.3 L282.7,1735.9 L279.7,1733.5 L276.7,1735.4 L273.7,1740.7 L270.7,1744.7 L267.7,1748.3 L264.7,1753.1 L261.7,1757.9 L258.7,1762.9 L255.7,1764.6 L252.7,1766.1 L249.7,1768.0 L246.7,1769.7 L243.7,1770.4 L240.7,1770.4 L237.7,1769.4 L234.7,1768.3 L231.7,1766.8 L228.7,1765.3 L225.7,1762.2 L222.7,1759.4 L219.7,1755.6 L216.7,1754.0 L213.7,1754.8 L210.7,1757.3 L207.7,1759.5 L204.7,1760.0 L201.7,1760.7 L198.7,1763.2 L195.7,1764.7 L192.7,1765.0 L189.7,1762.4 L186.7,1758.9 L183.7,1754.3 L180.7,1749.8 L177.7,1752.4 L174.7,1755.8 L171.7,1759.4 L168.7,1757.5 L165.7,1753.8 L162.7,1751.3 L159.7,1750.7 L156.7,1753.2 L153.7,1756.0 L150.7,1759.6 L147.7,1763.8 L144.7,1767.5 L141.7,1768.9 L138.7,1765.6 L135.7,1760.3 L132.7,1754.9 L129.7,1752.0 L126.7,1749.9 L123.7,1748.9 L120.7,1750.0 L117.7,1752.4 L114.7,1754.3 L111.7,1754.4 L108.7,1750.5 L105.7,1744.5 L102.7,1743.5 L99.7,1747.8 L96.7,1753.4 L93.7,1758.0 L90.7,1756.3 L87.7,1753.1 L84.7,1752.5 L81.7,1755.0 L78.7,1757.3 L75.7,1758.8 L72.7,1759.2 L69.7,1758.3 L66.7,1756.4 L63.7,1753.4 L60.7,1750.2 L57.7,1748.1 L54.7,1747.4 L51.7,1746.8 L48.7,1744.7 L45.7,1742.7Z" fill="#0000ff" fill-opacity="0.2"/>
<path d="M45.7,1739.7C46.7,1740.4 49.4,1742.7 51.7,1743.7C54.0,1744.6 57.2,1744.2 59.5,1745.6C61.8,1747.1 63.5,1750.7 65.4,1752.5C67.4,1754.3 69.4,1756.0 71.3,1756.5C73.3,1756.9 75.4,1756.3 77.2,1755.5C79.0,1754.7 80.7,1752.7 82.2,1751.5C83.6,1750.4 84.8,1748.4 86.1,1748.6C87.4,1748.7 88.9,1751.3 90.0,1752.5C91.2,1753.8 91.7,1756.7 93.0,1756.1C94.3,1755.4 96.4,1751.1 97.9,1748.6C99.4,1746.0 100.7,1742.2 101.9,1740.7C103.0,1739.2 103.7,1738.6 104.8,1739.7C106.0,1740.9 107.4,1745.5 108.7,1747.6C110.1,1749.7 111.2,1752.2 112.7,1752.5C114.2,1752.8 116.0,1750.7 117.6,1749.6C119.2,1748.4 120.7,1746.0 122.5,1745.6C124.3,1745.3 126.6,1746.5 128.4,1747.6C130.2,1748.7 131.9,1750.4 133.3,1752.5C134.8,1754.7 136.0,1758.1 137.3,1760.4C138.6,1762.7 139.9,1765.6 141.2,1766.3C142.5,1767.0 143.7,1765.8 145.2,1764.3C146.6,1762.9 148.4,1759.6 150.1,1757.4C151.7,1755.3 153.4,1753.2 155.0,1751.5C156.6,1749.9 158.4,1748.1 159.9,1747.6C161.4,1747.1 162.4,1747.4 163.9,1748.6C165.3,1749.7 167.5,1753.2 168.8,1754.5C170.1,1755.8 170.4,1757.1 171.7,1756.5C173.0,1755.8 175.2,1752.2 176.7,1750.6C178.1,1748.9 179.3,1746.3 180.6,1746.6C181.9,1746.9 183.2,1750.6 184.5,1752.5C185.8,1754.5 187.0,1756.8 188.5,1758.4C189.9,1760.1 191.9,1761.9 193.4,1762.4C194.9,1762.9 195.8,1762.2 197.3,1761.4C198.8,1760.6 200.4,1758.3 202.2,1757.4C204.0,1756.6 206.2,1757.4 208.1,1756.5C210.1,1755.5 212.4,1752.5 214.1,1751.5C215.7,1750.6 216.5,1749.7 218.0,1750.6C219.5,1751.4 221.1,1754.5 222.9,1756.5C224.7,1758.4 226.9,1760.9 228.8,1762.4C230.8,1763.8 232.8,1764.5 234.7,1765.3C236.7,1766.1 238.8,1767.0 240.6,1767.3C242.4,1767.6 243.6,1767.9 245.6,1767.3C247.5,1766.6 250.3,1764.5 252.4,1763.3C254.6,1762.2 256.5,1762.2 258.3,1760.4C260.2,1758.6 261.6,1755.1 263.3,1752.5C264.9,1749.9 266.5,1746.9 268.2,1744.6C269.8,1742.3 271.6,1740.9 273.1,1738.7C274.6,1736.6 275.7,1733.3 277.0,1731.9C278.4,1730.4 279.7,1729.1 281.0,1729.9C282.3,1730.7 283.6,1733.7 284.9,1736.8C286.2,1739.9 287.5,1744.6 288.9,1748.6C290.2,1752.5 291.5,1758.1 292.8,1760.4C294.1,1762.7 295.3,1762.9 296.7,1762.4C298.2,1761.9 299.8,1759.4 301.7,1757.4C303.5,1755.5 306.2,1752.2 307.6,1750.6C309.0,1748.9 308.8,1748.4 310.0,1747.6C311.2,1746.8 313.1,1745.6 314.9,1745.6C316.7,1745.6 318.9,1747.3 320.8,1747.6C322.8,1747.9 325.1,1746.5 326.7,1747.6C328.4,1748.7 329.4,1751.2 330.7,1754.5C332.0,1757.8 333.3,1763.7 334.6,1767.3C335.9,1770.9 337.4,1774.5 338.5,1776.1C339.7,1777.8 340.3,1778.4 341.5,1777.1C342.6,1775.8 344.1,1771.7 345.4,1768.3C346.7,1764.8 347.9,1758.8 349.4,1756.5C350.8,1754.2 352.7,1754.8 354.3,1754.5C355.9,1754.2 357.6,1755.5 359.2,1754.5C360.9,1753.5 362.7,1750.0 364.1,1748.6C365.6,1747.2 366.8,1745.9 368.1,1746.2C369.4,1746.5 370.5,1748.4 372.0,1750.6C373.5,1752.7 375.5,1757.4 376.9,1759.4C378.4,1761.4 379.4,1761.5 380.9,1762.4C382.3,1763.2 384.1,1763.3 385.8,1764.3C387.4,1765.3 389.1,1767.1 390.7,1768.3C392.3,1769.4 394.0,1771.2 395.6,1771.2C397.3,1771.2 398.9,1769.3 400.6,1768.3C402.2,1767.3 404.0,1765.6 405.5,1765.3C406.9,1765.0 408.1,1764.8 409.4,1766.3C410.7,1767.8 412.0,1771.9 413.3,1774.2C414.7,1776.5 416.1,1778.9 417.3,1780.1C418.4,1781.2 419.1,1782.4 420.2,1781.1C421.4,1779.8 422.9,1775.5 424.2,1772.2C425.5,1768.9 426.8,1763.8 428.1,1761.4C429.4,1758.9 430.7,1757.6 432.0,1757.4C433.4,1757.3 434.7,1759.9 436.0,1760.4C437.3,1760.9 438.6,1761.0 439.9,1760.4C441.2,1759.7 442.4,1757.4 443.9,1756.5C445.3,1755.5 447.3,1754.5 448.8,1754.5C450.3,1754.5 451.4,1755.9 452.7,1756.5C454.0,1757.0 455.2,1758.4 456.7,1758.0C458.1,1757.7 459.9,1755.7 461.6,1754.5C463.2,1753.3 464.9,1751.9 466.5,1750.9C468.1,1750.0 469.8,1749.1 471.4,1748.6C473.1,1748.0 474.7,1747.3 476.3,1747.6C478.0,1747.9 479.6,1748.7 481.3,1750.6C482.9,1752.4 484.5,1756.5 486.2,1758.4C487.8,1760.4 489.5,1761.9 491.1,1762.4C492.7,1762.9 494.4,1762.0 496.0,1761.4C497.7,1760.7 499.3,1759.7 500.9,1758.4C502.6,1757.1 504.4,1755.3 505.9,1753.5C507.3,1751.7 508.3,1749.1 509.8,1747.6C511.3,1746.1 513.2,1744.6 514.7,1744.6C516.2,1744.6 517.3,1746.3 518.7,1747.6C520.0,1748.9 521.1,1751.9 522.6,1752.5C524.1,1753.2 525.9,1751.7 527.5,1751.5C529.2,1751.4 531.0,1751.4 532.4,1751.5C533.9,1751.7 535.1,1753.3 536.4,1752.5C537.7,1751.7 538.8,1749.7 540.3,1746.6C541.8,1743.5 543.8,1736.8 545.2,1733.8C546.7,1730.9 547.9,1729.2 549.2,1728.9C550.5,1728.6 551.8,1730.2 553.1,1731.9C554.4,1733.5 555.7,1737.1 557.0,1738.7C558.4,1740.4 559.7,1741.9 561.0,1741.7C562.3,1741.5 563.4,1739.9 564.9,1737.8C566.4,1735.6 568.2,1731.2 569.8,1728.9C571.5,1726.6 573.1,1724.5 574.8,1724.0C576.4,1723.5 578.0,1725.0 579.7,1725.9C581.3,1726.9 583.0,1728.1 584.6,1729.9C586.2,1731.7 587.8,1734.0 589.5,1736.8C591.2,1739.5 593.2,1743.9 594.9,1746.3C596.6,1748.7 598.4,1751.2 599.8,1751.2C601.3,1751.2 602.5,1747.8 603.8,1746.3C605.1,1744.8 606.4,1742.5 607.7,1742.4C609.0,1742.2 610.2,1744.2 611.7,1745.3C613.1,1746.5 614.9,1749.3 616.6,1749.3C618.2,1749.3 620.0,1746.5 621.5,1745.3C623.0,1744.2 624.0,1742.9 625.4,1742.4C626.9,1741.8 628.5,1743.1 630.4,1742.0C632.2,1740.8 634.5,1737.0 636.3,1735.5C638.1,1733.9 639.5,1732.4 641.2,1732.5C642.8,1732.7 644.5,1734.8 646.1,1736.5C647.7,1738.1 649.2,1740.7 651.0,1742.4C652.8,1744.0 655.0,1745.2 656.9,1746.3C658.9,1747.4 660.9,1747.9 662.8,1749.3C664.8,1750.6 666.8,1753.2 668.7,1754.2C670.7,1755.2 672.8,1755.0 674.6,1755.2C676.5,1755.3 677.8,1755.4 679.6,1755.2C681.4,1754.9 683.7,1753.5 685.5,1753.8C687.3,1754.1 688.8,1755.9 690.4,1757.1C692.0,1758.3 693.5,1760.1 695.3,1761.1C697.1,1762.0 699.4,1762.0 701.2,1763.0C703.0,1764.0 704.5,1765.8 706.1,1767.0C707.8,1768.1 709.4,1770.1 711.1,1769.9C712.7,1769.8 714.3,1768.0 716.0,1766.0C717.6,1764.0 719.3,1759.9 720.9,1758.1C722.5,1756.3 724.2,1756.0 725.8,1755.2C727.5,1754.3 729.1,1753.9 730.7,1753.2C732.4,1752.4 734.2,1751.0 735.7,1750.6C737.1,1750.3 738.3,1749.8 739.6,1751.2C740.9,1752.6 742.1,1757.0 743.5,1759.1C745.0,1761.2 746.8,1764.0 748.5,1764.0C750.1,1764.0 751.7,1760.7 753.4,1759.1C755.0,1757.5 756.7,1755.6 758.3,1754.2C759.9,1752.7 761.6,1751.1 763.2,1750.2C764.9,1749.4 766.5,1749.3 768.1,1749.3C769.8,1749.3 771.4,1749.6 773.1,1750.2C774.7,1750.9 776.4,1753.0 778.0,1753.2C779.6,1753.4 781.3,1752.2 782.9,1751.2C784.6,1750.2 786.2,1748.3 787.8,1747.3C789.5,1746.3 791.1,1746.0 792.8,1745.3C794.4,1744.7 796.0,1744.5 797.7,1743.3C799.3,1742.2 801.1,1740.6 802.6,1738.4C804.1,1736.3 805.2,1732.8 806.5,1730.6C807.8,1728.3 809.2,1725.8 810.5,1724.6C811.8,1723.5 813.1,1723.3 814.4,1723.7C815.7,1724.0 816.9,1725.5 818.3,1726.6C819.8,1727.8 821.6,1728.9 823.3,1730.6C824.9,1732.2 826.5,1734.2 828.2,1736.5C829.8,1738.8 831.5,1742.5 833.1,1744.3C834.8,1746.1 836.4,1746.8 838.0,1747.3C839.7,1747.8 841.3,1746.8 843.0,1747.3C844.6,1747.8 846.4,1749.4 847.9,1750.2C849.4,1751.1 850.3,1752.5 851.8,1752.2C853.3,1751.9 855.1,1749.3 856.7,1748.3C858.4,1747.3 860.0,1746.1 861.7,1746.3C863.3,1746.5 865.2,1749.1 866.6,1749.3C868.0,1749.4 868.6,1749.1 870.0,1747.5C871.4,1745.9 873.3,1741.6 874.9,1739.6C876.6,1737.6 877.9,1736.7 879.8,1735.7C881.8,1734.6 884.6,1734.0 886.7,1733.3C888.9,1732.6 891.0,1731.4 892.6,1731.3C894.3,1731.2 895.1,1731.3 896.6,1732.7C898.1,1734.1 899.9,1737.1 901.5,1739.6C903.1,1742.1 904.6,1744.9 906.4,1747.5C908.2,1750.1 910.4,1752.7 912.3,1755.4C914.3,1758.0 916.6,1761.3 918.2,1763.2C919.9,1765.2 920.9,1766.3 922.2,1767.2C923.5,1768.0 924.8,1768.8 926.1,1768.1C927.4,1767.5 928.7,1765.0 930.0,1763.2C931.4,1761.4 932.7,1758.0 934.0,1757.3C935.3,1756.7 936.4,1758.3 937.9,1759.3C939.4,1760.3 941.2,1762.9 942.8,1763.2C944.5,1763.6 946.1,1761.9 947.8,1761.3C949.4,1760.6 951.0,1760.1 952.7,1759.3C954.3,1758.5 956.0,1757.5 957.6,1756.3C959.2,1755.2 960.9,1753.9 962.5,1752.4C964.2,1750.9 965.8,1749.3 967.4,1747.5C969.1,1745.7 970.7,1744.2 972.4,1741.6C974.0,1739.0 975.6,1734.7 977.3,1731.7C978.9,1728.8 980.6,1725.2 982.2,1723.9C983.8,1722.5 985.6,1723.4 987.1,1723.9C988.6,1724.4 989.8,1727.0 991.1,1726.8C992.4,1726.6 993.5,1725.0 995.0,1722.9C996.5,1720.7 998.3,1716.6 999.9,1714.0C1001.6,1711.4 1003.4,1708.4 1004.8,1707.1C1006.3,1705.8 1007.5,1706.1 1008.8,1706.1C1010.1,1706.1 1011.2,1707.8 1012.7,1707.1C1014.2,1706.5 1016.0,1703.2 1017.6,1702.2C1019.3,1701.2 1020.9,1700.7 1022.6,1701.2C1024.2,1701.7 1025.8,1705.2 1027.5,1705.2C1029.1,1705.2 1030.8,1703.7 1032.4,1701.2C1034.0,1698.8 1035.8,1692.7 1037.3,1690.4C1038.8,1688.1 1039.9,1687.8 1041.3,1687.4C1042.6,1687.0 1043.9,1688.2 1045.2,1688.0C1046.5,1687.9 1047.7,1687.1 1049.1,1686.5C1050.6,1685.8 1052.6,1683.6 1054.1,1684.1C1055.5,1684.6 1056.5,1687.7 1058.0,1689.4C1059.5,1691.1 1061.3,1692.5 1062.9,1694.3C1064.6,1696.1 1066.0,1698.6 1067.8,1700.2C1069.6,1701.9 1072.1,1703.8 1073.7,1704.2C1075.4,1704.5 1076.2,1703.5 1077.7,1702.2C1079.2,1700.9 1081.0,1697.1 1082.6,1696.3C1084.2,1695.5 1086.0,1696.6 1087.5,1697.3C1089.0,1697.9 1090.0,1700.2 1091.5,1700.2C1092.9,1700.2 1094.9,1698.8 1096.4,1697.3C1097.9,1695.8 1099.0,1692.7 1100.3,1691.4C1101.6,1690.1 1102.8,1689.4 1104.3,1689.4C1105.7,1689.4 1107.5,1691.5 1109.2,1691.4C1110.8,1691.2 1112.5,1688.3 1114.1,1688.4C1115.7,1688.6 1117.5,1689.7 1119.0,1692.4C1120.5,1695.0 1121.6,1700.2 1123.0,1704.2C1124.3,1708.1 1125.4,1712.4 1126.9,1716.0C1128.4,1719.6 1130.2,1723.2 1131.8,1725.8C1133.5,1728.5 1135.4,1730.1 1136.7,1731.7C1138.1,1733.4 1138.5,1735.7 1140.0,1735.7C1141.5,1735.7 1143.9,1732.7 1145.9,1731.7C1147.9,1730.8 1150.0,1730.0 1151.8,1730.2C1153.6,1730.3 1155.3,1731.1 1156.7,1732.7C1158.2,1734.3 1159.2,1736.8 1160.7,1739.6C1162.1,1742.4 1164.1,1747.2 1165.6,1749.4C1167.1,1751.7 1168.1,1753.4 1169.5,1753.4C1171.0,1753.4 1172.8,1750.4 1174.4,1749.4C1176.1,1748.5 1177.7,1747.6 1179.4,1747.5C1181.0,1747.3 1182.7,1749.3 1184.3,1748.5C1185.9,1747.6 1187.6,1744.4 1189.2,1742.6C1190.9,1740.8 1192.5,1738.2 1194.1,1737.6C1195.8,1737.1 1197.6,1739.9 1199.1,1739.2C1200.5,1738.6 1201.5,1735.6 1203.0,1733.7C1204.5,1731.8 1206.4,1728.3 1207.9,1727.8C1209.4,1727.3 1210.5,1728.9 1211.9,1730.7C1213.2,1732.6 1214.5,1736.8 1215.8,1738.6C1217.1,1740.5 1218.2,1741.6 1219.7,1742.0C1221.2,1742.3 1222.8,1740.7 1224.6,1740.6C1226.5,1740.5 1228.7,1741.9 1230.6,1741.6C1232.4,1741.2 1234.0,1739.1 1235.5,1738.6C1236.9,1738.1 1238.1,1737.8 1239.4,1738.6C1240.7,1739.4 1242.0,1742.2 1243.3,1743.5C1244.7,1744.9 1245.8,1746.5 1247.3,1746.5C1248.8,1746.5 1250.7,1744.2 1252.2,1743.5C1253.7,1742.9 1254.7,1742.2 1256.1,1742.6C1257.6,1742.9 1259.4,1745.8 1261.1,1745.5C1262.7,1745.2 1264.5,1742.3 1266.0,1740.6C1267.5,1738.9 1268.6,1735.8 1269.9,1735.3C1271.2,1734.8 1272.4,1736.6 1273.9,1737.6C1275.3,1738.7 1277.1,1741.3 1278.8,1741.6C1280.4,1741.8 1282.2,1739.3 1283.7,1739.2C1285.2,1739.1 1286.2,1739.6 1287.6,1741.2C1289.1,1742.7 1291.1,1746.6 1292.6,1748.5C1294.0,1750.3 1295.0,1752.6 1296.5,1752.4C1298.0,1752.2 1299.8,1749.4 1301.4,1747.5C1303.1,1745.5 1304.7,1743.2 1306.3,1740.6C1308.0,1738.0 1309.6,1734.8 1311.3,1731.7C1312.9,1728.6 1314.5,1723.9 1316.2,1721.9C1317.8,1719.9 1319.5,1721.2 1321.1,1719.9C1322.7,1718.6 1324.5,1716.0 1326.0,1714.0C1327.5,1712.0 1328.6,1709.2 1330.0,1708.1C1331.3,1707.1 1332.6,1706.4 1333.9,1707.7C1335.2,1709.0 1336.5,1713.1 1337.8,1716.0C1339.1,1718.8 1340.5,1723.7 1341.8,1724.8C1343.1,1726.0 1344.2,1724.2 1345.7,1722.9C1347.2,1721.6 1349.0,1717.3 1350.6,1717.0C1352.3,1716.6 1353.7,1719.4 1355.6,1720.9C1357.4,1722.4 1359.7,1724.5 1361.5,1725.8C1363.3,1727.1 1364.7,1727.7 1366.4,1728.8C1368.0,1729.8 1369.8,1731.8 1371.3,1732.1C1372.8,1732.5 1373.9,1731.1 1375.2,1730.7C1376.5,1730.4 1378.5,1729.9 1379.2,1729.8" fill="none" stroke="#0a0ad8" stroke-width="3.3" stroke-linejoin="round" stroke-linecap="round"/>
<path d="M44.8,1699.4 L47.8,1705.3 L50.8,1717.2 L53.8,1728.9 L56.8,1733.7 L59.8,1734.4 L62.8,1735.9 L65.8,1737.8 L68.8,1738.1 L71.8,1728.5 L74.8,1714.9 L77.8,1701.8 L80.8,1698.3 L83.8,1703.3 L86.8,1716.1 L89.8,1725.3 L92.8,1730.7 L95.8,1733.6 L98.8,1737.2 L101.8,1741.4 L104.8,1740.0 L107.8,1733.5 L110.8,1723.7 L113.8,1721.1 L116.8,1727.0 L119.8,1736.7 L122.8,1740.9 L125.8,1743.3 L128.8,1744.3 L131.8,1746.9 L134.8,1751.6 L137.8,1756.8 L140.8,1757.4 L143.8,1754.6 L146.8,1752.7 L149.8,1754.7 L152.8,1761.0 L155.8,1764.5 L158.8,1761.9 L161.8,1750.7 L164.8,1736.1 L167.8,1721.3 L170.8,1714.4 L173.8,1714.3 L176.8,1719.0 L179.8,1723.4 L182.8,1728.7 L185.8,1735.3 L188.8,1744.3 L191.8,1755.8 L194.8,1766.9 L197.8,1772.9 L200.8,1773.0 L203.8,1769.2 L206.8,1762.2 L209.8,1756.3 L212.8,1756.0 L215.8,1761.4 L218.8,1768.1 L221.8,1773.1 L224.8,1774.2 L227.8,1771.3 L230.8,1766.5 L233.8,1762.8 L236.8,1759.2 L239.8,1757.8 L242.8,1756.4 L245.8,1758.9 L248.8,1760.9 L251.8,1762.0 L254.8,1759.7 L257.8,1760.3 L260.8,1764.3 L263.8,1772.8 L266.8,1779.8 L269.8,1779.8 L272.8,1775.4 L275.8,1769.6 L278.8,1767.4 L281.8,1766.1 L284.8,1764.3 L287.8,1761.2 L290.8,1755.5 L293.8,1751.5 L296.8,1756.0 L299.8,1761.8 L302.8,1763.2 L305.8,1757.5 L308.8,1748.3 L311.8,1743.7 L314.8,1739.5 L317.8,1736.7 L320.8,1734.7 L323.8,1726.5 L326.8,1719.0 L329.8,1713.7 L332.8,1714.8 L335.8,1718.9 L338.8,1726.2 L341.8,1731.5 L344.8,1732.5 L347.8,1732.5 L350.8,1732.3 L353.8,1740.7 L356.8,1749.3 L359.8,1756.6 L362.8,1756.1 L365.8,1750.7 L368.8,1748.8 L371.8,1752.2 L374.8,1758.2 L377.8,1763.7 L380.8,1767.8 L383.8,1766.2 L386.8,1761.8 L389.8,1752.7 L392.8,1748.2 L395.8,1747.7 L398.8,1753.9 L401.8,1759.4 L404.8,1763.9 L407.8,1765.4 L410.8,1769.4 L413.8,1771.9 L416.8,1771.0 L419.8,1767.6 L422.8,1757.4 L425.8,1750.8 L428.8,1748.5 L431.8,1751.6 L434.8,1751.9 L437.8,1741.7 L440.8,1729.5 L443.8,1720.3 L446.8,1720.5 L449.8,1732.1 L452.8,1750.0 L455.8,1759.4 L458.8,1763.9 L461.8,1765.8 L464.8,1765.1 L467.8,1762.6 L470.8,1755.4 L473.8,1745.8 L476.8,1741.6 L479.8,1743.1 L482.8,1747.9 L485.8,1755.4 L488.8,1763.9 L491.8,1770.1 L494.8,1775.6 L497.8,1777.1 L500.8,1775.8 L503.8,1776.8 L506.8,1773.1 L509.8,1772.7 L512.8,1763.5 L515.8,1752.0 L518.8,1743.0 L521.8,1739.1 L524.8,1741.4 L527.8,1747.3 L530.8,1750.5 L533.8,1749.7 L536.8,1746.0 L539.8,1744.3 L542.8,1738.9 L545.8,1731.4 L548.8,1725.6 L551.8,1722.9 L554.8,1726.6 L557.8,1728.4 L560.8,1731.5 L563.8,1728.6 L566.8,1724.1 L569.8,1721.4 L572.8,1717.9 L575.8,1715.0 L578.8,1707.1 L581.8,1701.0 L584.8,1699.3 L587.8,1701.7 L590.8,1706.9 L593.8,1712.8 L596.8,1718.1 L599.8,1720.5 L602.8,1719.9 L605.8,1720.3 L608.8,1718.8 L611.8,1721.9 L614.8,1724.2 L617.8,1728.1 L620.8,1727.9 L623.8,1727.4 L626.8,1726.2 L629.8,1732.2 L632.8,1736.2 L635.8,1739.6 L638.8,1739.4 L641.8,1737.5 L644.8,1737.7 L647.8,1739.6 L650.8,1742.8 L653.8,1736.4 L656.8,1719.5 L659.8,1709.2 L662.8,1708.0 L665.8,1712.5 L668.8,1720.4 L671.8,1718.2 L674.8,1713.3 L677.8,1716.8 L680.8,1726.3 L683.8,1740.4 L686.8,1741.6 L689.8,1738.0 L692.8,1730.8 L695.8,1726.1 L698.8,1724.3 L701.8,1727.1 L704.8,1728.2 L707.8,1729.1 L710.8,1731.1 L713.8,1736.5 L716.8,1735.9 L719.8,1734.2 L722.8,1728.5 L725.8,1721.2 L728.8,1720.2 L731.8,1722.3 L734.8,1723.5 L737.8,1713.7 L740.8,1698.5 L743.8,1693.5 L746.8,1693.8 L749.8,1701.0 L752.8,1706.9 L755.8,1710.3 L758.8,1708.6 L761.8,1709.7 L764.8,1714.8 L767.8,1713.1 L770.8,1710.3 L773.8,1701.3 L776.8,1692.0 L779.8,1684.6 L782.8,1686.5 L785.8,1690.9 L788.8,1694.3 L791.8,1691.1 L794.8,1690.7 L797.8,1684.6 L800.8,1677.7 L803.8,1675.2 L806.8,1676.0 L809.8,1678.7 L812.8,1681.4 L815.8,1679.5 L818.8,1679.5 L821.8,1680.1 L824.8,1685.9 L827.8,1696.6 L830.8,1704.3 L833.8,1705.2 L836.8,1701.1 L839.8,1697.9 L842.8,1691.6 L845.8,1694.1 L848.8,1699.1 L851.8,1702.8 L854.8,1697.6 L857.8,1693.1 L860.8,1685.5 L863.8,1679.3 L866.8,1677.3 L869.8,1675.7 L872.8,1677.0 L875.8,1689.5 L878.8,1700.0 L881.8,1706.1 L884.8,1706.9 L887.8,1703.2 L890.8,1695.1 L893.8,1691.3 L896.8,1696.3 L899.8,1706.7 L902.8,1714.0 L905.8,1718.7 L908.8,1716.9 L911.8,1713.5 L914.8,1705.5 L917.8,1692.5 L920.8,1688.0 L923.8,1682.3 L926.8,1687.8 L929.8,1691.9 L932.8,1700.0 L935.8,1695.7 L938.8,1691.4 L941.8,1687.8 L944.8,1682.7 L947.8,1682.3 L950.8,1680.7 L953.8,1679.1 L956.8,1672.1 L959.8,1670.0 L962.8,1676.6 L965.8,1685.1 L968.8,1684.5 L971.8,1674.3 L974.8,1659.5 L977.8,1652.5 L980.8,1647.4 L983.8,1648.3 L986.8,1647.9 L989.8,1647.5 L992.8,1640.3 L995.8,1641.4 L998.8,1640.7 L1001.8,1644.6 L1004.8,1643.9 L1007.8,1639.1 L1010.8,1635.8 L1013.8,1628.2 L1016.8,1625.2 L1019.8,1624.0 L1022.8,1620.1 L1025.8,1620.0 L1028.8,1608.4 L1031.8,1606.7 L1034.8,1604.6 L1037.8,1602.2 L1040.8,1600.1 L1043.8,1602.3 L1046.8,1601.4 L1049.8,1599.6 L1052.8,1602.3 L1055.8,1604.6 L1058.8,1613.5 L1061.8,1615.0 L1064.8,1613.2 L1067.8,1610.6 L1070.8,1601.4 L1073.8,1601.6 L1076.8,1601.9 L1079.8,1613.5 L1082.8,1620.7 L1085.8,1625.2 L1088.8,1623.9 L1091.8,1620.6 L1094.8,1613.6 L1097.8,1601.2 L1100.8,1601.1 L1103.8,1607.3 L1106.8,1610.0 L1109.8,1614.0 L1112.8,1612.7 L1115.8,1615.2 L1118.8,1614.3 L1121.8,1613.1 L1124.8,1612.1 L1127.8,1610.2 L1130.8,1610.8 L1133.8,1606.8 L1136.8,1615.7 L1139.8,1632.5 L1142.8,1649.8 L1145.8,1660.8 L1148.8,1664.5 L1151.8,1668.0 L1154.8,1674.4 L1157.8,1679.7 L1160.8,1681.0 L1163.8,1679.4 L1166.8,1678.2 L1169.8,1677.9 L1172.8,1685.4 L1175.8,1689.2 L1178.8,1681.3 L1181.8,1672.4 L1184.8,1669.2 L1187.8,1668.9 L1190.8,1678.9 L1193.8,1681.5 L1196.8,1670.8 L1199.8,1656.9 L1202.8,1653.2 L1205.8,1661.6 L1208.8,1673.3 L1211.8,1683.8 L1214.8,1690.4 L1217.8,1692.0 L1220.8,1695.3 L1223.8,1691.2 L1226.8,1679.1 L1229.8,1668.5 L1232.8,1665.4 L1235.8,1659.8 L1238.8,1657.1 L1241.8,1653.0 L1244.8,1656.7 L1247.8,1657.5 L1250.8,1662.2 L1253.8,1661.0 L1256.8,1660.2 L1259.8,1666.3 L1262.8,1669.6 L1265.8,1671.0 L1268.8,1669.6 L1271.8,1662.9 L1274.8,1651.6 L1277.8,1658.7 L1280.8,1667.8 L1283.8,1687.5 L1286.8,1691.9 L1289.8,1697.5 L1292.8,1690.1 L1295.8,1685.7 L1298.8,1681.7 L1301.8,1677.9 L1304.8,1664.4 L1307.8,1657.0 L1310.8,1649.2 L1313.8,1640.5 L1316.8,1631.4 L1319.8,1624.7 L1322.8,1615.9 L1325.8,1611.1 L1328.8,1617.0 L1331.8,1615.9 L1334.8,1619.3 L1337.8,1619.9 L1340.8,1619.5 L1343.8,1613.7 L1346.8,1610.8 L1349.8,1614.8 L1352.8,1621.8 L1355.8,1638.5 L1358.8,1649.8 L1361.8,1649.2 L1364.8,1651.7 L1367.8,1656.3 L1370.8,1657.2 L1373.8,1657.2 L1376.8,1655.2 L1378.2,1650.4 L1378.2,1844.0 L1376.8,1845.3 L1373.8,1848.8 L1370.8,1849.3 L1367.8,1844.3 L1364.8,1840.3 L1361.8,1842.6 L1358.8,1832.7 L1355.8,1825.1 L1352.8,1811.5 L1349.8,1805.1 L1346.8,1798.9 L1343.8,1802.4 L1340.8,1797.6 L1337.8,1802.2 L1334.8,1804.7 L1331.8,1802.2 L1328.8,1794.2 L1325.8,1797.2 L1322.8,1798.3 L1319.8,1800.4 L1316.8,1807.8 L1313.8,1818.8 L1310.8,1822.2 L1307.8,1830.6 L1304.8,1838.5 L1301.8,1847.2 L1298.8,1856.0 L1295.8,1864.5 L1292.8,1864.4 L1289.8,1864.4 L1286.8,1861.6 L1283.8,1856.6 L1280.8,1837.7 L1277.8,1826.5 L1274.8,1827.0 L1271.8,1831.5 L1268.8,1841.2 L1265.8,1841.3 L1262.8,1837.7 L1259.8,1832.5 L1256.8,1835.0 L1253.8,1834.3 L1250.8,1830.1 L1247.8,1822.4 L1244.8,1820.7 L1241.8,1821.2 L1238.8,1825.7 L1235.8,1825.9 L1232.8,1832.0 L1229.8,1837.5 L1226.8,1847.2 L1223.8,1854.3 L1220.8,1864.9 L1217.8,1866.1 L1214.8,1859.6 L1211.8,1854.7 L1208.8,1847.0 L1205.8,1829.3 L1202.8,1824.8 L1199.8,1830.7 L1196.8,1843.3 L1193.8,1845.3 L1190.8,1843.6 L1187.8,1839.1 L1184.8,1834.3 L1181.8,1842.1 L1178.8,1850.4 L1175.8,1854.7 L1172.8,1852.3 L1169.8,1844.6 L1166.8,1846.2 L1163.8,1847.5 L1160.8,1851.9 L1157.8,1844.7 L1154.8,1842.0 L1151.8,1840.2 L1148.8,1834.2 L1145.8,1829.2 L1142.8,1814.7 L1139.8,1801.2 L1136.8,1783.6 L1133.8,1774.4 L1130.8,1773.9 L1127.8,1775.9 L1124.8,1781.7 L1121.8,1780.8 L1118.8,1778.7 L1115.8,1781.6 L1112.8,1774.6 L1109.8,1776.6 L1106.8,1768.7 L1103.8,1768.3 L1100.8,1761.2 L1097.8,1763.2 L1094.8,1771.1 L1091.8,1779.0 L1088.8,1787.1 L1085.8,1784.4 L1082.8,1779.1 L1079.8,1767.1 L1076.8,1751.7 L1073.8,1754.7 L1070.8,1755.6 L1067.8,1768.4 L1064.8,1777.7 L1061.8,1779.4 L1058.8,1770.6 L1055.8,1765.4 L1052.8,1757.6 L1049.8,1757.3 L1046.8,1758.1 L1043.8,1757.9 L1040.8,1751.8 L1037.8,1751.8 L1034.8,1749.6 L1031.8,1754.7 L1028.8,1755.0 L1025.8,1765.2 L1022.8,1764.9 L1019.8,1772.2 L1016.8,1771.1 L1013.8,1771.4 L1010.8,1776.0 L1007.8,1775.7 L1004.8,1779.3 L1001.8,1781.8 L998.8,1783.1 L995.8,1776.3 L992.8,1780.0 L989.8,1781.4 L986.8,1784.9 L983.8,1784.6 L980.8,1781.6 L977.8,1782.0 L974.8,1793.2 L971.8,1806.2 L968.8,1814.5 L965.8,1818.6 L962.8,1809.1 L959.8,1802.1 L956.8,1804.6 L953.8,1807.4 L950.8,1812.0 L947.8,1810.8 L944.8,1813.4 L941.8,1817.4 L938.8,1822.4 L935.8,1828.1 L932.8,1828.5 L929.8,1823.6 L926.8,1819.8 L923.8,1815.2 L920.8,1820.7 L917.8,1825.6 L914.8,1836.4 L911.8,1845.9 L908.8,1850.0 L905.8,1848.6 L902.8,1841.6 L899.8,1833.4 L896.8,1828.6 L893.8,1823.6 L890.8,1829.4 L887.8,1833.9 L884.8,1840.1 L881.8,1836.2 L878.8,1825.0 L875.8,1814.3 L872.8,1801.2 L869.8,1792.4 L866.8,1794.3 L863.8,1800.9 L860.8,1805.1 L857.8,1814.9 L854.8,1817.2 L851.8,1819.5 L848.8,1816.6 L845.8,1812.6 L842.8,1810.8 L839.8,1815.1 L836.8,1820.8 L833.8,1824.5 L830.8,1820.8 L827.8,1815.1 L824.8,1801.1 L821.8,1795.2 L818.8,1795.2 L815.8,1790.2 L812.8,1789.6 L809.8,1788.7 L806.8,1782.8 L803.8,1782.0 L800.8,1788.2 L797.8,1793.3 L794.8,1796.0 L791.8,1801.3 L788.8,1798.9 L785.8,1796.2 L782.8,1795.3 L779.8,1794.0 L776.8,1798.8 L773.8,1809.9 L770.8,1817.2 L767.8,1820.2 L764.8,1820.0 L761.8,1816.2 L758.8,1815.1 L755.8,1814.0 L752.8,1808.7 L749.8,1804.5 L746.8,1796.9 L743.8,1795.4 L740.8,1799.5 L737.8,1812.6 L734.8,1822.7 L731.8,1821.4 L728.8,1816.2 L725.8,1818.8 L722.8,1823.1 L719.8,1827.2 L716.8,1831.6 L713.8,1829.0 L710.8,1824.3 L707.8,1819.6 L704.8,1819.8 L701.8,1817.0 L698.8,1812.2 L695.8,1813.0 L692.8,1816.6 L689.8,1821.9 L686.8,1827.0 L683.8,1823.0 L680.8,1808.4 L677.8,1796.1 L674.8,1794.6 L671.8,1796.7 L668.8,1798.8 L665.8,1789.7 L662.8,1784.0 L659.8,1785.5 L656.8,1796.5 L653.8,1809.6 L650.8,1813.5 L647.8,1811.6 L644.8,1810.8 L641.8,1808.3 L638.8,1809.2 L635.8,1811.8 L632.8,1806.8 L629.8,1802.3 L626.8,1796.4 L623.8,1797.0 L620.8,1796.5 L617.8,1796.5 L614.8,1792.1 L611.8,1787.9 L608.8,1785.4 L605.8,1784.8 L602.8,1785.7 L599.8,1787.0 L596.8,1783.5 L593.8,1779.6 L590.8,1770.4 L587.8,1765.5 L584.8,1761.9 L581.8,1765.2 L578.8,1772.0 L575.8,1778.2 L572.8,1781.4 L569.8,1785.0 L566.8,1787.8 L563.8,1792.7 L560.8,1794.1 L557.8,1792.1 L554.8,1788.1 L551.8,1784.8 L548.8,1787.3 L545.8,1794.0 L542.8,1800.6 L539.8,1804.8 L536.8,1808.7 L533.8,1809.8 L530.8,1813.6 L527.8,1808.1 L524.8,1803.2 L521.8,1799.7 L518.8,1805.1 L515.8,1814.0 L512.8,1824.0 L509.8,1832.8 L506.8,1833.5 L503.8,1835.0 L500.8,1835.4 L497.8,1834.8 L494.8,1834.1 L491.8,1829.7 L488.8,1823.3 L485.8,1814.6 L482.8,1805.2 L479.8,1799.5 L476.8,1799.8 L473.8,1802.7 L470.8,1811.8 L467.8,1816.8 L464.8,1820.4 L461.8,1819.6 L458.8,1818.2 L455.8,1813.4 L452.8,1802.7 L449.8,1785.7 L446.8,1773.1 L443.8,1772.3 L440.8,1779.9 L437.8,1793.9 L434.8,1803.2 L431.8,1802.6 L428.8,1800.4 L425.8,1802.8 L422.8,1808.7 L419.8,1818.7 L416.8,1824.7 L413.8,1822.1 L410.8,1819.2 L407.8,1816.1 L404.8,1814.5 L401.8,1809.5 L398.8,1802.6 L395.8,1798.5 L392.8,1797.3 L389.8,1803.2 L386.8,1810.5 L383.8,1815.3 L380.8,1815.0 L377.8,1812.1 L374.8,1806.2 L371.8,1799.8 L368.8,1797.0 L365.8,1798.4 L362.8,1802.5 L359.8,1803.3 L356.8,1797.3 L353.8,1789.2 L350.8,1780.2 L347.8,1779.0 L344.8,1778.8 L341.8,1776.7 L338.8,1771.8 L335.8,1765.5 L332.8,1762.0 L329.8,1759.8 L326.8,1764.1 L323.8,1770.9 L320.8,1776.0 L317.8,1776.7 L314.8,1777.6 L311.8,1780.2 L308.8,1783.7 L305.8,1790.2 L302.8,1795.1 L299.8,1792.2 L296.8,1783.5 L293.8,1778.5 L290.8,1779.6 L287.8,1784.5 L284.8,1788.4 L281.8,1789.8 L278.8,1790.9 L275.8,1793.2 L272.8,1798.3 L269.8,1802.7 L266.8,1802.4 L263.8,1795.7 L260.8,1786.6 L257.8,1783.1 L254.8,1782.0 L251.8,1784.0 L248.8,1783.0 L245.8,1780.7 L242.8,1778.2 L239.8,1779.3 L236.8,1781.4 L233.8,1783.5 L230.8,1788.2 L227.8,1792.6 L224.8,1795.3 L221.8,1793.9 L218.8,1788.6 L215.8,1782.1 L212.8,1776.2 L209.8,1777.2 L206.8,1782.2 L203.8,1789.5 L200.8,1793.4 L197.8,1793.0 L194.8,1787.0 L191.8,1775.7 L188.8,1764.3 L185.8,1755.2 L182.8,1748.3 L179.8,1742.8 L176.8,1738.3 L173.8,1733.4 L170.8,1733.4 L167.8,1741.1 L164.8,1756.0 L161.8,1770.0 L158.8,1780.8 L155.8,1783.6 L152.8,1780.1 L149.8,1773.3 L146.8,1771.5 L143.8,1774.2 L140.8,1775.7 L137.8,1775.8 L134.8,1770.3 L131.8,1765.9 L128.8,1763.5 L125.8,1761.6 L122.8,1759.9 L119.8,1755.5 L116.8,1745.7 L113.8,1739.3 L110.8,1741.8 L107.8,1751.6 L104.8,1758.4 L101.8,1759.0 L98.8,1755.1 L95.8,1751.7 L92.8,1748.6 L89.8,1743.4 L86.8,1734.0 L83.8,1721.0 L80.8,1715.1 L77.8,1719.2 L74.8,1731.8 L71.8,1745.7 L68.8,1755.3 L65.8,1754.4 L62.8,1752.7 L59.8,1751.2 L56.8,1749.8 L53.8,1745.2 L50.8,1733.3 L47.8,1721.4 L44.8,1715.3Z" fill="#ff0000" fill-opacity="0.2" clip-path="url(#c3)"/>
<path d="M44.8,1707.2C45.4,1708.6 47.4,1710.5 48.7,1715.1C50.0,1719.7 51.3,1730.4 52.6,1734.8C54.0,1739.2 55.1,1740.2 56.6,1741.7C58.1,1743.2 59.9,1742.8 61.5,1743.7C63.1,1744.5 65.1,1746.1 66.4,1746.6C67.7,1747.1 68.2,1749.2 69.4,1746.6C70.5,1744.0 72.0,1736.8 73.3,1730.9C74.6,1725.0 75.9,1715.3 77.2,1711.2C78.6,1707.1 80.0,1705.9 81.2,1706.3C82.3,1706.6 83.0,1709.0 84.1,1713.1C85.3,1717.3 86.8,1726.6 88.1,1730.9C89.4,1735.1 90.5,1736.6 92.0,1738.7C93.5,1740.9 95.5,1741.9 96.9,1743.7C98.4,1745.5 99.7,1748.3 100.9,1749.6C102.0,1750.9 102.7,1752.7 103.8,1751.5C105.0,1750.4 106.6,1745.8 107.8,1742.7C108.9,1739.6 109.7,1735.0 110.7,1732.8C111.7,1730.7 112.7,1729.4 113.7,1729.9C114.6,1730.4 115.5,1732.7 116.6,1735.8C117.8,1738.9 119.1,1745.8 120.6,1748.6C122.0,1751.4 123.8,1751.5 125.5,1752.5C127.1,1753.5 128.9,1753.2 130.4,1754.5C131.9,1755.8 133.0,1758.3 134.3,1760.4C135.6,1762.5 137.0,1766.3 138.3,1767.3C139.6,1768.3 140.9,1767.3 142.2,1766.3C143.5,1765.3 144.8,1761.7 146.1,1761.4C147.5,1761.0 148.8,1762.4 150.1,1764.3C151.4,1766.3 152.9,1771.4 154.0,1773.2C155.2,1775.0 156.0,1775.8 157.0,1775.2C158.0,1774.5 158.8,1773.4 159.9,1769.3C161.1,1765.2 162.5,1756.9 163.9,1750.6C165.2,1744.2 166.6,1735.3 167.8,1730.9C168.9,1726.4 169.8,1725.1 170.7,1724.0C171.7,1722.8 172.6,1723.0 173.7,1724.0C174.8,1725.0 176.2,1727.6 177.6,1729.9C179.1,1732.2 181.1,1735.0 182.6,1737.8C184.0,1740.5 185.2,1742.8 186.5,1746.6C187.8,1750.4 189.1,1755.5 190.4,1760.4C191.7,1765.3 193.1,1772.2 194.4,1776.1C195.7,1780.1 197.0,1782.9 198.3,1784.0C199.6,1785.2 200.9,1784.8 202.2,1783.0C203.6,1781.2 204.9,1776.0 206.2,1773.2C207.5,1770.4 209.0,1767.4 210.1,1766.3C211.3,1765.2 211.9,1765.0 213.1,1766.3C214.2,1767.6 215.7,1771.4 217.0,1774.2C218.3,1777.0 219.8,1781.1 220.9,1783.0C222.1,1784.9 222.7,1785.8 223.9,1785.6C225.0,1785.4 226.4,1784.0 227.8,1782.0C229.3,1780.1 231.1,1776.3 232.8,1774.2C234.4,1772.0 236.0,1770.4 237.7,1769.3C239.3,1768.1 241.0,1767.0 242.6,1767.3C244.2,1767.6 246.0,1770.2 247.5,1771.2C249.0,1772.2 250.0,1773.4 251.5,1773.2C252.9,1773.0 254.9,1770.1 256.4,1770.2C257.9,1770.4 259.0,1771.5 260.3,1774.2C261.6,1776.8 262.9,1782.7 264.3,1786.0C265.6,1789.3 266.9,1793.5 268.2,1793.9C269.5,1794.2 270.8,1790.1 272.1,1788.0C273.4,1785.8 274.6,1782.7 276.1,1781.1C277.5,1779.4 279.3,1778.9 281.0,1778.1C282.6,1777.3 284.4,1777.6 285.9,1776.1C287.4,1774.7 288.7,1771.2 289.8,1769.3C291.0,1767.3 291.8,1764.8 292.8,1764.3C293.8,1763.8 294.8,1764.3 295.7,1766.3C296.7,1768.3 297.6,1773.9 298.7,1776.1C299.8,1778.4 301.3,1780.3 302.6,1779.7C304.0,1779.0 305.4,1774.8 306.6,1772.2C307.7,1769.6 308.1,1766.6 309.5,1764.3C310.9,1762.0 313.2,1759.7 314.9,1758.4C316.6,1757.1 318.4,1758.1 319.8,1756.5C321.3,1754.8 322.5,1751.5 323.8,1748.6C325.1,1745.6 326.6,1740.7 327.7,1738.7C328.9,1736.8 329.5,1736.6 330.7,1736.8C331.8,1736.9 333.3,1737.8 334.6,1739.7C335.9,1741.7 337.2,1746.0 338.5,1748.6C339.9,1751.2 341.0,1754.2 342.5,1755.5C344.0,1756.8 345.9,1756.3 347.4,1756.5C348.9,1756.6 350.0,1754.2 351.3,1756.5C352.7,1758.8 354.0,1766.5 355.3,1770.2C356.6,1774.0 358.1,1777.5 359.2,1779.1C360.4,1780.7 361.0,1780.9 362.2,1780.1C363.3,1779.3 365.0,1775.5 366.1,1774.2C367.3,1772.9 367.9,1771.5 369.1,1772.2C370.2,1772.9 371.5,1775.5 373.0,1778.1C374.5,1780.7 376.4,1785.5 377.9,1788.0C379.4,1790.4 380.5,1792.9 381.9,1792.9C383.2,1792.9 384.5,1790.4 385.8,1788.0C387.1,1785.5 388.4,1780.7 389.7,1778.1C391.0,1775.5 392.5,1773.0 393.7,1772.2C394.8,1771.4 395.5,1771.5 396.6,1773.2C397.8,1774.8 399.2,1779.4 400.6,1782.0C401.9,1784.7 403.0,1787.1 404.5,1788.9C406.0,1790.7 407.9,1791.6 409.4,1792.9C410.9,1794.2 412.2,1795.8 413.3,1796.8C414.5,1797.8 415.2,1799.6 416.3,1798.8C417.4,1798.0 418.9,1795.3 420.2,1791.9C421.5,1788.4 422.9,1781.1 424.2,1778.1C425.5,1775.2 426.8,1774.3 428.1,1774.2C429.4,1774.0 430.9,1776.6 432.0,1777.1C433.2,1777.6 433.9,1779.3 435.0,1777.1C436.1,1775.0 437.8,1769.1 438.9,1764.3C440.1,1759.6 440.9,1751.9 441.9,1748.6C442.9,1745.3 443.9,1744.6 444.8,1744.6C445.8,1744.6 446.8,1745.3 447.8,1748.6C448.8,1751.9 449.8,1758.8 450.7,1764.3C451.7,1769.9 452.6,1777.8 453.7,1782.0C454.8,1786.3 456.2,1788.0 457.6,1789.9C459.1,1791.8 461.1,1793.1 462.6,1793.5C464.0,1793.8 465.2,1793.5 466.5,1791.9C467.8,1790.3 469.1,1787.1 470.4,1784.0C471.7,1780.9 473.1,1775.6 474.4,1773.2C475.7,1770.7 477.0,1769.1 478.3,1769.3C479.6,1769.4 480.9,1771.4 482.2,1774.2C483.6,1777.0 484.9,1782.0 486.2,1786.0C487.5,1789.9 488.6,1794.7 490.1,1797.8C491.6,1800.9 493.4,1803.2 495.0,1804.7C496.7,1806.2 498.3,1806.5 500.0,1806.7C501.6,1806.8 503.2,1806.5 504.9,1805.7C506.5,1804.8 508.3,1804.4 509.8,1801.7C511.3,1799.1 512.4,1794.2 513.7,1789.9C515.1,1785.7 516.4,1779.4 517.7,1776.1C519.0,1772.9 520.5,1770.9 521.6,1770.2C522.8,1769.6 523.6,1770.9 524.6,1772.2C525.6,1773.5 526.5,1776.5 527.5,1778.1C528.5,1779.8 529.2,1782.0 530.5,1782.0C531.8,1782.0 533.8,1779.4 535.4,1778.1C537.0,1776.8 538.7,1776.5 540.3,1774.2C542.0,1771.9 543.8,1767.4 545.2,1764.3C546.7,1761.2 548.0,1757.3 549.2,1755.5C550.3,1753.7 551.0,1753.0 552.1,1753.5C553.3,1754.0 554.8,1756.6 556.1,1758.4C557.4,1760.2 558.7,1764.0 560.0,1764.3C561.3,1764.7 562.6,1762.0 563.9,1760.4C565.2,1758.8 566.4,1756.1 567.9,1754.5C569.4,1752.8 571.2,1752.5 572.8,1750.6C574.4,1748.6 576.2,1745.6 577.7,1742.7C579.2,1739.7 580.3,1735.0 581.7,1732.8C583.0,1730.7 584.3,1729.4 585.6,1729.9C586.9,1730.4 588.1,1733.1 589.5,1735.8C590.9,1738.5 592.4,1743.4 593.9,1746.3C595.5,1749.2 597.2,1752.0 598.9,1753.2C600.5,1754.3 602.1,1753.4 603.8,1753.2C605.4,1753.0 607.1,1751.7 608.7,1752.2C610.3,1752.7 612.0,1754.5 613.6,1756.1C615.3,1757.8 617.1,1761.1 618.5,1762.0C620.0,1763.0 621.2,1762.2 622.5,1762.0C623.8,1761.9 625.1,1760.1 626.4,1761.1C627.7,1762.0 629.0,1765.7 630.4,1768.0C631.7,1770.2 633.1,1773.5 634.3,1774.8C635.4,1776.2 635.9,1776.3 637.2,1775.8C638.6,1775.3 640.7,1772.1 642.2,1771.9C643.6,1771.7 644.8,1773.7 646.1,1774.8C647.4,1776.0 648.9,1778.6 650.0,1778.8C651.2,1778.9 652.0,1778.6 653.0,1775.8C654.0,1773.0 655.0,1766.8 655.9,1762.0C656.9,1757.3 657.9,1750.2 658.9,1747.3C659.9,1744.3 660.9,1744.0 661.9,1744.3C662.8,1744.7 663.8,1747.0 664.8,1749.3C665.8,1751.5 666.8,1756.5 667.8,1758.1C668.7,1759.8 669.7,1759.8 670.7,1759.1C671.7,1758.4 672.7,1755.2 673.7,1754.2C674.6,1753.2 675.6,1752.2 676.6,1753.2C677.6,1754.2 678.6,1756.0 679.6,1760.1C680.6,1764.2 681.5,1773.5 682.5,1777.8C683.5,1782.1 684.5,1784.5 685.5,1785.7C686.5,1786.8 687.4,1786.3 688.4,1784.7C689.4,1783.0 690.2,1778.6 691.4,1775.8C692.5,1773.0 694.0,1768.9 695.3,1768.0C696.6,1767.0 697.9,1768.8 699.3,1769.9C700.6,1771.1 701.9,1774.4 703.2,1774.8C704.5,1775.3 705.8,1772.4 707.1,1772.9C708.4,1773.4 709.8,1776.0 711.1,1777.8C712.4,1779.6 713.9,1782.6 715.0,1783.7C716.1,1784.8 716.8,1785.7 718.0,1784.7C719.1,1783.7 720.6,1780.3 721.9,1777.8C723.2,1775.3 724.7,1771.4 725.8,1769.9C727.0,1768.4 727.8,1768.6 728.8,1768.9C729.8,1769.3 730.7,1771.4 731.7,1771.9C732.7,1772.4 733.5,1773.5 734.7,1771.9C735.8,1770.2 737.5,1766.3 738.6,1762.0C739.8,1757.8 740.6,1749.5 741.6,1746.3C742.6,1743.1 743.5,1742.8 744.5,1742.8C745.5,1742.8 746.5,1744.2 747.5,1746.3C748.5,1748.4 749.3,1752.9 750.4,1755.2C751.6,1757.5 753.1,1758.9 754.4,1760.1C755.7,1761.2 757.0,1761.4 758.3,1762.0C759.6,1762.7 760.9,1762.9 762.2,1764.0C763.6,1765.2 765.0,1768.3 766.2,1768.9C767.3,1769.6 768.0,1769.6 769.1,1768.0C770.3,1766.3 771.8,1763.0 773.1,1759.1C774.4,1755.2 775.9,1747.8 777.0,1744.3C778.2,1740.9 778.8,1739.1 780.0,1738.4C781.1,1737.8 782.6,1739.1 783.9,1740.4C785.2,1741.7 786.7,1745.2 787.8,1746.3C789.0,1747.4 789.5,1747.9 790.8,1747.3C792.1,1746.6 794.2,1744.5 795.7,1742.4C797.2,1740.2 798.3,1736.6 799.6,1734.5C801.0,1732.4 802.4,1730.4 803.6,1729.6C804.7,1728.7 805.4,1728.7 806.5,1729.6C807.7,1730.4 809.0,1733.3 810.5,1734.5C811.9,1735.6 813.8,1736.0 815.4,1736.5C817.0,1736.9 818.8,1736.6 820.3,1737.4C821.8,1738.3 823.1,1738.8 824.3,1741.4C825.4,1744.0 826.2,1749.6 827.2,1753.2C828.2,1756.8 829.0,1760.9 830.2,1763.0C831.3,1765.2 832.8,1766.8 834.1,1766.0C835.4,1765.2 836.9,1760.4 838.0,1758.1C839.2,1755.8 840.0,1753.4 841.0,1752.2C842.0,1751.1 842.8,1750.6 843.9,1751.2C845.1,1751.9 846.6,1754.7 847.9,1756.1C849.2,1757.6 850.5,1759.9 851.8,1760.1C853.1,1760.2 854.3,1759.3 855.7,1757.1C857.2,1755.0 859.0,1750.7 860.7,1747.3C862.3,1743.8 864.3,1738.9 865.6,1736.5C866.9,1734.1 867.2,1732.4 868.5,1732.9C869.9,1733.4 872.5,1735.5 873.9,1739.6C875.3,1743.7 875.7,1752.1 876.9,1757.3C878.0,1762.6 879.5,1768.3 880.8,1771.1C882.1,1773.9 883.5,1774.5 884.8,1774.1C886.1,1773.6 887.6,1770.6 888.7,1768.1C889.8,1765.7 890.7,1760.9 891.7,1759.3C892.6,1757.7 893.5,1757.0 894.6,1758.3C895.8,1759.6 897.2,1764.0 898.5,1767.2C899.9,1770.3 901.2,1774.2 902.5,1777.0C903.8,1779.8 905.3,1782.7 906.4,1783.9C907.6,1785.0 908.2,1785.2 909.4,1783.9C910.5,1782.6 912.0,1779.8 913.3,1776.0C914.6,1772.3 915.9,1765.4 917.2,1761.3C918.6,1757.2 920.0,1753.4 921.2,1751.4C922.3,1749.4 923.0,1748.8 924.1,1749.4C925.3,1750.1 926.8,1753.1 928.1,1755.4C929.4,1757.7 930.9,1761.6 932.0,1763.2C933.2,1764.9 933.8,1766.2 935.0,1765.2C936.1,1764.2 937.4,1759.9 938.9,1757.3C940.4,1754.7 942.2,1751.4 943.8,1749.4C945.5,1747.5 947.3,1746.2 948.7,1745.5C950.2,1744.9 951.5,1746.5 952.7,1745.5C953.8,1744.5 954.6,1741.1 955.6,1739.6C956.6,1738.1 957.6,1736.7 958.6,1736.7C959.6,1736.7 960.6,1737.8 961.5,1739.6C962.5,1741.4 963.5,1745.4 964.5,1747.5C965.5,1749.5 966.5,1751.8 967.4,1751.8C968.4,1751.8 969.4,1750.5 970.4,1747.5C971.4,1744.5 972.4,1738.3 973.3,1733.7C974.3,1729.1 975.3,1723.0 976.3,1719.9C977.3,1716.8 978.1,1715.5 979.3,1715.0C980.4,1714.5 982.0,1716.3 983.2,1717.0C984.3,1717.6 985.0,1719.4 986.1,1718.9C987.3,1718.4 988.8,1715.7 990.1,1714.0C991.4,1712.4 992.7,1709.8 994.0,1709.1C995.3,1708.4 996.6,1709.1 998.0,1710.1C999.3,1711.1 1000.6,1715.0 1001.9,1715.0C1003.2,1715.0 1004.4,1711.9 1005.8,1710.1C1007.3,1708.3 1009.1,1705.8 1010.7,1704.2C1012.4,1702.5 1014.0,1701.4 1015.7,1700.2C1017.3,1699.1 1019.0,1698.6 1020.6,1697.3C1022.2,1696.0 1024.0,1694.8 1025.5,1692.4C1027.0,1689.9 1028.1,1685.1 1029.4,1682.5C1030.8,1679.9 1032.1,1677.8 1033.4,1676.6C1034.7,1675.5 1036.0,1675.3 1037.3,1675.6C1038.6,1676.0 1039.9,1677.7 1041.3,1678.6C1042.6,1679.5 1043.9,1680.7 1045.2,1680.9C1046.5,1681.2 1047.8,1680.2 1049.1,1680.2C1050.4,1680.1 1051.8,1679.2 1053.1,1680.6C1054.4,1681.9 1055.7,1685.6 1057.0,1688.4C1058.3,1691.2 1059.8,1695.6 1060.9,1697.3C1062.1,1698.9 1062.7,1699.4 1063.9,1698.3C1065.0,1697.1 1066.7,1693.3 1067.8,1690.4C1069.0,1687.4 1069.6,1682.9 1070.8,1680.6C1071.9,1678.2 1073.6,1676.4 1074.7,1676.2C1075.9,1676.1 1076.5,1676.2 1077.7,1679.6C1078.8,1682.9 1080.3,1691.9 1081.6,1696.3C1082.9,1700.7 1084.4,1704.4 1085.6,1706.1C1086.7,1707.8 1087.4,1707.8 1088.5,1706.5C1089.7,1705.2 1091.1,1701.6 1092.4,1698.3C1093.8,1694.9 1095.1,1689.1 1096.4,1686.5C1097.7,1683.8 1099.0,1682.1 1100.3,1682.1C1101.6,1682.1 1102.8,1684.6 1104.3,1686.5C1105.7,1688.3 1107.5,1691.7 1109.2,1693.3C1110.8,1695.0 1112.5,1696.0 1114.1,1696.3C1115.7,1696.6 1117.2,1695.3 1119.0,1695.3C1120.8,1695.3 1123.3,1696.6 1124.9,1696.3C1126.6,1696.0 1127.5,1694.1 1128.9,1693.3C1130.2,1692.6 1131.5,1691.5 1132.8,1692.0C1134.1,1692.5 1135.7,1693.6 1136.7,1696.3C1137.7,1699.0 1137.8,1702.9 1138.7,1708.1C1139.6,1713.4 1140.8,1721.9 1142.0,1727.8C1143.2,1733.7 1144.6,1739.6 1145.9,1743.5C1147.2,1747.5 1148.4,1749.1 1149.8,1751.4C1151.3,1753.7 1153.3,1755.0 1154.8,1757.3C1156.2,1759.6 1157.6,1763.4 1158.7,1765.2C1159.8,1767.0 1160.5,1768.5 1161.7,1768.1C1162.8,1767.8 1164.4,1764.4 1165.6,1763.2C1166.7,1762.1 1167.4,1760.4 1168.5,1761.3C1169.7,1762.1 1171.3,1766.6 1172.5,1768.1C1173.6,1769.7 1174.3,1771.0 1175.4,1770.7C1176.6,1770.4 1178.2,1768.7 1179.4,1766.2C1180.5,1763.6 1181.3,1758.0 1182.3,1755.4C1183.3,1752.7 1184.3,1750.1 1185.3,1750.4C1186.3,1750.8 1187.1,1754.9 1188.2,1757.3C1189.4,1759.8 1190.9,1764.5 1192.2,1765.2C1193.5,1765.9 1195.0,1764.5 1196.1,1761.3C1197.3,1758.0 1198.1,1749.6 1199.1,1745.5C1200.0,1741.4 1201.0,1737.3 1202.0,1736.7C1203.0,1736.0 1204.0,1738.1 1205.0,1741.6C1205.9,1745.0 1206.8,1752.4 1207.9,1757.3C1209.1,1762.2 1210.5,1767.7 1211.9,1771.1C1213.2,1774.5 1214.6,1776.5 1215.8,1778.0C1216.9,1779.5 1217.6,1780.3 1218.7,1780.0C1219.9,1779.6 1221.4,1778.5 1222.7,1776.0C1224.0,1773.6 1225.3,1769.6 1226.6,1765.2C1227.9,1760.8 1229.1,1753.2 1230.6,1749.4C1232.0,1745.7 1234.0,1744.2 1235.5,1742.6C1236.9,1740.9 1237.9,1740.4 1239.4,1739.6C1240.9,1738.8 1242.9,1737.3 1244.3,1737.6C1245.8,1738.0 1246.8,1740.1 1248.3,1741.6C1249.7,1743.1 1251.5,1745.3 1253.2,1746.5C1254.8,1747.6 1256.5,1747.3 1258.1,1748.5C1259.8,1749.6 1261.6,1751.9 1263.0,1753.4C1264.5,1754.9 1265.7,1758.0 1267.0,1757.3C1268.3,1756.7 1269.8,1752.4 1270.9,1749.4C1272.1,1746.5 1272.9,1741.2 1273.9,1739.6C1274.8,1738.0 1275.8,1738.0 1276.8,1739.6C1277.8,1741.2 1278.8,1744.9 1279.8,1749.4C1280.7,1754.0 1281.7,1762.6 1282.7,1767.2C1283.7,1771.8 1284.5,1774.8 1285.7,1777.0C1286.8,1779.2 1288.1,1780.6 1289.6,1780.6C1291.1,1780.6 1293.1,1778.3 1294.5,1777.0C1296.0,1775.8 1297.2,1775.7 1298.5,1773.1C1299.8,1770.4 1301.1,1765.9 1302.4,1761.3C1303.7,1756.7 1304.9,1750.1 1306.3,1745.5C1307.8,1740.9 1309.6,1737.6 1311.3,1733.7C1312.9,1729.8 1314.7,1725.8 1316.2,1721.9C1317.7,1718.0 1318.6,1713.0 1320.1,1710.1C1321.6,1707.1 1323.6,1704.8 1325.0,1704.2C1326.5,1703.5 1327.7,1705.2 1329.0,1706.1C1330.3,1707.1 1331.4,1709.1 1332.9,1710.1C1334.4,1711.1 1336.4,1712.4 1337.8,1712.0C1339.3,1711.7 1340.5,1709.1 1341.8,1708.1C1343.1,1707.1 1344.6,1706.3 1345.7,1706.1C1346.9,1706.0 1347.7,1706.1 1348.7,1707.1C1349.6,1708.1 1350.6,1708.9 1351.6,1712.0C1352.6,1715.2 1353.6,1721.2 1354.6,1725.8C1355.6,1730.4 1356.4,1736.5 1357.5,1739.6C1358.7,1742.7 1360.0,1743.2 1361.5,1744.5C1362.9,1745.8 1364.9,1745.8 1366.4,1747.5C1367.9,1749.1 1369.0,1752.9 1370.3,1754.4C1371.6,1755.8 1372.9,1757.8 1374.3,1756.3C1375.6,1754.9 1377.5,1747.3 1378.2,1745.5" fill="none" stroke="#ee0505" stroke-width="3.3" stroke-linejoin="round" stroke-linecap="round"/>
<g font-size="30.6" text-anchor="middle" fill="#1a1a1a"><text x="56" y="563.5">-3000</text><text x="275.6" y="563.5">-2500</text><text x="496" y="563.5">-2000</text><text x="716" y="563.5">-1500</text><text x="936.5" y="563.5">-1000</text><text x="1160.5" y="563.5">-500</text><text x="1363" y="563.5">0</text><text x="44" y="1092">-3000</text><text x="44" y="1832">-3000</text><text x="266" y="1092">-2500</text><text x="266" y="1832">-2500</text><text x="488" y="1092">-2000</text><text x="488" y="1832">-2000</text><text x="709" y="1092">-1500</text><text x="709" y="1832">-1500</text><text x="932" y="1092">-1000</text><text x="932" y="1832">-1000</text><text x="1157" y="1092">-500</text><text x="1157" y="1832">-500</text><text x="1362" y="1092">0</text><text x="1362" y="1832">0</text></g><g font-size="31.4" text-anchor="middle" fill="#1a1a1a"><text x="1416.4" y="591.8">0</text><text x="1416.4" y="723.3">-2</text><text x="1416.4" y="855.3">-4</text><text x="1416.4" y="987.3">-6</text><text x="1412" y="1133">0</text><text x="1412" y="1263.3">-2</text><text x="1412" y="1395.3">-4</text><text x="1412" y="1528.3">-6</text><text x="1412" y="1629.3">2</text><text x="1412" y="1762.3">0</text><text x="1412" y="1896.3">-2</text></g>
<text x="710" y="1893" font-size="44" text-anchor="middle">Times (ms)</text>
<text transform="translate(1508.7,1343) rotate(-90)" font-size="49.2" text-anchor="middle">Amplitude (µV)</text>
<path d="M269,825 H331.5" stroke="#1010ff" stroke-width="5.5"/><path d="M269,886 H331.5" stroke="#ff1010" stroke-width="5.5"/><text x="347.5" y="837.3" font-size="40.5">Hits</text><text x="347.5" y="898.8" font-size="40.5">Misses</text>
<path d="M269,1461 H331.5" stroke="#1010ff" stroke-width="5.5"/><path d="M269,1522 H331.5" stroke="#ff1010" stroke-width="5.5"/><text x="347.5" y="1473.3" font-size="40.5">Hits</text><text x="347.5" y="1534.8" font-size="40.5">Misses</text>
<text x="136.6" y="849.3" font-size="42.5" text-anchor="middle">Frontal</text>
<text x="136.6" y="1374.2" font-size="42.5" text-anchor="middle">Central</text>
<text x="136.6" y="1681.5" font-size="42.5" text-anchor="middle">Parietal</text>
</g>
<g filter="url(#soft2)"><g transform="translate(138.1,730.3)"><path d="M-11.5,-73 L-1.2,-91.5 L10,-73" fill="#fff" stroke="#111" stroke-width="2.8" stroke-linejoin="round"/><circle r="73.8" fill="#fff" stroke="#000" stroke-width="4"/><ellipse cx="-24.2" cy="-32.2" rx="9" ry="8.6" fill="#000"/><ellipse cx="-1.2" cy="-43" rx="9" ry="8.6" fill="#000"/><ellipse cx="20.8" cy="-32.2" rx="9" ry="8.6" fill="#000"/></g>
<g transform="translate(138.1,1255.2)"><path d="M-11.5,-73 L-1.2,-91.5 L10,-73" fill="#fff" stroke="#111" stroke-width="2.8" stroke-linejoin="round"/><circle r="73.8" fill="#fff" stroke="#000" stroke-width="4"/><ellipse cx="-24.2" cy="2.6" rx="9" ry="8.6" fill="#000"/><ellipse cx="-1.2" cy="-11.2" rx="9" ry="8.6" fill="#000"/><ellipse cx="20.8" cy="2.6" rx="9" ry="8.6" fill="#000"/></g>
<g transform="translate(138.1,1562.5)"><path d="M-11.5,-73 L-1.2,-91.5 L10,-73" fill="#fff" stroke="#111" stroke-width="2.8" stroke-linejoin="round"/><circle r="73.8" fill="#fff" stroke="#000" stroke-width="4"/><ellipse cx="-24.2" cy="38.8" rx="9" ry="8.6" fill="#000"/><ellipse cx="-1.2" cy="25.5" rx="9" ry="8.6" fill="#000"/><ellipse cx="20.8" cy="39.5" rx="9" ry="8.6" fill="#000"/></g>
</g>
<text x="592" y="1022" font-size="38" textLength="508" lengthAdjust="spacingAndGlyphs">Approx. Backswing initiated</text>
<text x="592" y="1580" font-size="38" textLength="508" lengthAdjust="spacingAndGlyphs">Approx. Backswing initiated</text>
<path d="M946.5,605 V983" stroke="#000" stroke-width="4.5" stroke-dasharray="21 18.6" fill="none"/>
<path d="M948,1142 V1520" stroke="#000" stroke-width="4.5" stroke-dasharray="21 18.6" fill="none"/>
<path d="M947.5,1608 V1788" stroke="#000" stroke-width="4.5" stroke-dasharray="21 18.6" fill="none"/>
</svg>
</body></html>
